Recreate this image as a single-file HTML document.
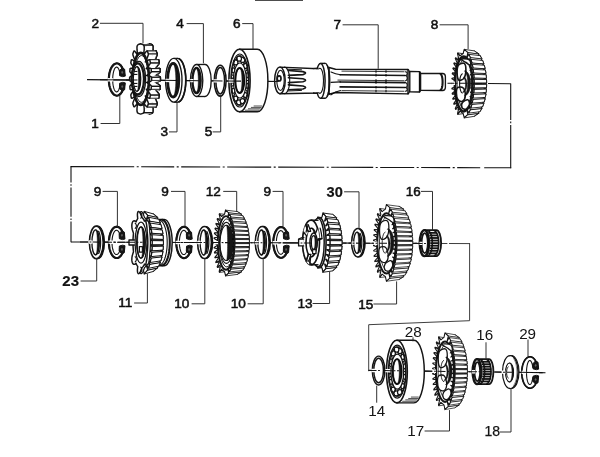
<!DOCTYPE html>
<html lang="en">
<head>
<meta charset="utf-8">
<title>Gearbox - exploded view</title>
<style>
html,body{margin:0;padding:0;background:#fff;}
body{width:600px;height:457px;overflow:hidden;font-family:"Liberation Sans",sans-serif;}
svg text{font-family:"Liberation Sans",sans-serif;}
</style>
</head>
<body>
<svg width="600" height="457" viewBox="0 0 600 457" font-family="'Liberation Sans', sans-serif" style="display:block;filter:url(#soft)">
<defs><filter id="soft" x="0" y="0" width="100%" height="100%"><feGaussianBlur stdDeviation="0.4"/></filter></defs>
<rect width="600" height="457" fill="#fff"/>
<line x1="255" y1="0.2" x2="303" y2="0.2" stroke="#121212" stroke-width="1.34" stroke-linecap="butt"/>
<line x1="87" y1="79.6" x2="280" y2="81.51" stroke="#121212" stroke-width="1.22" stroke-linecap="butt"/>
<line x1="488" y1="83.57" x2="510.7" y2="83.79" stroke="#121212" stroke-width="1.1" stroke-linecap="butt"/>
<line x1="510.7" y1="83.39" x2="510.7" y2="120" stroke="#121212" stroke-width="1.1" stroke-linecap="butt"/>
<line x1="510.7" y1="121.6" x2="510.7" y2="123.2" stroke="#121212" stroke-width="1.1" stroke-linecap="butt"/>
<line x1="510.7" y1="125" x2="510.7" y2="168.2" stroke="#121212" stroke-width="1.1" stroke-linecap="butt"/>
<line x1="511.2" y1="167.8" x2="70.5" y2="166.6" stroke="#121212" stroke-width="1.1" stroke-linecap="butt" stroke-dasharray="27 4 23 2.5 2 2.5 29 2.5 2 2.5 34 2.5 2 2.5 42 2.5 2 2.5 46 2.5 2 2.5 44 2.5 2 2.5 39 2.5 2 2.5 33 2.5 2 2.5 70"/>
<line x1="71" y1="166.4" x2="71" y2="242.2" stroke="#121212" stroke-width="1.1" stroke-linecap="butt" stroke-dasharray="16.2 1.6 1.6 1.6 29.4 1.6 1.6 1.6 40"/>
<line x1="71" y1="242" x2="441" y2="243.48" stroke="#121212" stroke-width="1.1" stroke-linecap="butt" stroke-dasharray="17 2 2.5 2"/>
<line x1="441" y1="243.48" x2="447.4" y2="243.51" stroke="#3a3a3a" stroke-width="0.98" stroke-linecap="butt"/>
<line x1="449" y1="243.51" x2="470" y2="243.6" stroke="#3a3a3a" stroke-width="0.98" stroke-linecap="butt"/>
<path d="M469.6 243.59 L469.6 320.7 L368.7 324.7 L368.7 370.8" fill="none" stroke="#3a3a3a" stroke-width="0.98" stroke-linejoin="miter" stroke-linecap="round"/>
<line x1="368.7" y1="370.4" x2="544" y2="372.68" stroke="#121212" stroke-width="1.1" stroke-linecap="butt" stroke-dasharray="12 2 2 2"/>
<path d="M124.83 75.38 L124.6 73.87 L124.29 72.42 L123.91 71.03 L123.46 69.72 L122.96 68.5 L122.39 67.38 L121.78 66.37 L121.12 65.49 L120.42 64.73 L119.68 64.12 L118.92 63.64 L118.14 63.31 L117.34 63.13 L116.55 63.1 L115.75 63.23 L114.96 63.5 L114.19 63.93 L113.45 64.49 L112.73 65.2 L112.06 66.04 L111.42 67 L110.84 68.08 L110.31 69.26 L109.85 70.54 L109.44 71.9 L109.11 73.34 L108.84 74.83 L108.65 76.36 L108.54 77.92 L108.5 79.5 L108.54 81.07 L108.65 82.63 L108.84 84.17 L109.11 85.66 L109.44 87.09 L109.85 88.45 L110.31 89.73 L110.84 90.91 L111.42 91.99 L112.06 92.96 L112.73 93.79 L113.45 94.5 L114.19 95.07 L114.96 95.49 L115.75 95.77 L116.55 95.89 L117.34 95.86 L118.14 95.68 L118.92 95.35 L119.68 94.88 L120.42 94.26 L121.12 93.5 L121.78 92.62 L122.39 91.61 L122.96 90.5 L123.46 89.28 L123.91 87.96 L124.29 86.58 L124.6 85.12 L124.83 83.61 L120.15 84.65 L119.99 85.64 L119.8 86.59 L119.58 87.48 L119.34 88.31 L119.08 89.06 L118.8 89.73 L118.5 90.32 L118.19 90.82 L117.86 91.23 L117.52 91.55 L117.17 91.76 L116.82 91.88 L116.47 91.89 L116.12 91.8 L115.77 91.61 L115.43 91.33 L115.1 90.94 L114.78 90.46 L114.48 89.9 L114.19 89.24 L113.92 88.51 L113.68 87.71 L113.46 86.83 L113.26 85.9 L113.09 84.92 L112.95 83.89 L112.84 82.82 L112.76 81.73 L112.72 80.62 L112.7 79.5 L112.72 78.38 L112.76 77.27 L112.84 76.17 L112.95 75.11 L113.09 74.08 L113.26 73.09 L113.46 72.16 L113.68 71.29 L113.92 70.48 L114.19 69.75 L114.48 69.1 L114.78 68.53 L115.1 68.05 L115.43 67.67 L115.77 67.38 L116.12 67.19 L116.47 67.1 L116.82 67.12 L117.17 67.23 L117.52 67.45 L117.86 67.76 L118.19 68.17 L118.5 68.67 L118.8 69.26 L119.08 69.94 L119.34 70.69 L119.58 71.51 L119.8 72.4 L119.99 73.35 L120.15 74.35 Z" fill="#fff" stroke="#121212" stroke-width="1.1" stroke-linejoin="round" stroke-linecap="round"/>
<path d="M123.31 70.29 L122.68 68.71 L121.96 67.29 L121.16 66.07 L120.29 65.07 L119.36 64.3 L118.38 63.77 L117.39 63.49 L116.38 63.47 L115.39 63.7 L114.41 64.19 L113.47 64.92 L112.59 65.89 L111.77 67.07 L111.03 68.45 L110.39 70.01 L109.85 71.72 L109.42 73.55 L109.1 75.48 L108.91 77.47 L108.85 79.5 L108.91 81.52 L109.1 83.52 L109.42 85.44 L109.85 87.28 L110.39 88.99 L111.03 90.55 L111.77 91.93 L112.59 93.11 L113.47 94.07 L114.41 94.8 L115.39 95.29 L116.38 95.53 L117.39 95.5 L118.38 95.22 L119.36 94.7 L120.29 93.92 L121.16 92.92 L121.96 91.7 L122.68 90.29 L123.31 88.7" fill="none" stroke="#121212" stroke-width="2.2" stroke-linejoin="round" stroke-linecap="round"/>
<path d="M125.23 75.78 L124.63 69.18 L122.03 67.98 L119.43 70.78 L119.63 75.78 L122.43 76.58 Z" fill="#121212" stroke="#121212" stroke-width="0.98" stroke-linejoin="round" stroke-linecap="round"/>
<ellipse cx="122.23" cy="72.38" rx="0.8" ry="1.1" fill="#666" stroke="#666" stroke-width="0.37"/>
<path d="M125.23 83.21 L124.63 89.81 L122.03 91.01 L119.43 88.21 L119.63 83.21 L122.43 82.41 Z" fill="#121212" stroke="#121212" stroke-width="0.98" stroke-linejoin="round" stroke-linecap="round"/>
<ellipse cx="122.23" cy="86.61" rx="0.8" ry="1.1" fill="#666" stroke="#666" stroke-width="0.37"/>
<line x1="107.6" y1="79.8" x2="113.4" y2="79.86" stroke="#fff" stroke-width="3.42" stroke-linecap="butt"/>
<line x1="100" y1="79.73" x2="134" y2="80.07" stroke="#121212" stroke-width="1.04" stroke-linecap="butt"/>
<path d="M149.4 114.13 L151.63 113.4 L152.54 112.67 L153.03 111.09 L152.99 108.23 L152.61 105 L152.32 102.73 L153.15 103.79 L154.37 105.57 L155.49 106.81 L156.12 106.8 L156.41 106.07 L156.68 105.33 L156.93 104.6 L157.16 103.87 L156.98 102.52 L156.1 100.24 L154.91 97.72 L154.11 95.93 L155.15 96.51 L156.7 97.58 L158.04 98.23 L158.65 98 L158.79 97.27 L158.93 96.53 L159.05 95.8 L159.18 95.07 L158.79 93.94 L157.57 92.25 L156.02 90.45 L155 89.13 L156.15 89.24 L157.88 89.59 L159.32 89.65 L159.92 89.2 L159.99 88.47 L160.05 87.73 L160.11 87 L160.16 86.27 L159.66 85.37 L158.26 84.26 L156.54 83.18 L155.39 82.33 L156.57 81.97 L158.36 81.6 L159.82 81.08 L160.39 80.4 L160.4 79.67 L160.4 78.93 L160.4 78.2 L160.39 77.47 L159.82 76.79 L158.36 76.27 L156.57 75.9 L155.39 75.53 L156.54 74.69 L158.26 73.61 L159.66 72.5 L160.16 71.6 L160.11 70.87 L160.05 70.13 L159.99 69.4 L159.92 68.67 L159.32 68.21 L157.88 68.28 L156.15 68.63 L155 68.73 L156.02 67.42 L157.57 65.62 L158.79 63.93 L159.18 62.8 L159.05 62.07 L158.93 61.33 L158.79 60.6 L158.65 59.87 L158.04 59.64 L156.7 60.29 L155.15 61.36 L154.11 61.93 L154.91 60.14 L156.1 57.63 L156.98 55.35 L157.16 54 L156.93 53.27 L156.68 52.53 L156.41 51.8 L156.12 51.07 L155.49 51.06 L154.37 52.3 L153.15 54.08 L152.32 55.13 L152.61 52.87 L152.99 49.64 L153.03 46.77 L152.54 45.2 L151.63 44.47 L149.4 43.73 L147.17 44.47 L146.26 45.2 L145.77 46.77 L145.81 49.64 L146.19 52.87 L146.48 55.13 L145.65 54.08 L144.43 52.3 L143.31 51.06 L142.68 51.07 L142.39 51.8 L142.12 52.53 L141.87 53.27 L141.64 54 L141.82 55.35 L142.7 57.63 L143.89 60.14 L144.69 61.93 L143.65 61.36 L142.1 60.29 L140.76 59.64 L140.15 59.87 L140.01 60.6 L139.87 61.33 L139.75 62.07 L139.62 62.8 L140.01 63.93 L141.23 65.62 L142.78 67.42 L143.8 68.73 L142.65 68.63 L140.92 68.28 L139.48 68.21 L138.88 68.67 L138.81 69.4 L138.75 70.13 L138.69 70.87 L138.64 71.6 L139.14 72.5 L140.54 73.61 L142.26 74.69 L143.41 75.53 L142.23 75.9 L140.44 76.27 L138.98 76.79 L138.41 77.47 L138.4 78.2 L138.4 78.93 L138.4 79.67 L138.41 80.4 L138.98 81.08 L140.44 81.6 L142.23 81.97 L143.41 82.33 L142.26 83.18 L140.54 84.26 L139.14 85.37 L138.64 86.27 L138.69 87 L138.75 87.73 L138.81 88.47 L138.88 89.2 L139.48 89.65 L140.92 89.59 L142.65 89.24 L143.8 89.13 L142.78 90.45 L141.23 92.25 L140.01 93.94 L139.62 95.07 L139.75 95.8 L139.87 96.53 L140.01 97.27 L140.15 98 L140.76 98.23 L142.1 97.58 L143.65 96.51 L144.69 95.93 L143.89 97.72 L142.7 100.24 L141.82 102.52 L141.64 103.87 L141.87 104.6 L142.12 105.33 L142.39 106.07 L142.68 106.8 L143.31 106.81 L144.43 105.57 L145.65 103.79 L146.48 102.73 L146.19 105 L145.81 108.23 L145.77 111.09 L146.26 112.67 L147.17 113.4 Z" fill="#fff" stroke="#121212" stroke-width="1.46" stroke-linejoin="round" stroke-linecap="round"/>
<path d="M130.68 89.65 L132.12 89.59 L140.92 89.59 L139.48 89.65 Z" fill="#fff" stroke="#fff" stroke-width="0.37" stroke-linejoin="round" stroke-linecap="round"/>
<path d="M139.48 89.65 L140.92 89.59" fill="none" stroke="#121212" stroke-width="1.46" stroke-linejoin="round" stroke-linecap="round"/>
<path d="M132.12 68.28 L130.68 68.21 L139.48 68.21 L140.92 68.28 Z" fill="#fff" stroke="#fff" stroke-width="0.37" stroke-linejoin="round" stroke-linecap="round"/>
<path d="M140.92 68.28 L139.48 68.21" fill="none" stroke="#121212" stroke-width="1.46" stroke-linejoin="round" stroke-linecap="round"/>
<path d="M132.12 89.59 L133.85 89.24 L142.65 89.24 L140.92 89.59 Z" fill="#fff" stroke="#fff" stroke-width="0.37" stroke-linejoin="round" stroke-linecap="round"/>
<path d="M140.92 89.59 L142.65 89.24" fill="none" stroke="#121212" stroke-width="1.46" stroke-linejoin="round" stroke-linecap="round"/>
<path d="M133.85 68.63 L132.12 68.28 L140.92 68.28 L142.65 68.63 Z" fill="#fff" stroke="#fff" stroke-width="0.37" stroke-linejoin="round" stroke-linecap="round"/>
<path d="M142.65 68.63 L140.92 68.28" fill="none" stroke="#121212" stroke-width="1.46" stroke-linejoin="round" stroke-linecap="round"/>
<path d="M131.96 98.23 L133.3 97.58 L142.1 97.58 L140.76 98.23 Z" fill="#fff" stroke="#fff" stroke-width="0.37" stroke-linejoin="round" stroke-linecap="round"/>
<path d="M140.76 98.23 L142.1 97.58" fill="none" stroke="#121212" stroke-width="1.46" stroke-linejoin="round" stroke-linecap="round"/>
<path d="M133.3 60.29 L131.96 59.64 L140.76 59.64 L142.1 60.29 Z" fill="#fff" stroke="#fff" stroke-width="0.37" stroke-linejoin="round" stroke-linecap="round"/>
<path d="M142.1 60.29 L140.76 59.64" fill="none" stroke="#121212" stroke-width="1.46" stroke-linejoin="round" stroke-linecap="round"/>
<path d="M133.85 89.24 L135 89.13 L143.8 89.13 L142.65 89.24 Z" fill="#fff" stroke="#fff" stroke-width="0.37" stroke-linejoin="round" stroke-linecap="round"/>
<path d="M142.65 89.24 L143.8 89.13" fill="none" stroke="#121212" stroke-width="1.46" stroke-linejoin="round" stroke-linecap="round"/>
<path d="M135 68.73 L133.85 68.63 L142.65 68.63 L143.8 68.73 Z" fill="#fff" stroke="#fff" stroke-width="0.37" stroke-linejoin="round" stroke-linecap="round"/>
<path d="M143.8 68.73 L142.65 68.63" fill="none" stroke="#121212" stroke-width="1.46" stroke-linejoin="round" stroke-linecap="round"/>
<path d="M133.3 97.58 L134.85 96.51 L143.65 96.51 L142.1 97.58 Z" fill="#fff" stroke="#fff" stroke-width="0.37" stroke-linejoin="round" stroke-linecap="round"/>
<path d="M142.1 97.58 L143.65 96.51" fill="none" stroke="#121212" stroke-width="1.46" stroke-linejoin="round" stroke-linecap="round"/>
<path d="M134.85 61.36 L133.3 60.29 L142.1 60.29 L143.65 61.36 Z" fill="#fff" stroke="#fff" stroke-width="0.37" stroke-linejoin="round" stroke-linecap="round"/>
<path d="M143.65 61.36 L142.1 60.29" fill="none" stroke="#121212" stroke-width="1.46" stroke-linejoin="round" stroke-linecap="round"/>
<path d="M134.85 96.51 L135.89 95.93 L144.69 95.93 L143.65 96.51 Z" fill="#fff" stroke="#fff" stroke-width="0.37" stroke-linejoin="round" stroke-linecap="round"/>
<path d="M143.65 96.51 L144.69 95.93" fill="none" stroke="#121212" stroke-width="1.46" stroke-linejoin="round" stroke-linecap="round"/>
<path d="M135.89 61.93 L134.85 61.36 L143.65 61.36 L144.69 61.93 Z" fill="#fff" stroke="#fff" stroke-width="0.37" stroke-linejoin="round" stroke-linecap="round"/>
<path d="M144.69 61.93 L143.65 61.36" fill="none" stroke="#121212" stroke-width="1.46" stroke-linejoin="round" stroke-linecap="round"/>
<path d="M135.63 52.3 L134.51 51.06 L143.31 51.06 L144.43 52.3 Z" fill="#fff" stroke="#fff" stroke-width="0.37" stroke-linejoin="round" stroke-linecap="round"/>
<path d="M144.43 52.3 L143.31 51.06" fill="none" stroke="#121212" stroke-width="1.46" stroke-linejoin="round" stroke-linecap="round"/>
<path d="M134.51 106.81 L135.63 105.57 L144.43 105.57 L143.31 106.81 Z" fill="#fff" stroke="#fff" stroke-width="0.37" stroke-linejoin="round" stroke-linecap="round"/>
<path d="M143.31 106.81 L144.43 105.57" fill="none" stroke="#121212" stroke-width="1.46" stroke-linejoin="round" stroke-linecap="round"/>
<path d="M135.63 105.57 L136.85 103.79 L145.65 103.79 L144.43 105.57 Z" fill="#fff" stroke="#fff" stroke-width="0.37" stroke-linejoin="round" stroke-linecap="round"/>
<path d="M144.43 105.57 L145.65 103.79" fill="none" stroke="#121212" stroke-width="1.46" stroke-linejoin="round" stroke-linecap="round"/>
<path d="M136.85 54.08 L135.63 52.3 L144.43 52.3 L145.65 54.08 Z" fill="#fff" stroke="#fff" stroke-width="0.37" stroke-linejoin="round" stroke-linecap="round"/>
<path d="M145.65 54.08 L144.43 52.3" fill="none" stroke="#121212" stroke-width="1.46" stroke-linejoin="round" stroke-linecap="round"/>
<path d="M136.85 103.79 L137.68 102.73 L146.48 102.73 L145.65 103.79 Z" fill="#fff" stroke="#fff" stroke-width="0.37" stroke-linejoin="round" stroke-linecap="round"/>
<path d="M145.65 103.79 L146.48 102.73" fill="none" stroke="#121212" stroke-width="1.46" stroke-linejoin="round" stroke-linecap="round"/>
<path d="M137.68 55.13 L136.85 54.08 L145.65 54.08 L146.48 55.13 Z" fill="#fff" stroke="#fff" stroke-width="0.37" stroke-linejoin="round" stroke-linecap="round"/>
<path d="M146.48 55.13 L145.65 54.08" fill="none" stroke="#121212" stroke-width="1.46" stroke-linejoin="round" stroke-linecap="round"/>
<path d="M142.83 44.47 L140.6 43.73 L149.4 43.73 L151.63 44.47 Z" fill="#fff" stroke="#fff" stroke-width="0.37" stroke-linejoin="round" stroke-linecap="round"/>
<path d="M151.63 44.47 L149.4 43.73" fill="none" stroke="#121212" stroke-width="1.46" stroke-linejoin="round" stroke-linecap="round"/>
<path d="M140.6 114.13 L142.83 113.4 L151.63 113.4 L149.4 114.13 Z" fill="#fff" stroke="#fff" stroke-width="0.37" stroke-linejoin="round" stroke-linecap="round"/>
<path d="M149.4 114.13 L151.63 113.4" fill="none" stroke="#121212" stroke-width="1.46" stroke-linejoin="round" stroke-linecap="round"/>
<path d="M143.74 45.2 L142.83 44.47 L151.63 44.47 L152.54 45.2 Z" fill="#fff" stroke="#fff" stroke-width="0.37" stroke-linejoin="round" stroke-linecap="round"/>
<path d="M152.54 45.2 L151.63 44.47" fill="none" stroke="#121212" stroke-width="1.46" stroke-linejoin="round" stroke-linecap="round"/>
<path d="M143.74 45.2 L152.54 45.2" fill="none" stroke="#121212" stroke-width="1.22" stroke-linejoin="round" stroke-linecap="round"/>
<path d="M142.83 113.4 L143.74 112.67 L152.54 112.67 L151.63 113.4 Z" fill="#fff" stroke="#fff" stroke-width="0.37" stroke-linejoin="round" stroke-linecap="round"/>
<path d="M151.63 113.4 L152.54 112.67" fill="none" stroke="#121212" stroke-width="1.46" stroke-linejoin="round" stroke-linecap="round"/>
<path d="M143.74 112.67 L152.54 112.67" fill="none" stroke="#121212" stroke-width="1.22" stroke-linejoin="round" stroke-linecap="round"/>
<path d="M143.74 112.67 L144.23 111.09 L153.03 111.09 L152.54 112.67 Z" fill="#fff" stroke="#fff" stroke-width="0.37" stroke-linejoin="round" stroke-linecap="round"/>
<path d="M152.54 112.67 L153.03 111.09" fill="none" stroke="#121212" stroke-width="1.46" stroke-linejoin="round" stroke-linecap="round"/>
<path d="M143.74 112.67 L152.54 112.67" fill="none" stroke="#121212" stroke-width="1.22" stroke-linejoin="round" stroke-linecap="round"/>
<path d="M144.23 46.77 L143.74 45.2 L152.54 45.2 L153.03 46.77 Z" fill="#fff" stroke="#fff" stroke-width="0.37" stroke-linejoin="round" stroke-linecap="round"/>
<path d="M153.03 46.77 L152.54 45.2" fill="none" stroke="#121212" stroke-width="1.46" stroke-linejoin="round" stroke-linecap="round"/>
<path d="M143.74 45.2 L152.54 45.2" fill="none" stroke="#121212" stroke-width="1.22" stroke-linejoin="round" stroke-linecap="round"/>
<path d="M144.19 49.64 L144.23 46.77 L153.03 46.77 L152.99 49.64 Z" fill="#fff" stroke="#fff" stroke-width="0.37" stroke-linejoin="round" stroke-linecap="round"/>
<path d="M152.99 49.64 L153.03 46.77" fill="none" stroke="#121212" stroke-width="1.46" stroke-linejoin="round" stroke-linecap="round"/>
<path d="M144.23 111.09 L144.19 108.23 L152.99 108.23 L153.03 111.09 Z" fill="#fff" stroke="#fff" stroke-width="0.37" stroke-linejoin="round" stroke-linecap="round"/>
<path d="M153.03 111.09 L152.99 108.23" fill="none" stroke="#121212" stroke-width="1.46" stroke-linejoin="round" stroke-linecap="round"/>
<path d="M143.81 52.87 L144.19 49.64 L152.99 49.64 L152.61 52.87 Z" fill="#fff" stroke="#fff" stroke-width="0.37" stroke-linejoin="round" stroke-linecap="round"/>
<path d="M152.61 52.87 L152.99 49.64" fill="none" stroke="#121212" stroke-width="1.46" stroke-linejoin="round" stroke-linecap="round"/>
<path d="M144.19 108.23 L143.81 105 L152.61 105 L152.99 108.23 Z" fill="#fff" stroke="#fff" stroke-width="0.37" stroke-linejoin="round" stroke-linecap="round"/>
<path d="M152.99 108.23 L152.61 105" fill="none" stroke="#121212" stroke-width="1.46" stroke-linejoin="round" stroke-linecap="round"/>
<path d="M143.81 105 L143.52 102.73 L152.32 102.73 L152.61 105 Z" fill="#fff" stroke="#fff" stroke-width="0.37" stroke-linejoin="round" stroke-linecap="round"/>
<path d="M152.61 105 L152.32 102.73" fill="none" stroke="#121212" stroke-width="1.46" stroke-linejoin="round" stroke-linecap="round"/>
<path d="M143.52 55.13 L143.81 52.87 L152.61 52.87 L152.32 55.13 Z" fill="#fff" stroke="#fff" stroke-width="0.37" stroke-linejoin="round" stroke-linecap="round"/>
<path d="M152.32 55.13 L152.61 52.87" fill="none" stroke="#121212" stroke-width="1.46" stroke-linejoin="round" stroke-linecap="round"/>
<path d="M147.32 51.07 L146.69 51.06 L155.49 51.06 L156.12 51.07 Z" fill="#fff" stroke="#fff" stroke-width="0.37" stroke-linejoin="round" stroke-linecap="round"/>
<path d="M156.12 51.07 L155.49 51.06" fill="none" stroke="#121212" stroke-width="1.46" stroke-linejoin="round" stroke-linecap="round"/>
<path d="M147.32 51.07 L156.12 51.07" fill="none" stroke="#121212" stroke-width="1.22" stroke-linejoin="round" stroke-linecap="round"/>
<path d="M146.69 106.81 L147.32 106.8 L156.12 106.8 L155.49 106.81 Z" fill="#fff" stroke="#fff" stroke-width="0.37" stroke-linejoin="round" stroke-linecap="round"/>
<path d="M155.49 106.81 L156.12 106.8" fill="none" stroke="#121212" stroke-width="1.46" stroke-linejoin="round" stroke-linecap="round"/>
<path d="M147.32 106.8 L156.12 106.8" fill="none" stroke="#121212" stroke-width="1.22" stroke-linejoin="round" stroke-linecap="round"/>
<path d="M146.11 97.72 L145.31 95.93 L154.11 95.93 L154.91 97.72 Z" fill="#fff" stroke="#fff" stroke-width="0.37" stroke-linejoin="round" stroke-linecap="round"/>
<path d="M154.91 97.72 L154.11 95.93" fill="none" stroke="#121212" stroke-width="1.46" stroke-linejoin="round" stroke-linecap="round"/>
<path d="M145.31 61.93 L146.11 60.14 L154.91 60.14 L154.11 61.93 Z" fill="#fff" stroke="#fff" stroke-width="0.37" stroke-linejoin="round" stroke-linecap="round"/>
<path d="M154.11 61.93 L154.91 60.14" fill="none" stroke="#121212" stroke-width="1.46" stroke-linejoin="round" stroke-linecap="round"/>
<path d="M147.32 106.8 L147.61 106.07 L156.41 106.07 L156.12 106.8 Z" fill="#fff" stroke="#fff" stroke-width="0.37" stroke-linejoin="round" stroke-linecap="round"/>
<path d="M156.12 106.8 L156.41 106.07" fill="none" stroke="#121212" stroke-width="1.46" stroke-linejoin="round" stroke-linecap="round"/>
<path d="M147.32 106.8 L156.12 106.8" fill="none" stroke="#121212" stroke-width="1.22" stroke-linejoin="round" stroke-linecap="round"/>
<path d="M147.61 51.8 L147.32 51.07 L156.12 51.07 L156.41 51.8 Z" fill="#fff" stroke="#fff" stroke-width="0.37" stroke-linejoin="round" stroke-linecap="round"/>
<path d="M156.41 51.8 L156.12 51.07" fill="none" stroke="#121212" stroke-width="1.46" stroke-linejoin="round" stroke-linecap="round"/>
<path d="M147.32 51.07 L156.12 51.07" fill="none" stroke="#121212" stroke-width="1.22" stroke-linejoin="round" stroke-linecap="round"/>
<path d="M147.61 106.07 L147.88 105.33 L156.68 105.33 L156.41 106.07 Z" fill="#fff" stroke="#fff" stroke-width="0.37" stroke-linejoin="round" stroke-linecap="round"/>
<path d="M156.41 106.07 L156.68 105.33" fill="none" stroke="#121212" stroke-width="1.46" stroke-linejoin="round" stroke-linecap="round"/>
<path d="M147.88 52.53 L147.61 51.8 L156.41 51.8 L156.68 52.53 Z" fill="#fff" stroke="#fff" stroke-width="0.37" stroke-linejoin="round" stroke-linecap="round"/>
<path d="M156.68 52.53 L156.41 51.8" fill="none" stroke="#121212" stroke-width="1.46" stroke-linejoin="round" stroke-linecap="round"/>
<path d="M147.3 100.24 L146.11 97.72 L154.91 97.72 L156.1 100.24 Z" fill="#fff" stroke="#fff" stroke-width="0.37" stroke-linejoin="round" stroke-linecap="round"/>
<path d="M156.1 100.24 L154.91 97.72" fill="none" stroke="#121212" stroke-width="1.46" stroke-linejoin="round" stroke-linecap="round"/>
<path d="M146.11 60.14 L147.3 57.63 L156.1 57.63 L154.91 60.14 Z" fill="#fff" stroke="#fff" stroke-width="0.37" stroke-linejoin="round" stroke-linecap="round"/>
<path d="M154.91 60.14 L156.1 57.63" fill="none" stroke="#121212" stroke-width="1.46" stroke-linejoin="round" stroke-linecap="round"/>
<path d="M147.88 105.33 L148.13 104.6 L156.93 104.6 L156.68 105.33 Z" fill="#fff" stroke="#fff" stroke-width="0.37" stroke-linejoin="round" stroke-linecap="round"/>
<path d="M156.68 105.33 L156.93 104.6" fill="none" stroke="#121212" stroke-width="1.46" stroke-linejoin="round" stroke-linecap="round"/>
<path d="M148.13 53.27 L147.88 52.53 L156.68 52.53 L156.93 53.27 Z" fill="#fff" stroke="#fff" stroke-width="0.37" stroke-linejoin="round" stroke-linecap="round"/>
<path d="M156.93 53.27 L156.68 52.53" fill="none" stroke="#121212" stroke-width="1.46" stroke-linejoin="round" stroke-linecap="round"/>
<path d="M148.18 102.52 L147.3 100.24 L156.1 100.24 L156.98 102.52 Z" fill="#fff" stroke="#fff" stroke-width="0.37" stroke-linejoin="round" stroke-linecap="round"/>
<path d="M156.98 102.52 L156.1 100.24" fill="none" stroke="#121212" stroke-width="1.46" stroke-linejoin="round" stroke-linecap="round"/>
<path d="M147.3 57.63 L148.18 55.35 L156.98 55.35 L156.1 57.63 Z" fill="#fff" stroke="#fff" stroke-width="0.37" stroke-linejoin="round" stroke-linecap="round"/>
<path d="M156.1 57.63 L156.98 55.35" fill="none" stroke="#121212" stroke-width="1.46" stroke-linejoin="round" stroke-linecap="round"/>
<path d="M148.13 104.6 L148.36 103.87 L157.16 103.87 L156.93 104.6 Z" fill="#fff" stroke="#fff" stroke-width="0.37" stroke-linejoin="round" stroke-linecap="round"/>
<path d="M156.93 104.6 L157.16 103.87" fill="none" stroke="#121212" stroke-width="1.46" stroke-linejoin="round" stroke-linecap="round"/>
<path d="M148.36 103.87 L157.16 103.87" fill="none" stroke="#121212" stroke-width="1.22" stroke-linejoin="round" stroke-linecap="round"/>
<path d="M148.36 54 L148.13 53.27 L156.93 53.27 L157.16 54 Z" fill="#fff" stroke="#fff" stroke-width="0.37" stroke-linejoin="round" stroke-linecap="round"/>
<path d="M157.16 54 L156.93 53.27" fill="none" stroke="#121212" stroke-width="1.46" stroke-linejoin="round" stroke-linecap="round"/>
<path d="M148.36 54 L157.16 54" fill="none" stroke="#121212" stroke-width="1.22" stroke-linejoin="round" stroke-linecap="round"/>
<path d="M148.36 103.87 L148.18 102.52 L156.98 102.52 L157.16 103.87 Z" fill="#fff" stroke="#fff" stroke-width="0.37" stroke-linejoin="round" stroke-linecap="round"/>
<path d="M157.16 103.87 L156.98 102.52" fill="none" stroke="#121212" stroke-width="1.46" stroke-linejoin="round" stroke-linecap="round"/>
<path d="M148.36 103.87 L157.16 103.87" fill="none" stroke="#121212" stroke-width="1.22" stroke-linejoin="round" stroke-linecap="round"/>
<path d="M148.18 55.35 L148.36 54 L157.16 54 L156.98 55.35 Z" fill="#fff" stroke="#fff" stroke-width="0.37" stroke-linejoin="round" stroke-linecap="round"/>
<path d="M156.98 55.35 L157.16 54" fill="none" stroke="#121212" stroke-width="1.46" stroke-linejoin="round" stroke-linecap="round"/>
<path d="M148.36 54 L157.16 54" fill="none" stroke="#121212" stroke-width="1.22" stroke-linejoin="round" stroke-linecap="round"/>
<path d="M147.22 90.45 L146.2 89.13 L155 89.13 L156.02 90.45 Z" fill="#fff" stroke="#fff" stroke-width="0.37" stroke-linejoin="round" stroke-linecap="round"/>
<path d="M156.02 90.45 L155 89.13" fill="none" stroke="#121212" stroke-width="1.46" stroke-linejoin="round" stroke-linecap="round"/>
<path d="M146.2 68.73 L147.22 67.42 L156.02 67.42 L155 68.73 Z" fill="#fff" stroke="#fff" stroke-width="0.37" stroke-linejoin="round" stroke-linecap="round"/>
<path d="M155 68.73 L156.02 67.42" fill="none" stroke="#121212" stroke-width="1.46" stroke-linejoin="round" stroke-linecap="round"/>
<path d="M148.77 92.25 L147.22 90.45 L156.02 90.45 L157.57 92.25 Z" fill="#fff" stroke="#fff" stroke-width="0.37" stroke-linejoin="round" stroke-linecap="round"/>
<path d="M157.57 92.25 L156.02 90.45" fill="none" stroke="#121212" stroke-width="1.46" stroke-linejoin="round" stroke-linecap="round"/>
<path d="M147.22 67.42 L148.77 65.62 L157.57 65.62 L156.02 67.42 Z" fill="#fff" stroke="#fff" stroke-width="0.37" stroke-linejoin="round" stroke-linecap="round"/>
<path d="M156.02 67.42 L157.57 65.62" fill="none" stroke="#121212" stroke-width="1.46" stroke-linejoin="round" stroke-linecap="round"/>
<path d="M147.74 83.18 L146.59 82.33 L155.39 82.33 L156.54 83.18 Z" fill="#fff" stroke="#fff" stroke-width="0.37" stroke-linejoin="round" stroke-linecap="round"/>
<path d="M156.54 83.18 L155.39 82.33" fill="none" stroke="#121212" stroke-width="1.46" stroke-linejoin="round" stroke-linecap="round"/>
<path d="M146.59 75.53 L147.74 74.69 L156.54 74.69 L155.39 75.53 Z" fill="#fff" stroke="#fff" stroke-width="0.37" stroke-linejoin="round" stroke-linecap="round"/>
<path d="M155.39 75.53 L156.54 74.69" fill="none" stroke="#121212" stroke-width="1.46" stroke-linejoin="round" stroke-linecap="round"/>
<path d="M146.59 82.33 L147.77 81.97 L156.57 81.97 L155.39 82.33 Z" fill="#fff" stroke="#fff" stroke-width="0.37" stroke-linejoin="round" stroke-linecap="round"/>
<path d="M155.39 82.33 L156.57 81.97" fill="none" stroke="#121212" stroke-width="1.46" stroke-linejoin="round" stroke-linecap="round"/>
<path d="M147.77 75.9 L146.59 75.53 L155.39 75.53 L156.57 75.9 Z" fill="#fff" stroke="#fff" stroke-width="0.37" stroke-linejoin="round" stroke-linecap="round"/>
<path d="M156.57 75.9 L155.39 75.53" fill="none" stroke="#121212" stroke-width="1.46" stroke-linejoin="round" stroke-linecap="round"/>
<path d="M149.24 98.23 L149.85 98 L158.65 98 L158.04 98.23 Z" fill="#fff" stroke="#fff" stroke-width="0.37" stroke-linejoin="round" stroke-linecap="round"/>
<path d="M158.04 98.23 L158.65 98" fill="none" stroke="#121212" stroke-width="1.46" stroke-linejoin="round" stroke-linecap="round"/>
<path d="M149.85 98 L158.65 98" fill="none" stroke="#121212" stroke-width="1.22" stroke-linejoin="round" stroke-linecap="round"/>
<path d="M149.85 59.87 L149.24 59.64 L158.04 59.64 L158.65 59.87 Z" fill="#fff" stroke="#fff" stroke-width="0.37" stroke-linejoin="round" stroke-linecap="round"/>
<path d="M158.65 59.87 L158.04 59.64" fill="none" stroke="#121212" stroke-width="1.46" stroke-linejoin="round" stroke-linecap="round"/>
<path d="M149.85 59.87 L158.65 59.87" fill="none" stroke="#121212" stroke-width="1.22" stroke-linejoin="round" stroke-linecap="round"/>
<path d="M149.85 98 L149.99 97.27 L158.79 97.27 L158.65 98 Z" fill="#fff" stroke="#fff" stroke-width="0.37" stroke-linejoin="round" stroke-linecap="round"/>
<path d="M158.65 98 L158.79 97.27" fill="none" stroke="#121212" stroke-width="1.46" stroke-linejoin="round" stroke-linecap="round"/>
<path d="M149.85 98 L158.65 98" fill="none" stroke="#121212" stroke-width="1.22" stroke-linejoin="round" stroke-linecap="round"/>
<path d="M149.99 60.6 L149.85 59.87 L158.65 59.87 L158.79 60.6 Z" fill="#fff" stroke="#fff" stroke-width="0.37" stroke-linejoin="round" stroke-linecap="round"/>
<path d="M158.79 60.6 L158.65 59.87" fill="none" stroke="#121212" stroke-width="1.46" stroke-linejoin="round" stroke-linecap="round"/>
<path d="M149.85 59.87 L158.65 59.87" fill="none" stroke="#121212" stroke-width="1.22" stroke-linejoin="round" stroke-linecap="round"/>
<path d="M149.99 93.94 L148.77 92.25 L157.57 92.25 L158.79 93.94 Z" fill="#fff" stroke="#fff" stroke-width="0.37" stroke-linejoin="round" stroke-linecap="round"/>
<path d="M158.79 93.94 L157.57 92.25" fill="none" stroke="#121212" stroke-width="1.46" stroke-linejoin="round" stroke-linecap="round"/>
<path d="M148.77 65.62 L149.99 63.93 L158.79 63.93 L157.57 65.62 Z" fill="#fff" stroke="#fff" stroke-width="0.37" stroke-linejoin="round" stroke-linecap="round"/>
<path d="M157.57 65.62 L158.79 63.93" fill="none" stroke="#121212" stroke-width="1.46" stroke-linejoin="round" stroke-linecap="round"/>
<path d="M149.46 84.26 L147.74 83.18 L156.54 83.18 L158.26 84.26 Z" fill="#fff" stroke="#fff" stroke-width="0.37" stroke-linejoin="round" stroke-linecap="round"/>
<path d="M158.26 84.26 L156.54 83.18" fill="none" stroke="#121212" stroke-width="1.46" stroke-linejoin="round" stroke-linecap="round"/>
<path d="M147.74 74.69 L149.46 73.61 L158.26 73.61 L156.54 74.69 Z" fill="#fff" stroke="#fff" stroke-width="0.37" stroke-linejoin="round" stroke-linecap="round"/>
<path d="M156.54 74.69 L158.26 73.61" fill="none" stroke="#121212" stroke-width="1.46" stroke-linejoin="round" stroke-linecap="round"/>
<path d="M149.99 97.27 L150.13 96.53 L158.93 96.53 L158.79 97.27 Z" fill="#fff" stroke="#fff" stroke-width="0.37" stroke-linejoin="round" stroke-linecap="round"/>
<path d="M158.79 97.27 L158.93 96.53" fill="none" stroke="#121212" stroke-width="1.46" stroke-linejoin="round" stroke-linecap="round"/>
<path d="M150.13 61.33 L149.99 60.6 L158.79 60.6 L158.93 61.33 Z" fill="#fff" stroke="#fff" stroke-width="0.37" stroke-linejoin="round" stroke-linecap="round"/>
<path d="M158.93 61.33 L158.79 60.6" fill="none" stroke="#121212" stroke-width="1.46" stroke-linejoin="round" stroke-linecap="round"/>
<path d="M147.77 81.97 L149.56 81.6 L158.36 81.6 L156.57 81.97 Z" fill="#fff" stroke="#fff" stroke-width="0.37" stroke-linejoin="round" stroke-linecap="round"/>
<path d="M156.57 81.97 L158.36 81.6" fill="none" stroke="#121212" stroke-width="1.46" stroke-linejoin="round" stroke-linecap="round"/>
<path d="M149.56 76.27 L147.77 75.9 L156.57 75.9 L158.36 76.27 Z" fill="#fff" stroke="#fff" stroke-width="0.37" stroke-linejoin="round" stroke-linecap="round"/>
<path d="M158.36 76.27 L156.57 75.9" fill="none" stroke="#121212" stroke-width="1.46" stroke-linejoin="round" stroke-linecap="round"/>
<path d="M150.25 62.07 L150.13 61.33 L158.93 61.33 L159.05 62.07 Z" fill="#fff" stroke="#fff" stroke-width="0.37" stroke-linejoin="round" stroke-linecap="round"/>
<path d="M159.05 62.07 L158.93 61.33" fill="none" stroke="#121212" stroke-width="1.46" stroke-linejoin="round" stroke-linecap="round"/>
<path d="M150.13 96.53 L150.25 95.8 L159.05 95.8 L158.93 96.53 Z" fill="#fff" stroke="#fff" stroke-width="0.37" stroke-linejoin="round" stroke-linecap="round"/>
<path d="M158.93 96.53 L159.05 95.8" fill="none" stroke="#121212" stroke-width="1.46" stroke-linejoin="round" stroke-linecap="round"/>
<path d="M150.38 95.07 L149.99 93.94 L158.79 93.94 L159.18 95.07 Z" fill="#fff" stroke="#fff" stroke-width="0.37" stroke-linejoin="round" stroke-linecap="round"/>
<path d="M159.18 95.07 L158.79 93.94" fill="none" stroke="#121212" stroke-width="1.46" stroke-linejoin="round" stroke-linecap="round"/>
<path d="M150.38 95.07 L159.18 95.07" fill="none" stroke="#121212" stroke-width="1.22" stroke-linejoin="round" stroke-linecap="round"/>
<path d="M149.99 63.93 L150.38 62.8 L159.18 62.8 L158.79 63.93 Z" fill="#fff" stroke="#fff" stroke-width="0.37" stroke-linejoin="round" stroke-linecap="round"/>
<path d="M158.79 63.93 L159.18 62.8" fill="none" stroke="#121212" stroke-width="1.46" stroke-linejoin="round" stroke-linecap="round"/>
<path d="M150.38 62.8 L159.18 62.8" fill="none" stroke="#121212" stroke-width="1.22" stroke-linejoin="round" stroke-linecap="round"/>
<path d="M150.38 62.8 L150.25 62.07 L159.05 62.07 L159.18 62.8 Z" fill="#fff" stroke="#fff" stroke-width="0.37" stroke-linejoin="round" stroke-linecap="round"/>
<path d="M159.18 62.8 L159.05 62.07" fill="none" stroke="#121212" stroke-width="1.46" stroke-linejoin="round" stroke-linecap="round"/>
<path d="M150.38 62.8 L159.18 62.8" fill="none" stroke="#121212" stroke-width="1.22" stroke-linejoin="round" stroke-linecap="round"/>
<path d="M150.25 95.8 L150.38 95.07 L159.18 95.07 L159.05 95.8 Z" fill="#fff" stroke="#fff" stroke-width="0.37" stroke-linejoin="round" stroke-linecap="round"/>
<path d="M159.05 95.8 L159.18 95.07" fill="none" stroke="#121212" stroke-width="1.46" stroke-linejoin="round" stroke-linecap="round"/>
<path d="M150.38 95.07 L159.18 95.07" fill="none" stroke="#121212" stroke-width="1.22" stroke-linejoin="round" stroke-linecap="round"/>
<path d="M150.86 85.37 L149.46 84.26 L158.26 84.26 L159.66 85.37 Z" fill="#fff" stroke="#fff" stroke-width="0.37" stroke-linejoin="round" stroke-linecap="round"/>
<path d="M159.66 85.37 L158.26 84.26" fill="none" stroke="#121212" stroke-width="1.46" stroke-linejoin="round" stroke-linecap="round"/>
<path d="M149.46 73.61 L150.86 72.5 L159.66 72.5 L158.26 73.61 Z" fill="#fff" stroke="#fff" stroke-width="0.37" stroke-linejoin="round" stroke-linecap="round"/>
<path d="M158.26 73.61 L159.66 72.5" fill="none" stroke="#121212" stroke-width="1.46" stroke-linejoin="round" stroke-linecap="round"/>
<path d="M149.56 81.6 L151.02 81.08 L159.82 81.08 L158.36 81.6 Z" fill="#fff" stroke="#fff" stroke-width="0.37" stroke-linejoin="round" stroke-linecap="round"/>
<path d="M158.36 81.6 L159.82 81.08" fill="none" stroke="#121212" stroke-width="1.46" stroke-linejoin="round" stroke-linecap="round"/>
<path d="M151.02 76.79 L149.56 76.27 L158.36 76.27 L159.82 76.79 Z" fill="#fff" stroke="#fff" stroke-width="0.37" stroke-linejoin="round" stroke-linecap="round"/>
<path d="M159.82 76.79 L158.36 76.27" fill="none" stroke="#121212" stroke-width="1.46" stroke-linejoin="round" stroke-linecap="round"/>
<path d="M150.52 89.65 L151.12 89.2 L159.92 89.2 L159.32 89.65 Z" fill="#fff" stroke="#fff" stroke-width="0.37" stroke-linejoin="round" stroke-linecap="round"/>
<path d="M159.32 89.65 L159.92 89.2" fill="none" stroke="#121212" stroke-width="1.46" stroke-linejoin="round" stroke-linecap="round"/>
<path d="M151.12 89.2 L159.92 89.2" fill="none" stroke="#121212" stroke-width="1.22" stroke-linejoin="round" stroke-linecap="round"/>
<path d="M151.12 68.67 L150.52 68.21 L159.32 68.21 L159.92 68.67 Z" fill="#fff" stroke="#fff" stroke-width="0.37" stroke-linejoin="round" stroke-linecap="round"/>
<path d="M159.92 68.67 L159.32 68.21" fill="none" stroke="#121212" stroke-width="1.46" stroke-linejoin="round" stroke-linecap="round"/>
<path d="M151.12 68.67 L159.92 68.67" fill="none" stroke="#121212" stroke-width="1.22" stroke-linejoin="round" stroke-linecap="round"/>
<path d="M151.12 89.2 L151.19 88.47 L159.99 88.47 L159.92 89.2 Z" fill="#fff" stroke="#fff" stroke-width="0.37" stroke-linejoin="round" stroke-linecap="round"/>
<path d="M159.92 89.2 L159.99 88.47" fill="none" stroke="#121212" stroke-width="1.46" stroke-linejoin="round" stroke-linecap="round"/>
<path d="M151.12 89.2 L159.92 89.2" fill="none" stroke="#121212" stroke-width="1.22" stroke-linejoin="round" stroke-linecap="round"/>
<path d="M151.19 69.4 L151.12 68.67 L159.92 68.67 L159.99 69.4 Z" fill="#fff" stroke="#fff" stroke-width="0.37" stroke-linejoin="round" stroke-linecap="round"/>
<path d="M159.99 69.4 L159.92 68.67" fill="none" stroke="#121212" stroke-width="1.46" stroke-linejoin="round" stroke-linecap="round"/>
<path d="M151.12 68.67 L159.92 68.67" fill="none" stroke="#121212" stroke-width="1.22" stroke-linejoin="round" stroke-linecap="round"/>
<path d="M151.19 88.47 L151.25 87.73 L160.05 87.73 L159.99 88.47 Z" fill="#fff" stroke="#fff" stroke-width="0.37" stroke-linejoin="round" stroke-linecap="round"/>
<path d="M159.99 88.47 L160.05 87.73" fill="none" stroke="#121212" stroke-width="1.46" stroke-linejoin="round" stroke-linecap="round"/>
<path d="M151.25 70.13 L151.19 69.4 L159.99 69.4 L160.05 70.13 Z" fill="#fff" stroke="#fff" stroke-width="0.37" stroke-linejoin="round" stroke-linecap="round"/>
<path d="M160.05 70.13 L159.99 69.4" fill="none" stroke="#121212" stroke-width="1.46" stroke-linejoin="round" stroke-linecap="round"/>
<path d="M151.36 86.27 L150.86 85.37 L159.66 85.37 L160.16 86.27 Z" fill="#fff" stroke="#fff" stroke-width="0.37" stroke-linejoin="round" stroke-linecap="round"/>
<path d="M160.16 86.27 L159.66 85.37" fill="none" stroke="#121212" stroke-width="1.46" stroke-linejoin="round" stroke-linecap="round"/>
<path d="M151.36 86.27 L160.16 86.27" fill="none" stroke="#121212" stroke-width="1.22" stroke-linejoin="round" stroke-linecap="round"/>
<path d="M150.86 72.5 L151.36 71.6 L160.16 71.6 L159.66 72.5 Z" fill="#fff" stroke="#fff" stroke-width="0.37" stroke-linejoin="round" stroke-linecap="round"/>
<path d="M159.66 72.5 L160.16 71.6" fill="none" stroke="#121212" stroke-width="1.46" stroke-linejoin="round" stroke-linecap="round"/>
<path d="M151.36 71.6 L160.16 71.6" fill="none" stroke="#121212" stroke-width="1.22" stroke-linejoin="round" stroke-linecap="round"/>
<path d="M151.25 87.73 L151.31 87 L160.11 87 L160.05 87.73 Z" fill="#fff" stroke="#fff" stroke-width="0.37" stroke-linejoin="round" stroke-linecap="round"/>
<path d="M160.05 87.73 L160.11 87" fill="none" stroke="#121212" stroke-width="1.46" stroke-linejoin="round" stroke-linecap="round"/>
<path d="M151.31 70.87 L151.25 70.13 L160.05 70.13 L160.11 70.87 Z" fill="#fff" stroke="#fff" stroke-width="0.37" stroke-linejoin="round" stroke-linecap="round"/>
<path d="M160.11 70.87 L160.05 70.13" fill="none" stroke="#121212" stroke-width="1.46" stroke-linejoin="round" stroke-linecap="round"/>
<path d="M151.31 87 L151.36 86.27 L160.16 86.27 L160.11 87 Z" fill="#fff" stroke="#fff" stroke-width="0.37" stroke-linejoin="round" stroke-linecap="round"/>
<path d="M160.11 87 L160.16 86.27" fill="none" stroke="#121212" stroke-width="1.46" stroke-linejoin="round" stroke-linecap="round"/>
<path d="M151.36 86.27 L160.16 86.27" fill="none" stroke="#121212" stroke-width="1.22" stroke-linejoin="round" stroke-linecap="round"/>
<path d="M151.36 71.6 L151.31 70.87 L160.11 70.87 L160.16 71.6 Z" fill="#fff" stroke="#fff" stroke-width="0.37" stroke-linejoin="round" stroke-linecap="round"/>
<path d="M160.16 71.6 L160.11 70.87" fill="none" stroke="#121212" stroke-width="1.46" stroke-linejoin="round" stroke-linecap="round"/>
<path d="M151.36 71.6 L160.16 71.6" fill="none" stroke="#121212" stroke-width="1.22" stroke-linejoin="round" stroke-linecap="round"/>
<path d="M151.02 81.08 L151.59 80.4 L160.39 80.4 L159.82 81.08 Z" fill="#fff" stroke="#fff" stroke-width="0.37" stroke-linejoin="round" stroke-linecap="round"/>
<path d="M159.82 81.08 L160.39 80.4" fill="none" stroke="#121212" stroke-width="1.46" stroke-linejoin="round" stroke-linecap="round"/>
<path d="M151.59 80.4 L160.39 80.4" fill="none" stroke="#121212" stroke-width="1.22" stroke-linejoin="round" stroke-linecap="round"/>
<path d="M151.59 77.47 L151.02 76.79 L159.82 76.79 L160.39 77.47 Z" fill="#fff" stroke="#fff" stroke-width="0.37" stroke-linejoin="round" stroke-linecap="round"/>
<path d="M160.39 77.47 L159.82 76.79" fill="none" stroke="#121212" stroke-width="1.46" stroke-linejoin="round" stroke-linecap="round"/>
<path d="M151.59 77.47 L160.39 77.47" fill="none" stroke="#121212" stroke-width="1.22" stroke-linejoin="round" stroke-linecap="round"/>
<path d="M151.59 80.4 L151.6 79.67 L160.4 79.67 L160.39 80.4 Z" fill="#fff" stroke="#fff" stroke-width="0.37" stroke-linejoin="round" stroke-linecap="round"/>
<path d="M160.39 80.4 L160.4 79.67" fill="none" stroke="#121212" stroke-width="1.46" stroke-linejoin="round" stroke-linecap="round"/>
<path d="M151.59 80.4 L160.39 80.4" fill="none" stroke="#121212" stroke-width="1.22" stroke-linejoin="round" stroke-linecap="round"/>
<path d="M151.6 78.2 L151.59 77.47 L160.39 77.47 L160.4 78.2 Z" fill="#fff" stroke="#fff" stroke-width="0.37" stroke-linejoin="round" stroke-linecap="round"/>
<path d="M160.4 78.2 L160.39 77.47" fill="none" stroke="#121212" stroke-width="1.46" stroke-linejoin="round" stroke-linecap="round"/>
<path d="M151.59 77.47 L160.39 77.47" fill="none" stroke="#121212" stroke-width="1.22" stroke-linejoin="round" stroke-linecap="round"/>
<path d="M151.6 79.67 L151.6 78.93 L160.4 78.93 L160.4 79.67 Z" fill="#fff" stroke="#fff" stroke-width="0.37" stroke-linejoin="round" stroke-linecap="round"/>
<path d="M160.4 79.67 L160.4 78.93" fill="none" stroke="#121212" stroke-width="1.46" stroke-linejoin="round" stroke-linecap="round"/>
<path d="M151.6 78.93 L151.6 78.2 L160.4 78.2 L160.4 78.93 Z" fill="#fff" stroke="#fff" stroke-width="0.37" stroke-linejoin="round" stroke-linecap="round"/>
<path d="M160.4 78.93 L160.4 78.2" fill="none" stroke="#121212" stroke-width="1.46" stroke-linejoin="round" stroke-linecap="round"/>
<path d="M140.6 114.13 L142.83 113.4 L143.74 112.67 L144.23 111.09 L144.19 108.23 L143.81 105 L143.52 102.73 L144.35 103.79 L145.57 105.57 L146.69 106.81 L147.32 106.8 L147.61 106.07 L147.88 105.33 L148.13 104.6 L148.36 103.87 L148.18 102.52 L147.3 100.24 L146.11 97.72 L145.31 95.93 L146.35 96.51 L147.9 97.58 L149.24 98.23 L149.85 98 L149.99 97.27 L150.13 96.53 L150.25 95.8 L150.38 95.07 L149.99 93.94 L148.77 92.25 L147.22 90.45 L146.2 89.13 L147.35 89.24 L149.08 89.59 L150.52 89.65 L151.12 89.2 L151.19 88.47 L151.25 87.73 L151.31 87 L151.36 86.27 L150.86 85.37 L149.46 84.26 L147.74 83.18 L146.59 82.33 L147.77 81.97 L149.56 81.6 L151.02 81.08 L151.59 80.4 L151.6 79.67 L151.6 78.93 L151.6 78.2 L151.59 77.47 L151.02 76.79 L149.56 76.27 L147.77 75.9 L146.59 75.53 L147.74 74.69 L149.46 73.61 L150.86 72.5 L151.36 71.6 L151.31 70.87 L151.25 70.13 L151.19 69.4 L151.12 68.67 L150.52 68.21 L149.08 68.28 L147.35 68.63 L146.2 68.73 L147.22 67.42 L148.77 65.62 L149.99 63.93 L150.38 62.8 L150.25 62.07 L150.13 61.33 L149.99 60.6 L149.85 59.87 L149.24 59.64 L147.9 60.29 L146.35 61.36 L145.31 61.93 L146.11 60.14 L147.3 57.63 L148.18 55.35 L148.36 54 L148.13 53.27 L147.88 52.53 L147.61 51.8 L147.32 51.07 L146.69 51.06 L145.57 52.3 L144.35 54.08 L143.52 55.13 L143.81 52.87 L144.19 49.64 L144.23 46.77 L143.74 45.2 L142.83 44.47 L140.6 43.73 L138.37 44.47 L137.46 45.2 L136.97 46.77 L137.01 49.64 L137.39 52.87 L137.68 55.13 L136.85 54.08 L135.63 52.3 L134.51 51.06 L133.88 51.07 L133.59 51.8 L133.32 52.53 L133.07 53.27 L132.84 54 L133.02 55.35 L133.9 57.63 L135.09 60.14 L135.89 61.93 L134.85 61.36 L133.3 60.29 L131.96 59.64 L131.35 59.87 L131.21 60.6 L131.07 61.33 L130.95 62.07 L130.82 62.8 L131.21 63.93 L132.43 65.62 L133.98 67.42 L135 68.73 L133.85 68.63 L132.12 68.28 L130.68 68.21 L130.08 68.67 L130.01 69.4 L129.95 70.13 L129.89 70.87 L129.84 71.6 L130.34 72.5 L131.74 73.61 L133.46 74.69 L134.61 75.53 L133.43 75.9 L131.64 76.27 L130.18 76.79 L129.61 77.47 L129.6 78.2 L129.6 78.93 L129.6 79.67 L129.61 80.4 L130.18 81.08 L131.64 81.6 L133.43 81.97 L134.61 82.33 L133.46 83.18 L131.74 84.26 L130.34 85.37 L129.84 86.27 L129.89 87 L129.95 87.73 L130.01 88.47 L130.08 89.2 L130.68 89.65 L132.12 89.59 L133.85 89.24 L135 89.13 L133.98 90.45 L132.43 92.25 L131.21 93.94 L130.82 95.07 L130.95 95.8 L131.07 96.53 L131.21 97.27 L131.35 98 L131.96 98.23 L133.3 97.58 L134.85 96.51 L135.89 95.93 L135.09 97.72 L133.9 100.24 L133.02 102.52 L132.84 103.87 L133.07 104.6 L133.32 105.33 L133.59 106.07 L133.88 106.8 L134.51 106.81 L135.63 105.57 L136.85 103.79 L137.68 102.73 L137.39 105 L137.01 108.23 L136.97 111.09 L137.46 112.67 L138.37 113.4 Z" fill="#fff" stroke="#121212" stroke-width="1.46" stroke-linejoin="round" stroke-linecap="round"/>
<ellipse cx="140.8" cy="78.93" rx="8.12" ry="26" fill="none" stroke="#121212" stroke-width="2.68"/>
<ellipse cx="141.5" cy="78.93" rx="7.31" ry="23.4" fill="none" stroke="#121212" stroke-width="0.98"/>
<ellipse cx="139" cy="78.93" rx="6.6" ry="17.6" fill="#fff" stroke="#121212" stroke-width="1.34"/>
<ellipse cx="137.8" cy="78.93" rx="6.2" ry="15.6" fill="#fff" stroke="#121212" stroke-width="2.32"/>
<ellipse cx="137" cy="78.93" rx="3.7" ry="12.4" fill="#fff" stroke="#121212" stroke-width="1.22"/>
<path d="M137 91.33 L137.39 91.27 L137.77 91.06 L138.14 90.73 L138.5 90.26 L138.85 89.67 L139.17 88.97 L139.48 88.15 L139.75 87.23 L139.99 86.22 L140.2 85.13 L140.38 83.98 L140.52 82.77 L140.62 81.51 L140.68 80.23 L140.7 78.93 L140.68 77.64 L140.62 76.36 L140.52 75.1 L140.38 73.89 L140.2 72.73 L139.99 71.65 L139.75 70.64 L139.48 69.72 L139.17 68.9 L138.85 68.2 L138.5 67.61 L138.14 67.14 L137.77 66.81 L137.39 66.6 L137 66.53 L137 66.53 L137.16 66.6 L137.31 66.81 L137.46 67.14 L137.61 67.61 L137.75 68.2 L137.88 68.9 L138 69.72 L138.11 70.64 L138.21 71.65 L138.3 72.73 L138.37 73.89 L138.43 75.1 L138.47 76.36 L138.49 77.64 L138.5 78.93 L138.49 80.23 L138.47 81.51 L138.43 82.77 L138.37 83.98 L138.3 85.13 L138.21 86.22 L138.11 87.23 L138 88.15 L137.88 88.97 L137.75 89.67 L137.61 90.26 L137.46 90.73 L137.31 91.06 L137.16 91.27 L137 91.33 Z" fill="#121212" stroke="#121212" stroke-width="0.49" stroke-linejoin="round" stroke-linecap="round"/>
<line x1="133.6" y1="71.43" x2="137.4" y2="71.43" stroke="#121212" stroke-width="1.1" stroke-linecap="butt"/>
<line x1="133.6" y1="74.43" x2="137.4" y2="74.43" stroke="#121212" stroke-width="1.1" stroke-linecap="butt"/>
<line x1="133.6" y1="83.43" x2="137.4" y2="83.43" stroke="#121212" stroke-width="1.1" stroke-linecap="butt"/>
<line x1="133.6" y1="86.43" x2="137.4" y2="86.43" stroke="#121212" stroke-width="1.1" stroke-linecap="butt"/>
<line x1="126" y1="79.99" x2="137.5" y2="80.1" stroke="#121212" stroke-width="1.04" stroke-linecap="butt"/>
<ellipse cx="177.6" cy="80.26" rx="8.2" ry="21.9" fill="#fff" stroke="#121212" stroke-width="1.34"/>
<rect x="173.8" y="58.86" width="3.8" height="42.8" fill="#fff"/>
<line x1="173.8" y1="58.36" x2="177.6" y2="58.36" stroke="#121212" stroke-width="1.22" stroke-linecap="butt"/>
<line x1="173.8" y1="102.16" x2="177.6" y2="102.16" stroke="#121212" stroke-width="1.22" stroke-linecap="butt"/>
<ellipse cx="173.8" cy="80.26" rx="8.2" ry="21.9" fill="#fff" stroke="#121212" stroke-width="1.34"/>
<ellipse cx="173.2" cy="80.26" rx="5.6" ry="16.8" fill="#fff" stroke="#121212" stroke-width="2.81"/>
<path d="M173.2 96.06 L173.68 95.97 L174.16 95.72 L174.62 95.29 L175.07 94.7 L175.5 93.94 L175.9 93.04 L176.28 92 L176.62 90.83 L176.92 89.55 L177.18 88.16 L177.4 86.69 L177.57 85.14 L177.7 83.55 L177.77 81.91 L177.8 80.26 L177.77 78.61 L177.7 76.98 L177.57 75.38 L177.4 73.83 L177.18 72.36 L176.92 70.97 L176.62 69.69 L176.28 68.52 L175.9 67.48 L175.5 66.58 L175.07 65.83 L174.62 65.23 L174.16 64.81 L173.68 64.55 L173.2 64.46 L173.2 64.46 L173.47 64.55 L173.74 64.81 L174 65.23 L174.26 65.83 L174.5 66.58 L174.73 67.48 L174.94 68.52 L175.13 69.69 L175.3 70.97 L175.45 72.36 L175.58 73.83 L175.67 75.38 L175.74 76.98 L175.79 78.61 L175.8 80.26 L175.79 81.91 L175.74 83.55 L175.67 85.14 L175.58 86.69 L175.45 88.16 L175.3 89.55 L175.13 90.83 L174.94 92 L174.73 93.04 L174.5 93.94 L174.26 94.7 L174 95.29 L173.74 95.72 L173.47 95.97 L173.2 96.06 Z" fill="#121212" stroke="#121212" stroke-width="0.49" stroke-linejoin="round" stroke-linecap="round"/>
<path d="M179.02 101.83 L179.77 101.38 L180.49 100.75 L181.19 99.94 L181.86 98.97 L182.5 97.83 L183.09 96.54 L183.63 95.1 L184.12 93.54 L184.55 91.87 L184.93 90.09 L185.24 88.23 L185.48 86.3 L185.66 84.31 L185.76 82.3 L185.8 80.26 L185.76 78.23 L185.66 76.21 L185.48 74.22 L185.24 72.29 L184.93 70.43 L184.55 68.66 L184.12 66.98 L183.63 65.42 L183.09 63.99 L182.5 62.69 L181.86 61.56 L181.19 60.58 L180.49 59.77 L179.77 59.14 L179.02 58.69" fill="none" stroke="#121212" stroke-width="1.71" stroke-linejoin="round" stroke-linecap="round"/>
<line x1="165.4" y1="80.38" x2="169.4" y2="80.42" stroke="#fff" stroke-width="3.42" stroke-linecap="butt"/>
<line x1="160.5" y1="80.33" x2="177.5" y2="80.5" stroke="#121212" stroke-width="1.04" stroke-linecap="butt"/>
<ellipse cx="205" cy="80.49" rx="6.2" ry="16" fill="#fff" stroke="#121212" stroke-width="1.34"/>
<rect x="196.6" y="64.49" width="8.4" height="32" fill="#fff"/>
<line x1="196.6" y1="64.49" x2="205" y2="64.49" stroke="#121212" stroke-width="1.34" stroke-linecap="butt"/>
<line x1="196.6" y1="96.49" x2="205" y2="96.49" stroke="#121212" stroke-width="1.34" stroke-linecap="butt"/>
<ellipse cx="196.6" cy="80.49" rx="6.2" ry="16" fill="#fff" stroke="#121212" stroke-width="1.34"/>
<ellipse cx="196.5" cy="80.49" rx="4.1" ry="12.6" fill="#fff" stroke="#121212" stroke-width="2.44"/>
<path d="M196.5 92.29 L196.86 92.22 L197.21 92.03 L197.55 91.71 L197.88 91.26 L198.2 90.7 L198.5 90.03 L198.78 89.25 L199.03 88.38 L199.25 87.42 L199.44 86.39 L199.61 85.28 L199.73 84.13 L199.83 82.94 L199.88 81.72 L199.9 80.49 L199.88 79.25 L199.83 78.03 L199.73 76.84 L199.61 75.69 L199.44 74.59 L199.25 73.55 L199.03 72.59 L198.78 71.72 L198.5 70.94 L198.2 70.27 L197.88 69.71 L197.55 69.26 L197.21 68.94 L196.86 68.75 L196.5 68.69 L196.5 68.69 L196.69 68.75 L196.87 68.94 L197.06 69.26 L197.23 69.71 L197.4 70.27 L197.56 70.94 L197.7 71.72 L197.84 72.59 L197.96 73.55 L198.06 74.59 L198.14 75.69 L198.21 76.84 L198.26 78.03 L198.29 79.25 L198.3 80.49 L198.29 81.72 L198.26 82.94 L198.21 84.13 L198.14 85.28 L198.06 86.39 L197.96 87.42 L197.84 88.38 L197.7 89.25 L197.56 90.03 L197.4 90.7 L197.23 91.26 L197.06 91.71 L196.87 92.03 L196.69 92.22 L196.5 92.29 Z" fill="#121212" stroke="#121212" stroke-width="0.49" stroke-linejoin="round" stroke-linecap="round"/>
<line x1="190.2" y1="80.62" x2="193.4" y2="80.65" stroke="#fff" stroke-width="3.42" stroke-linecap="butt"/>
<line x1="186" y1="80.58" x2="199.5" y2="80.71" stroke="#121212" stroke-width="1.04" stroke-linecap="butt"/>
<ellipse cx="220.2" cy="80.72" rx="5.9" ry="15.4" fill="#fff" stroke="#121212" stroke-width="1.52"/>
<ellipse cx="220.2" cy="80.72" rx="4.36" ry="13.2" fill="#fff" stroke="#121212" stroke-width="1.52"/>
<line x1="213.4" y1="80.85" x2="217.2" y2="80.89" stroke="#fff" stroke-width="3.42" stroke-linecap="butt"/>
<line x1="211" y1="80.83" x2="222.5" y2="80.94" stroke="#121212" stroke-width="1.04" stroke-linecap="butt"/>
<path d="M239.5 49.21 L257.3 49.21 A10.6 31.3 0 0 1 257.3 111.81 L239.5 111.81 Z" fill="#fff" stroke="#121212" stroke-width="1.46" stroke-linejoin="round" stroke-linecap="round"/>
<ellipse cx="239.5" cy="80.51" rx="10.6" ry="31.3" fill="#fff" stroke="#121212" stroke-width="1.59"/>
<ellipse cx="239.8" cy="80.51" rx="8.97" ry="26.5" fill="none" stroke="#121212" stroke-width="1.22"/>
<ellipse cx="247.13" cy="75.25" rx="1.26" ry="2.5" fill="#fff" stroke="#121212" stroke-width="1.22"/>
<path d="M245.72 71.5 L247.28 69.08" fill="none" stroke="#121212" stroke-width="1.1" stroke-linejoin="round" stroke-linecap="round"/>
<ellipse cx="245.48" cy="65.93" rx="1.95" ry="2.5" fill="#fff" stroke="#121212" stroke-width="1.22"/>
<path d="M243.63 64.55 L244.63 60.27" fill="none" stroke="#121212" stroke-width="1.1" stroke-linejoin="round" stroke-linecap="round"/>
<ellipse cx="242.54" cy="59.94" rx="2.39" ry="2.5" fill="#fff" stroke="#121212" stroke-width="1.22"/>
<path d="M240.69 61.26 L240.9 56.09" fill="none" stroke="#121212" stroke-width="1.1" stroke-linejoin="round" stroke-linecap="round"/>
<ellipse cx="239" cy="58.68" rx="2.49" ry="2.5" fill="#fff" stroke="#121212" stroke-width="1.22"/>
<path d="M237.57 62.38 L236.95 57.51" fill="none" stroke="#121212" stroke-width="1.1" stroke-linejoin="round" stroke-linecap="round"/>
<ellipse cx="235.67" cy="62.41" rx="2.21" ry="2.5" fill="#fff" stroke="#121212" stroke-width="1.22"/>
<path d="M234.98 67.65 L233.66 64.2" fill="none" stroke="#121212" stroke-width="1.1" stroke-linejoin="round" stroke-linecap="round"/>
<ellipse cx="233.3" cy="70.29" rx="1.63" ry="2.5" fill="#fff" stroke="#121212" stroke-width="1.22"/>
<path d="M233.52 75.87 L231.81 74.63" fill="none" stroke="#121212" stroke-width="1.1" stroke-linejoin="round" stroke-linecap="round"/>
<ellipse cx="232.45" cy="80.51" rx="0.9" ry="2.5" fill="#fff" stroke="#121212" stroke-width="1.22"/>
<path d="M233.52 85.16 L231.81 86.4" fill="none" stroke="#121212" stroke-width="1.1" stroke-linejoin="round" stroke-linecap="round"/>
<ellipse cx="233.3" cy="90.74" rx="1.63" ry="2.5" fill="#fff" stroke="#121212" stroke-width="1.22"/>
<path d="M234.98 93.38 L233.66 96.83" fill="none" stroke="#121212" stroke-width="1.1" stroke-linejoin="round" stroke-linecap="round"/>
<ellipse cx="235.67" cy="98.62" rx="2.21" ry="2.5" fill="#fff" stroke="#121212" stroke-width="1.22"/>
<path d="M237.57 98.65 L236.95 103.52" fill="none" stroke="#121212" stroke-width="1.1" stroke-linejoin="round" stroke-linecap="round"/>
<ellipse cx="239" cy="102.35" rx="2.49" ry="2.5" fill="#fff" stroke="#121212" stroke-width="1.22"/>
<path d="M240.69 99.77 L240.9 104.94" fill="none" stroke="#121212" stroke-width="1.1" stroke-linejoin="round" stroke-linecap="round"/>
<ellipse cx="242.54" cy="101.09" rx="2.39" ry="2.5" fill="#fff" stroke="#121212" stroke-width="1.22"/>
<path d="M243.63 96.48 L244.63 100.76" fill="none" stroke="#121212" stroke-width="1.1" stroke-linejoin="round" stroke-linecap="round"/>
<ellipse cx="245.48" cy="95.1" rx="1.95" ry="2.5" fill="#fff" stroke="#121212" stroke-width="1.22"/>
<path d="M245.72 89.53 L247.28 91.95" fill="none" stroke="#121212" stroke-width="1.1" stroke-linejoin="round" stroke-linecap="round"/>
<ellipse cx="247.13" cy="85.78" rx="1.26" ry="2.5" fill="#fff" stroke="#121212" stroke-width="1.22"/>
<path d="M246.47 80.51 L248.23 80.51" fill="none" stroke="#121212" stroke-width="1.1" stroke-linejoin="round" stroke-linecap="round"/>
<ellipse cx="239.9" cy="80.51" rx="8.43" ry="24.9" fill="none" stroke="#121212" stroke-width="0.98"/>
<ellipse cx="239.9" cy="80.51" rx="6.53" ry="17.5" fill="#fff" stroke="#121212" stroke-width="1.22"/>
<ellipse cx="239.7" cy="80.51" rx="4.63" ry="12.5" fill="#fff" stroke="#121212" stroke-width="1.83"/>
<path d="M239.7 93.01 L240.18 92.95 L240.66 92.74 L241.13 92.4 L241.58 91.93 L242.02 91.34 L242.42 90.63 L242.8 89.8 L243.14 88.88 L243.45 87.86 L243.71 86.76 L243.93 85.6 L244.11 84.38 L244.23 83.11 L244.31 81.82 L244.33 80.51 L244.31 79.21 L244.23 77.92 L244.11 76.65 L243.93 75.43 L243.71 74.26 L243.45 73.17 L243.14 72.15 L242.8 71.23 L242.42 70.4 L242.02 69.69 L241.58 69.1 L241.13 68.63 L240.66 68.29 L240.18 68.08 L239.7 68.01 L239.7 68.01 L239.93 68.08 L240.16 68.29 L240.39 68.63 L240.61 69.1 L240.82 69.69 L241.01 70.4 L241.19 71.23 L241.36 72.15 L241.51 73.17 L241.63 74.26 L241.74 75.43 L241.82 76.65 L241.88 77.92 L241.92 79.21 L241.93 80.51 L241.92 81.82 L241.88 83.11 L241.82 84.38 L241.74 85.6 L241.63 86.76 L241.51 87.86 L241.36 88.88 L241.19 89.8 L241.01 90.63 L240.82 91.34 L240.61 91.93 L240.39 92.4 L240.16 92.74 L239.93 92.95 L239.7 93.01 Z" fill="#121212" stroke="#121212" stroke-width="0.49" stroke-linejoin="round" stroke-linecap="round"/>
<path d="M239.7 68.01 L239.22 68.08 L238.74 68.29 L238.27 68.63 L237.82 69.1 L237.38 69.69 L236.98 70.4 L236.6 71.23 L236.26 72.15 L235.95 73.17 L235.69 74.26 L235.47 75.43 L235.29 76.65 L235.17 77.92 L235.09 79.21 L235.07 80.51 L235.09 81.82 L235.17 83.11 L235.29 84.38 L235.47 85.6 L235.69 86.76 L235.95 87.86 L236.26 88.88 L236.6 89.8 L236.98 90.63 L237.38 91.34 L237.82 91.93 L238.27 92.4 L238.74 92.74 L239.22 92.95 L239.7 93.01 L239.7 93.01 L239.32 92.95 L238.94 92.74 L238.58 92.4 L238.22 91.93 L237.88 91.34 L237.56 90.63 L237.27 89.8 L237 88.88 L236.76 87.86 L236.55 86.76 L236.38 85.6 L236.24 84.38 L236.15 83.11 L236.09 81.82 L236.07 80.51 L236.09 79.21 L236.15 77.92 L236.24 76.65 L236.38 75.43 L236.55 74.26 L236.76 73.17 L237 72.15 L237.27 71.23 L237.56 70.4 L237.88 69.69 L238.22 69.1 L238.58 68.63 L238.94 68.29 L239.32 68.08 L239.7 68.01 Z" fill="#121212" stroke="#121212" stroke-width="0.49" stroke-linejoin="round" stroke-linecap="round"/>
<line x1="244.85" y1="110.21" x2="259.45" y2="110.21" stroke="#333" stroke-width="0.85" stroke-linecap="butt"/>
<line x1="248.03" y1="108.81" x2="260.63" y2="108.81" stroke="#333" stroke-width="0.85" stroke-linecap="butt"/>
<line x1="250.92" y1="107.41" x2="261.52" y2="107.41" stroke="#333" stroke-width="0.85" stroke-linecap="butt"/>
<line x1="253.65" y1="106.01" x2="262.25" y2="106.01" stroke="#333" stroke-width="0.85" stroke-linecap="butt"/>
<line x1="228.5" y1="81" x2="233.5" y2="81.05" stroke="#fff" stroke-width="3.42" stroke-linecap="butt"/>
<line x1="226.5" y1="80.98" x2="241" y2="81.12" stroke="#121212" stroke-width="1.04" stroke-linecap="butt"/>
<path d="M279.9 67.11 L318 68.69 L318 93.09 L279.9 93.71 Z" fill="#fff" stroke="#121212" stroke-width="1.46" stroke-linejoin="round" stroke-linecap="round"/>
<ellipse cx="279.9" cy="80.41" rx="5.3" ry="13.3" fill="#fff" stroke="#121212" stroke-width="1.46"/>
<ellipse cx="280.5" cy="80.41" rx="3.7" ry="10.1" fill="none" stroke="#121212" stroke-width="1.1"/>
<ellipse cx="279.1" cy="78.41" rx="1.9" ry="2.6" fill="#fff" stroke="#121212" stroke-width="1.71"/>
<path d="M284.4 93.71 L285.09 93.6 L285.77 93.26 L286.43 92.7 L287.05 91.93 L287.63 90.96 L288.15 89.81 L288.6 88.51 L288.99 87.06 L289.3 85.5 L289.52 83.85 L289.65 82.15 L289.7 80.41 L289.65 78.67 L289.52 76.97 L289.3 75.32 L288.99 73.76 L288.6 72.31 L288.15 71.01 L287.63 69.86 L287.05 68.89 L286.43 68.12 L285.77 67.56 L285.09 67.22 L284.4 67.11" fill="none" stroke="#121212" stroke-width="1.1" stroke-linejoin="round" stroke-linecap="round"/>
<path d="M288.4 70.51 L302.9 71.61 Q308.4 73.11 302.9 74.61 L288.4 75.41" fill="none" stroke="#121212" stroke-width="1.59" stroke-linejoin="round" stroke-linecap="round"/>
<path d="M288.4 77.71 L302.9 78.81 Q308.4 80.31 302.9 81.81 L288.4 82.61" fill="none" stroke="#121212" stroke-width="1.59" stroke-linejoin="round" stroke-linecap="round"/>
<path d="M288.4 84.91 L302.9 86.01 Q308.4 87.51 302.9 89.01 L288.4 89.81" fill="none" stroke="#121212" stroke-width="1.59" stroke-linejoin="round" stroke-linecap="round"/>
<line x1="286.9" y1="69.21" x2="301.9" y2="69.81" stroke="#121212" stroke-width="0.98" stroke-linecap="butt"/>
<line x1="286.9" y1="91.01" x2="301.9" y2="90.41" stroke="#121212" stroke-width="0.98" stroke-linecap="butt"/>
<ellipse cx="325.1" cy="80.81" rx="4.6" ry="17.4" fill="#fff" stroke="#121212" stroke-width="1.34"/>
<rect x="320.5" y="63.41" width="4.6" height="34.8" fill="#fff"/>
<line x1="320.5" y1="63.41" x2="325.1" y2="63.41" stroke="#121212" stroke-width="1.46" stroke-linecap="butt"/>
<line x1="320.5" y1="98.21" x2="325.1" y2="98.21" stroke="#121212" stroke-width="1.46" stroke-linecap="butt"/>
<ellipse cx="320.5" cy="80.81" rx="4.6" ry="17.4" fill="#fff" stroke="#121212" stroke-width="1.46"/>
<ellipse cx="319.9" cy="80.81" rx="3.6" ry="12.6" fill="#fff" stroke="#121212" stroke-width="1.1"/>
<rect x="313.5" y="69.41" width="6" height="22.8" fill="#fff"/>
<line x1="313" y1="68.61" x2="318.3" y2="68.21" stroke="#121212" stroke-width="1.34" stroke-linecap="butt"/>
<line x1="313" y1="93.01" x2="318.3" y2="93.41" stroke="#121212" stroke-width="1.34" stroke-linecap="butt"/>
<path d="M329 67.48 L335.5 69.28 L408 69.48 L408 93.88 L335.5 92.48 L329 94.28 Z" fill="#fff" stroke="#121212" stroke-width="1.46" stroke-linejoin="round" stroke-linecap="round"/>
<path d="M327.26 96.17 L327.62 95.38 L327.95 94.46 L328.27 93.43 L328.55 92.3 L328.81 91.08 L329.04 89.77 L329.24 88.39 L329.4 86.95 L329.53 85.46 L329.63 83.93 L329.68 82.38 L329.7 80.81 L329.68 79.24 L329.63 77.69 L329.53 76.16 L329.4 74.67 L329.24 73.23 L329.04 71.85 L328.81 70.54 L328.55 69.32 L328.27 68.19 L327.95 67.16 L327.62 66.25 L327.26 65.45" fill="none" stroke="#121212" stroke-width="1.46" stroke-linejoin="round" stroke-linecap="round"/>
<line x1="339.5" y1="74.8" x2="405.4" y2="75.45" stroke="#121212" stroke-width="1.59" stroke-linecap="butt"/>
<line x1="339.5" y1="82" x2="405.4" y2="82.65" stroke="#121212" stroke-width="1.59" stroke-linecap="butt"/>
<line x1="339.5" y1="86.9" x2="405.4" y2="87.55" stroke="#121212" stroke-width="1.59" stroke-linecap="butt"/>
<line x1="341.5" y1="71.12" x2="404.4" y2="71.75" stroke="#121212" stroke-width="0.85" stroke-linecap="butt"/>
<line x1="337.5" y1="80.08" x2="404.4" y2="80.75" stroke="#121212" stroke-width="0.85" stroke-linecap="butt"/>
<line x1="341.5" y1="90.62" x2="404.4" y2="91.25" stroke="#121212" stroke-width="0.85" stroke-linecap="butt"/>
<path d="M405.4 75.45 L406.09 75.31 L406.67 74.91 L407.06 74.31 L407.2 73.6 L407.06 72.89 L406.67 72.29 L406.09 71.89 L405.4 71.75" fill="none" stroke="#121212" stroke-width="1.1" stroke-linejoin="round" stroke-linecap="round"/>
<path d="M405.4 80.75 L406.09 80.55 L406.67 79.98 L407.06 79.12 L407.2 78.1 L407.06 77.09 L406.67 76.23 L406.09 75.65 L405.4 75.45" fill="none" stroke="#121212" stroke-width="1.1" stroke-linejoin="round" stroke-linecap="round"/>
<path d="M405.4 87.55 L406.09 87.37 L406.67 86.83 L407.06 86.04 L407.2 85.1 L407.06 84.16 L406.67 83.37 L406.09 82.84 L405.4 82.65" fill="none" stroke="#121212" stroke-width="1.1" stroke-linejoin="round" stroke-linecap="round"/>
<path d="M405.4 91.25 L406.09 91.11 L406.67 90.71 L407.06 90.11 L407.2 89.4 L407.06 88.69 L406.67 88.09 L406.09 87.69 L405.4 87.55" fill="none" stroke="#121212" stroke-width="1.1" stroke-linejoin="round" stroke-linecap="round"/>
<path d="M331 71.89 Q335.5 74.06 340.5 74.68" fill="none" stroke="#121212" stroke-width="1.1" stroke-linejoin="round" stroke-linecap="round"/>
<path d="M331 82.33 Q335.5 81.98 340.5 81.88" fill="none" stroke="#121212" stroke-width="1.1" stroke-linejoin="round" stroke-linecap="round"/>
<path d="M331 94.8 Q335.5 91.44 340.5 90.48" fill="none" stroke="#121212" stroke-width="1.1" stroke-linejoin="round" stroke-linecap="round"/>
<line x1="376" y1="70.16" x2="376" y2="72.76" stroke="#121212" stroke-width="1.1" stroke-linecap="butt"/>
<line x1="376" y1="73.86" x2="376" y2="76.46" stroke="#121212" stroke-width="1.1" stroke-linecap="butt"/>
<line x1="376" y1="79.16" x2="376" y2="81.76" stroke="#121212" stroke-width="1.1" stroke-linecap="butt"/>
<line x1="376" y1="81.06" x2="376" y2="83.66" stroke="#121212" stroke-width="1.1" stroke-linecap="butt"/>
<line x1="376" y1="85.96" x2="376" y2="88.56" stroke="#121212" stroke-width="1.1" stroke-linecap="butt"/>
<line x1="376" y1="89.66" x2="376" y2="92.26" stroke="#121212" stroke-width="1.1" stroke-linecap="butt"/>
<line x1="386" y1="70.26" x2="386" y2="72.86" stroke="#121212" stroke-width="1.1" stroke-linecap="butt"/>
<line x1="386" y1="73.96" x2="386" y2="76.56" stroke="#121212" stroke-width="1.1" stroke-linecap="butt"/>
<line x1="386" y1="79.26" x2="386" y2="81.86" stroke="#121212" stroke-width="1.1" stroke-linecap="butt"/>
<line x1="386" y1="81.16" x2="386" y2="83.76" stroke="#121212" stroke-width="1.1" stroke-linecap="butt"/>
<line x1="386" y1="86.06" x2="386" y2="88.66" stroke="#121212" stroke-width="1.1" stroke-linecap="butt"/>
<line x1="386" y1="89.76" x2="386" y2="92.36" stroke="#121212" stroke-width="1.1" stroke-linecap="butt"/>
<path d="M408 93.88 L408.53 93.57 L409.04 92.67 L409.5 91.22 L409.88 89.28 L410.16 86.97 L410.34 84.39 L410.4 81.68 L410.34 78.96 L410.16 76.38 L409.88 74.07 L409.5 72.14 L409.04 70.69 L408.53 69.78 L408 69.48" fill="none" stroke="#121212" stroke-width="1.22" stroke-linejoin="round" stroke-linecap="round"/>
<path d="M409.8 71.48 L419.5 71.59 L419.5 91.99 L409.8 91.88 Z" fill="#fff" stroke="#121212" stroke-width="1.34" stroke-linejoin="round" stroke-linecap="round"/>
<path d="M419.5 91.99 L419.99 91.74 L420.45 90.98 L420.87 89.77 L421.22 88.15 L421.48 86.22 L421.64 84.06 L421.7 81.79 L421.64 79.52 L421.48 77.37 L421.22 75.43 L420.87 73.82 L420.45 72.6 L419.99 71.85 L419.5 71.59" fill="none" stroke="#121212" stroke-width="1.1" stroke-linejoin="round" stroke-linecap="round"/>
<path d="M420.6 73.3 L442.6 73.52 Q445.2 73.52 445.4 76.52 L445.4 87.52 Q445.2 90.52 442.6 90.52 L420.6 90.3 Z" fill="#fff" stroke="#121212" stroke-width="1.34" stroke-linejoin="round" stroke-linecap="round"/>
<path d="M440.71 89.84 L441.14 89.46 L441.55 88.76 L441.9 87.78 L442.2 86.57 L442.42 85.16 L442.55 83.62 L442.6 82.02 L442.55 80.42 L442.42 78.88 L442.2 77.47 L441.9 76.26 L441.55 75.28 L441.14 74.58 L440.71 74.2" fill="none" stroke="#121212" stroke-width="2.07" stroke-linejoin="round" stroke-linecap="round"/>
<line x1="268.5" y1="81.4" x2="278.5" y2="81.5" stroke="#121212" stroke-width="1.04" stroke-linecap="butt"/>
<path d="M472.88 112.17 L474.17 116.18 L478.79 113.03 L477.59 108.6 L477.7 108.44 L480.04 111.4 L481.84 108.25 L479.62 104.45 L479.69 104.28 L482.58 106.62 L483.74 103.47 L480.93 100.29 L480.97 100.11 L484.23 101.84 L485.03 98.68 L481.81 96.12 L481.84 95.94 L485.36 97.05 L485.89 93.9 L482.4 91.95 L482.42 91.78 L486.1 92.27 L486.4 89.12 L482.74 87.78 L482.75 87.61 L486.5 87.49 L486.6 84.34 L482.85 83.61 L482.85 83.44 L486.6 82.71 L486.5 79.56 L482.75 79.44 L482.74 79.27 L486.4 77.92 L486.1 74.77 L482.42 75.27 L482.4 75.1 L485.89 73.14 L485.36 69.99 L481.84 71.1 L481.81 70.93 L485.03 68.36 L484.23 65.21 L480.97 66.93 L480.93 66.76 L483.74 63.58 L482.58 60.43 L479.69 62.77 L479.62 62.59 L481.84 58.8 L480.04 55.64 L477.7 58.61 L477.59 58.44 L478.79 54.01 L474.17 50.86 L472.88 54.88 L469.62 57.16 L467.55 54.31 L467.18 54.89 L468.36 59.64 L467.76 61.26 L465.15 59.17 L464.94 59.74 L466.99 63.9 L466.63 65.39 L463.67 63.99 L463.53 64.56 L466.09 68.15 L465.86 69.54 L462.66 68.8 L462.56 69.38 L465.49 72.37 L465.34 73.71 L461.99 73.62 L461.93 74.19 L465.1 76.58 L465.02 77.88 L461.61 78.43 L461.58 79 L464.91 80.79 L464.88 82.07 L461.47 83.24 L461.47 83.81 L464.88 84.98 L464.91 86.26 L461.58 88.05 L461.61 88.62 L465.02 89.16 L465.1 90.46 L461.93 92.86 L461.99 93.43 L465.34 93.34 L465.49 94.67 L462.56 97.67 L462.66 98.24 L465.86 97.5 L466.09 98.9 L463.53 102.48 L463.67 103.05 L466.63 101.66 L466.99 103.14 L464.94 107.3 L465.15 107.88 L467.76 105.79 L468.36 107.41 L467.18 112.16 L467.55 112.73 L469.62 109.88 Z" fill="#fff" stroke="#121212" stroke-width="1.1" stroke-linejoin="round" stroke-linecap="round"/>
<path d="M455.67 73.24 L452.32 73.15 L461.99 73.62 L465.34 73.71 Z" fill="#fff" stroke="#121212" stroke-width="0.85" stroke-linejoin="round" stroke-linecap="round"/>
<path d="M452.32 93.9 L455.67 93.8 L465.34 93.34 L461.99 93.43 Z" fill="#fff" stroke="#121212" stroke-width="0.85" stroke-linejoin="round" stroke-linecap="round"/>
<path d="M452.99 98.93 L456.19 98.16 L465.86 97.5 L462.66 98.24 Z" fill="#fff" stroke="#121212" stroke-width="0.85" stroke-linejoin="round" stroke-linecap="round"/>
<path d="M456.19 68.88 L452.99 68.11 L462.66 68.8 L465.86 69.54 Z" fill="#fff" stroke="#121212" stroke-width="0.85" stroke-linejoin="round" stroke-linecap="round"/>
<path d="M456.96 64.53 L453.99 63.07 L463.67 63.99 L466.63 65.39 Z" fill="#fff" stroke="#121212" stroke-width="0.85" stroke-linejoin="round" stroke-linecap="round"/>
<path d="M453.99 103.97 L456.96 102.51 L466.63 101.66 L463.67 103.05 Z" fill="#fff" stroke="#121212" stroke-width="0.85" stroke-linejoin="round" stroke-linecap="round"/>
<path d="M458.09 60.21 L455.48 58.02 L465.15 59.17 L467.76 61.26 Z" fill="#fff" stroke="#121212" stroke-width="0.85" stroke-linejoin="round" stroke-linecap="round"/>
<path d="M455.48 109.02 L458.09 106.84 L467.76 105.79 L465.15 107.88 Z" fill="#fff" stroke="#121212" stroke-width="0.85" stroke-linejoin="round" stroke-linecap="round"/>
<path d="M457.87 114.11 L459.94 111.12 L469.62 109.88 L467.55 112.73 Z" fill="#fff" stroke="#121212" stroke-width="0.85" stroke-linejoin="round" stroke-linecap="round"/>
<path d="M459.94 55.92 L457.87 52.94 L467.55 54.31 L469.62 57.16 Z" fill="#fff" stroke="#121212" stroke-width="0.85" stroke-linejoin="round" stroke-linecap="round"/>
<path d="M464.21 117.72 L467.92 114.42 L478.79 113.03 L474.17 116.18 Z" fill="#fff" stroke="#121212" stroke-width="0.85" stroke-linejoin="round" stroke-linecap="round"/>
<path d="M467.92 52.62 L464.21 49.32 L474.17 50.86 L478.79 54.01 Z" fill="#fff" stroke="#121212" stroke-width="0.85" stroke-linejoin="round" stroke-linecap="round"/>
<path d="M466.85 57.43 L466.77 57.26 L477.59 58.44 L477.7 58.61 Z" fill="#fff" stroke="#121212" stroke-width="0.85" stroke-linejoin="round" stroke-linecap="round"/>
<path d="M466.77 109.78 L466.85 109.61 L477.7 108.44 L477.59 108.6 Z" fill="#fff" stroke="#121212" stroke-width="0.85" stroke-linejoin="round" stroke-linecap="round"/>
<path d="M467.92 114.42 L466.77 109.78 L477.59 108.6 L478.79 113.03 Z" fill="#fff" stroke="#121212" stroke-width="0.85" stroke-linejoin="round" stroke-linecap="round"/>
<path d="M466.77 57.26 L467.92 52.62 L478.79 54.01 L477.59 58.44 Z" fill="#fff" stroke="#121212" stroke-width="0.85" stroke-linejoin="round" stroke-linecap="round"/>
<path d="M470.37 57.63 L468.92 54.33 L480.04 55.64 L481.84 58.8 Z" fill="#fff" stroke="#121212" stroke-width="0.85" stroke-linejoin="round" stroke-linecap="round"/>
<path d="M468.92 112.71 L470.37 109.41 L481.84 108.25 L480.04 111.4 Z" fill="#fff" stroke="#121212" stroke-width="0.85" stroke-linejoin="round" stroke-linecap="round"/>
<path d="M468.38 61.79 L468.33 61.61 L479.62 62.59 L479.69 62.77 Z" fill="#fff" stroke="#121212" stroke-width="0.85" stroke-linejoin="round" stroke-linecap="round"/>
<path d="M468.33 105.44 L468.38 105.26 L479.69 104.28 L479.62 104.45 Z" fill="#fff" stroke="#121212" stroke-width="0.85" stroke-linejoin="round" stroke-linecap="round"/>
<path d="M468.33 61.61 L470.37 57.63 L481.84 58.8 L479.62 62.59 Z" fill="#fff" stroke="#121212" stroke-width="0.85" stroke-linejoin="round" stroke-linecap="round"/>
<path d="M470.37 109.41 L468.33 105.44 L479.62 104.45 L481.84 108.25 Z" fill="#fff" stroke="#121212" stroke-width="0.85" stroke-linejoin="round" stroke-linecap="round"/>
<path d="M469.33 101.07 L469.36 100.89 L480.97 100.11 L480.93 100.29 Z" fill="#fff" stroke="#121212" stroke-width="0.85" stroke-linejoin="round" stroke-linecap="round"/>
<path d="M469.36 66.15 L469.33 65.97 L480.93 66.76 L480.97 66.93 Z" fill="#fff" stroke="#121212" stroke-width="0.85" stroke-linejoin="round" stroke-linecap="round"/>
<path d="M469.33 65.97 L471.9 62.64 L483.74 63.58 L480.93 66.76 Z" fill="#fff" stroke="#121212" stroke-width="0.85" stroke-linejoin="round" stroke-linecap="round"/>
<path d="M471.9 104.41 L469.33 101.07 L480.93 100.29 L483.74 103.47 Z" fill="#fff" stroke="#121212" stroke-width="0.85" stroke-linejoin="round" stroke-linecap="round"/>
<path d="M471.9 62.64 L470.96 59.34 L482.58 60.43 L483.74 63.58 Z" fill="#fff" stroke="#121212" stroke-width="0.85" stroke-linejoin="round" stroke-linecap="round"/>
<path d="M470.96 107.71 L471.9 104.41 L483.74 103.47 L482.58 106.62 Z" fill="#fff" stroke="#121212" stroke-width="0.85" stroke-linejoin="round" stroke-linecap="round"/>
<path d="M470.01 96.71 L470.03 96.53 L481.84 95.94 L481.81 96.12 Z" fill="#fff" stroke="#121212" stroke-width="0.85" stroke-linejoin="round" stroke-linecap="round"/>
<path d="M470.03 70.52 L470.01 70.33 L481.81 70.93 L481.84 71.1 Z" fill="#fff" stroke="#121212" stroke-width="0.85" stroke-linejoin="round" stroke-linecap="round"/>
<path d="M470.47 74.88 L470.46 74.7 L482.4 75.1 L482.42 75.27 Z" fill="#fff" stroke="#121212" stroke-width="0.85" stroke-linejoin="round" stroke-linecap="round"/>
<path d="M470.46 92.34 L470.47 92.16 L482.42 91.78 L482.4 91.95 Z" fill="#fff" stroke="#121212" stroke-width="0.85" stroke-linejoin="round" stroke-linecap="round"/>
<path d="M472.94 99.4 L470.01 96.71 L481.81 96.12 L485.03 98.68 Z" fill="#fff" stroke="#121212" stroke-width="0.85" stroke-linejoin="round" stroke-linecap="round"/>
<path d="M470.01 70.33 L472.94 67.65 L485.03 68.36 L481.81 70.93 Z" fill="#fff" stroke="#121212" stroke-width="0.85" stroke-linejoin="round" stroke-linecap="round"/>
<path d="M472.94 67.65 L472.3 64.35 L484.23 65.21 L485.03 68.36 Z" fill="#fff" stroke="#121212" stroke-width="0.85" stroke-linejoin="round" stroke-linecap="round"/>
<path d="M472.3 102.7 L472.94 99.4 L485.03 98.68 L484.23 101.84 Z" fill="#fff" stroke="#121212" stroke-width="0.85" stroke-linejoin="round" stroke-linecap="round"/>
<path d="M470.71 87.98 L470.72 87.8 L482.75 87.61 L482.74 87.78 Z" fill="#fff" stroke="#121212" stroke-width="0.85" stroke-linejoin="round" stroke-linecap="round"/>
<path d="M470.72 79.25 L470.71 79.07 L482.74 79.27 L482.75 79.44 Z" fill="#fff" stroke="#121212" stroke-width="0.85" stroke-linejoin="round" stroke-linecap="round"/>
<path d="M470.8 83.61 L470.8 83.43 L482.85 83.44 L482.85 83.61 Z" fill="#fff" stroke="#121212" stroke-width="0.85" stroke-linejoin="round" stroke-linecap="round"/>
<path d="M473.63 94.39 L470.46 92.34 L482.4 91.95 L485.89 93.9 Z" fill="#fff" stroke="#121212" stroke-width="0.85" stroke-linejoin="round" stroke-linecap="round"/>
<path d="M470.46 74.7 L473.63 72.65 L485.89 73.14 L482.4 75.1 Z" fill="#fff" stroke="#121212" stroke-width="0.85" stroke-linejoin="round" stroke-linecap="round"/>
<path d="M474.04 89.38 L470.71 87.98 L482.74 87.78 L486.4 89.12 Z" fill="#fff" stroke="#121212" stroke-width="0.85" stroke-linejoin="round" stroke-linecap="round"/>
<path d="M470.71 79.07 L474.04 77.66 L486.4 77.92 L482.74 79.27 Z" fill="#fff" stroke="#121212" stroke-width="0.85" stroke-linejoin="round" stroke-linecap="round"/>
<path d="M474.12 79.37 L470.72 79.25 L482.75 79.44 L486.5 79.56 Z" fill="#fff" stroke="#121212" stroke-width="0.85" stroke-linejoin="round" stroke-linecap="round"/>
<path d="M470.72 87.8 L474.12 87.68 L486.5 87.49 L482.75 87.61 Z" fill="#fff" stroke="#121212" stroke-width="0.85" stroke-linejoin="round" stroke-linecap="round"/>
<path d="M473.21 97.69 L473.63 94.39 L485.89 93.9 L485.36 97.05 Z" fill="#fff" stroke="#121212" stroke-width="0.85" stroke-linejoin="round" stroke-linecap="round"/>
<path d="M473.63 72.65 L473.21 69.35 L485.36 69.99 L485.89 73.14 Z" fill="#fff" stroke="#121212" stroke-width="0.85" stroke-linejoin="round" stroke-linecap="round"/>
<path d="M474.2 84.38 L470.8 83.61 L482.85 83.61 L486.6 84.34 Z" fill="#fff" stroke="#121212" stroke-width="0.85" stroke-linejoin="round" stroke-linecap="round"/>
<path d="M470.8 83.43 L474.2 82.67 L486.6 82.71 L482.85 83.44 Z" fill="#fff" stroke="#121212" stroke-width="0.85" stroke-linejoin="round" stroke-linecap="round"/>
<path d="M473.8 92.68 L474.04 89.38 L486.4 89.12 L486.1 92.27 Z" fill="#fff" stroke="#121212" stroke-width="0.85" stroke-linejoin="round" stroke-linecap="round"/>
<path d="M474.04 77.66 L473.8 74.36 L486.1 74.77 L486.4 77.92 Z" fill="#fff" stroke="#121212" stroke-width="0.85" stroke-linejoin="round" stroke-linecap="round"/>
<path d="M474.12 87.68 L474.2 84.38 L486.6 84.34 L486.5 87.49 Z" fill="#fff" stroke="#121212" stroke-width="0.85" stroke-linejoin="round" stroke-linecap="round"/>
<path d="M474.2 82.67 L474.12 79.37 L486.5 79.56 L486.6 82.71 Z" fill="#fff" stroke="#121212" stroke-width="0.85" stroke-linejoin="round" stroke-linecap="round"/>
<path d="M463.16 113.52 L464.21 117.72 L467.92 114.42 L466.77 109.78 L466.85 109.61 L468.92 112.71 L470.37 109.41 L468.33 105.44 L468.38 105.26 L470.96 107.71 L471.9 104.41 L469.33 101.07 L469.36 100.89 L472.3 102.7 L472.94 99.4 L470.01 96.71 L470.03 96.53 L473.21 97.69 L473.63 94.39 L470.46 92.34 L470.47 92.16 L473.8 92.68 L474.04 89.38 L470.71 87.98 L470.72 87.8 L474.12 87.68 L474.2 84.38 L470.8 83.61 L470.8 83.43 L474.2 82.67 L474.12 79.37 L470.72 79.25 L470.71 79.07 L474.04 77.66 L473.8 74.36 L470.47 74.88 L470.46 74.7 L473.63 72.65 L473.21 69.35 L470.03 70.52 L470.01 70.33 L472.94 67.65 L472.3 64.35 L469.36 66.15 L469.33 65.97 L471.9 62.64 L470.96 59.34 L468.38 61.79 L468.33 61.61 L470.37 57.63 L468.92 54.33 L466.85 57.43 L466.77 57.26 L467.92 52.62 L464.21 49.32 L463.16 53.53 L459.94 55.92 L457.87 52.94 L457.51 53.54 L458.69 58.51 L458.09 60.21 L455.48 58.02 L455.27 58.62 L457.32 62.98 L456.96 64.53 L453.99 63.07 L453.85 63.67 L456.42 67.42 L456.19 68.88 L452.99 68.11 L452.89 68.71 L455.82 71.84 L455.67 73.24 L452.32 73.15 L452.26 73.75 L455.43 76.26 L455.35 77.61 L451.94 78.19 L451.91 78.79 L455.24 80.66 L455.21 82 L451.8 83.22 L451.8 83.82 L455.21 85.05 L455.24 86.39 L451.91 88.26 L451.94 88.86 L455.35 89.43 L455.43 90.79 L452.26 93.3 L452.32 93.9 L455.67 93.8 L455.82 95.2 L452.89 98.33 L452.99 98.93 L456.19 98.16 L456.42 99.62 L453.85 103.37 L453.99 103.97 L456.96 102.51 L457.32 104.06 L455.27 108.42 L455.48 109.02 L458.09 106.84 L458.69 108.53 L457.51 113.51 L457.87 114.11 L459.94 111.12 Z" fill="#fff" stroke="#121212" stroke-width="1.1" stroke-linejoin="round" stroke-linecap="round"/>
<ellipse cx="463.7" cy="84.02" rx="8.8" ry="27.4" fill="none" stroke="#121212" stroke-width="2.56"/>
<ellipse cx="464.6" cy="84.02" rx="7.6" ry="24.6" fill="none" stroke="#121212" stroke-width="0.98"/>
<path d="M458.6 65.12 C459.78 63.61 462.98 62.66 464.2 63.42 C465.42 64.19 465.93 67.27 465.9 69.72 C465.87 72.17 465.18 76.41 464 78.12 C462.82 79.84 459.95 80.96 458.8 80.02 C457.65 79.09 457.13 75.01 457.1 72.52 C457.07 70.04 457.42 66.64 458.6 65.12 Z" fill="#fff" stroke="#121212" stroke-width="1.59" stroke-linejoin="round" stroke-linecap="round"/>
<path d="M457.7 87.62 C458.83 86.79 461.93 86.66 463.2 88.02 C464.47 89.39 465.42 93.61 465.3 95.82 C465.18 98.04 463.73 100.71 462.5 101.32 C461.27 101.94 458.92 100.91 457.9 99.52 C456.88 98.14 456.43 95.01 456.4 93.02 C456.37 91.04 456.57 88.46 457.7 87.62 Z" fill="#fff" stroke="#121212" stroke-width="1.59" stroke-linejoin="round" stroke-linecap="round"/>
<path d="M462.3 102.82 C463.23 101.47 466.5 99.51 467.7 99.72 C468.9 99.94 469.78 102.56 469.5 104.12 C469.22 105.69 467.23 108.51 466 109.12 C464.77 109.74 462.72 108.87 462.1 107.82 C461.48 106.77 461.37 104.17 462.3 102.82 Z" fill="#fff" stroke="#121212" stroke-width="1.59" stroke-linejoin="round" stroke-linecap="round"/>
<path d="M460.6 59.02 C461.15 58.56 467.65 58.67 469.3 59.72 C470.95 60.77 471.05 64.86 470.5 65.32 C469.95 65.79 467.65 63.57 466 62.52 C464.35 61.47 460.05 59.49 460.6 59.02 Z" fill="#fff" stroke="#121212" stroke-width="1.59" stroke-linejoin="round" stroke-linecap="round"/>
<path d="M465.06 95.94 L465.82 95.55 L466.56 95 L467.26 94.31 L467.91 93.47 L468.51 92.49 L469.04 91.4 L469.5 90.21 L469.89 88.92 L470.2 87.56 L470.42 86.15 L470.56 84.69 L470.6 83.22 L470.56 81.75 L470.42 80.3 L470.2 78.88 L469.89 77.52 L469.5 76.24 L469.04 75.04 L468.51 73.95 L467.91 72.98 L467.26 72.14 L466.56 71.44 L465.82 70.89 L465.06 70.51 L464.47 71.09 L464.93 71.46 L465.37 71.98 L465.79 72.65 L466.19 73.45 L466.54 74.38 L466.86 75.42 L467.14 76.56 L467.37 77.79 L467.56 79.08 L467.69 80.43 L467.77 81.82 L467.8 83.22 L467.77 84.63 L467.69 86.01 L467.56 87.36 L467.37 88.66 L467.14 89.88 L466.86 91.03 L466.54 92.07 L466.19 92.99 L465.79 93.8 L465.37 94.46 L464.93 94.98 L464.47 95.35 Z" fill="#121212" stroke="#121212" stroke-width="0.61" stroke-linejoin="round" stroke-linecap="round"/>
<path d="M463.45 92.3 L464.15 91.81 L464.79 91.16 L465.38 90.37 L465.88 89.46 L466.31 88.44 L466.63 87.34 L466.86 86.18 L466.98 84.97 L466.99 83.75 L466.9 82.54 L466.69 81.37 L466.39 80.25 L465.99 79.21 L465.5 78.28 L464.93 77.46 L464.3 76.77 L463.6 77.29 L464.07 77.93 L464.49 78.69 L464.85 79.56 L465.15 80.53 L465.37 81.57 L465.52 82.66 L465.59 83.79 L465.58 84.92 L465.5 86.04 L465.33 87.12 L465.09 88.15 L464.77 89.09 L464.4 89.94 L463.97 90.67 L463.49 91.28 L462.97 91.74 Z" fill="#121212" stroke="#121212" stroke-width="0.61" stroke-linejoin="round" stroke-linecap="round"/>
<path d="M462.34 73.86 L461.72 74.25 L461.13 75.05 L460.61 76.22 L460.19 77.72 L459.87 79.47 L459.67 81.4 L459.6 83.42 L459.67 85.44 L459.87 87.37 L460.19 89.12 L460.61 90.62 L461.13 91.8 L461.72 92.6 L462.34 92.99" fill="none" stroke="#121212" stroke-width="1.1" stroke-linejoin="round" stroke-linecap="round"/>
<line x1="451.4" y1="83.21" x2="455" y2="83.24" stroke="#fff" stroke-width="3.42" stroke-linecap="butt"/>
<line x1="447.5" y1="83.17" x2="468" y2="83.37" stroke="#121212" stroke-width="1.04" stroke-linecap="butt" stroke-dasharray="7 1.5 1.5 1.5"/>
<ellipse cx="97.6" cy="242.4" rx="6.9" ry="16.3" fill="#121212" stroke="#121212" stroke-width="1.22"/>
<ellipse cx="96.3" cy="242.4" rx="6.9" ry="16.3" fill="#fff" stroke="#121212" stroke-width="1.59"/>
<ellipse cx="95.6" cy="242.4" rx="3.7" ry="12.5" fill="#fff" stroke="#121212" stroke-width="1.34"/>
<path d="M95.6 254.9 L95.99 254.83 L96.37 254.63 L96.74 254.29 L97.1 253.82 L97.45 253.23 L97.77 252.51 L98.08 251.69 L98.35 250.76 L98.59 249.75 L98.8 248.65 L98.98 247.48 L99.12 246.26 L99.22 245 L99.28 243.71 L99.3 242.4 L99.28 241.09 L99.22 239.8 L99.12 238.54 L98.98 237.32 L98.8 236.15 L98.59 235.05 L98.35 234.04 L98.08 233.11 L97.77 232.29 L97.45 231.57 L97.1 230.98 L96.74 230.51 L96.37 230.17 L95.99 229.97 L95.6 229.9 L95.6 229.9 L95.78 229.97 L95.95 230.17 L96.13 230.51 L96.29 230.98 L96.45 231.57 L96.6 232.29 L96.74 233.11 L96.86 234.04 L96.98 235.05 L97.07 236.15 L97.15 237.32 L97.22 238.54 L97.26 239.8 L97.29 241.09 L97.3 242.4 L97.29 243.71 L97.26 245 L97.22 246.26 L97.15 247.48 L97.07 248.65 L96.98 249.75 L96.86 250.76 L96.74 251.69 L96.6 252.51 L96.45 253.23 L96.29 253.82 L96.13 254.29 L95.95 254.63 L95.78 254.83 L95.6 254.9 Z" fill="#121212" stroke="#121212" stroke-width="0.49" stroke-linejoin="round" stroke-linecap="round"/>
<path d="M98.64 253.44 L98.98 252.74 L99.3 251.92 L99.59 250.99 L99.85 249.96 L100.07 248.84 L100.26 247.64 L100.41 246.39 L100.51 245.08 L100.58 243.75 L100.6 242.4 L100.58 241.05 L100.51 239.72 L100.41 238.41 L100.26 237.16 L100.07 235.96 L99.85 234.84 L99.59 233.81 L99.3 232.88 L98.98 232.06 L98.64 231.36" fill="none" stroke="#121212" stroke-width="1.22" stroke-linejoin="round" stroke-linecap="round"/>
<line x1="88.8" y1="242.07" x2="92.6" y2="242.09" stroke="#fff" stroke-width="3.42" stroke-linecap="butt"/>
<line x1="80" y1="242.04" x2="99.5" y2="242.11" stroke="#121212" stroke-width="1.04" stroke-linecap="butt" stroke-dasharray="8 1.6 1.8 1.6"/>
<path d="M124.53 238.29 L124.3 236.83 L123.99 235.42 L123.62 234.07 L123.18 232.79 L122.69 231.61 L122.14 230.52 L121.53 229.55 L120.89 228.69 L120.2 227.96 L119.49 227.36 L118.74 226.9 L117.98 226.59 L117.21 226.42 L116.43 226.39 L115.66 226.52 L114.89 226.79 L114.14 227.2 L113.42 227.76 L112.72 228.45 L112.06 229.27 L111.45 230.21 L110.88 231.26 L110.36 232.41 L109.91 233.66 L109.52 234.99 L109.19 236.38 L108.93 237.83 L108.75 239.33 L108.64 240.85 L108.6 242.38 L108.64 243.92 L108.75 245.44 L108.93 246.93 L109.19 248.38 L109.52 249.78 L109.91 251.11 L110.36 252.35 L110.88 253.51 L111.45 254.56 L112.06 255.5 L112.72 256.32 L113.42 257.01 L114.14 257.56 L114.89 257.98 L115.66 258.25 L116.43 258.38 L117.21 258.35 L117.98 258.18 L118.74 257.87 L119.49 257.41 L120.2 256.81 L120.89 256.08 L121.53 255.22 L122.14 254.25 L122.69 253.16 L123.18 251.98 L123.62 250.7 L123.99 249.35 L124.3 247.94 L124.53 246.47 L120.6 247.46 L120.41 248.43 L120.19 249.35 L119.94 250.21 L119.66 251.01 L119.36 251.74 L119.03 252.4 L118.69 252.97 L118.32 253.45 L117.94 253.85 L117.55 254.15 L117.15 254.36 L116.75 254.47 L116.34 254.48 L115.93 254.39 L115.53 254.2 L115.14 253.92 L114.76 253.54 L114.39 253.08 L114.04 252.52 L113.71 251.88 L113.4 251.17 L113.11 250.38 L112.86 249.53 L112.63 248.62 L112.44 247.66 L112.28 246.66 L112.15 245.62 L112.06 244.56 L112.01 243.47 L111.99 242.38 L112.01 241.29 L112.06 240.21 L112.15 239.15 L112.28 238.11 L112.44 237.11 L112.63 236.15 L112.86 235.24 L113.11 234.38 L113.4 233.6 L113.71 232.88 L114.04 232.25 L114.39 231.69 L114.76 231.23 L115.14 230.85 L115.53 230.57 L115.93 230.38 L116.34 230.29 L116.75 230.3 L117.15 230.41 L117.55 230.62 L117.94 230.92 L118.32 231.31 L118.69 231.8 L119.03 232.37 L119.36 233.02 L119.66 233.75 L119.94 234.55 L120.19 235.42 L120.41 236.34 L120.6 237.31 Z" fill="#fff" stroke="#121212" stroke-width="1.1" stroke-linejoin="round" stroke-linecap="round"/>
<path d="M123.05 233.41 L122.44 231.86 L121.73 230.48 L120.95 229.3 L120.1 228.32 L119.19 227.56 L118.25 227.05 L117.27 226.78 L116.29 226.76 L115.32 226.98 L114.37 227.46 L113.46 228.17 L112.59 229.11 L111.8 230.26 L111.08 231.61 L110.45 233.13 L109.92 234.8 L109.5 236.58 L109.2 238.47 L109.01 240.41 L108.95 242.38 L109.01 244.36 L109.2 246.3 L109.5 248.18 L109.92 249.97 L110.45 251.64 L111.08 253.16 L111.8 254.5 L112.59 255.66 L113.46 256.6 L114.37 257.31 L115.32 257.78 L116.29 258.01 L117.27 257.99 L118.25 257.72 L119.19 257.2 L120.1 256.45 L120.95 255.47 L121.73 254.28 L122.44 252.91 L123.05 251.36" fill="none" stroke="#121212" stroke-width="2.2" stroke-linejoin="round" stroke-linecap="round"/>
<path d="M124.93 238.69 L124.33 232.09 L121.73 230.89 L119.13 233.69 L119.33 238.69 L122.13 239.49 Z" fill="#121212" stroke="#121212" stroke-width="0.98" stroke-linejoin="round" stroke-linecap="round"/>
<ellipse cx="121.93" cy="235.29" rx="0.8" ry="1.1" fill="#666" stroke="#666" stroke-width="0.37"/>
<path d="M124.93 246.07 L124.33 252.67 L121.73 253.87 L119.13 251.07 L119.33 246.07 L122.13 245.27 Z" fill="#121212" stroke="#121212" stroke-width="0.98" stroke-linejoin="round" stroke-linecap="round"/>
<ellipse cx="121.93" cy="249.47" rx="0.8" ry="1.1" fill="#666" stroke="#666" stroke-width="0.37"/>
<line x1="108.4" y1="242.15" x2="113" y2="242.17" stroke="#fff" stroke-width="3.42" stroke-linecap="butt"/>
<line x1="104" y1="242.13" x2="127" y2="242.22" stroke="#121212" stroke-width="1.04" stroke-linecap="butt" stroke-dasharray="8 1.6 1.8 1.6"/>
<path d="M155.2 219.38 L164.2 219.38 A8 23.2 0 0 1 164.2 265.78 L155.2 265.78 Z" fill="#fff" stroke="#121212" stroke-width="1.46" stroke-linejoin="round" stroke-linecap="round"/>
<path d="M162.08 265.37 L162.89 265.17 L163.7 264.73 L164.48 264.06 L165.24 263.17 L165.96 262.06 L166.64 260.74 L167.26 259.24 L167.83 257.56 L168.34 255.73 L168.77 253.75 L169.14 251.66 L169.43 249.48 L169.63 247.22 L169.76 244.91 L169.8 242.58 L169.76 240.25 L169.63 237.95 L169.43 235.69 L169.14 233.5 L168.77 231.41 L168.34 229.44 L167.83 227.61 L167.26 225.93 L166.64 224.42 L165.96 223.11 L165.24 222 L164.48 221.11 L163.7 220.44 L162.89 220 L162.08 219.8" fill="none" stroke="#121212" stroke-width="2.07" stroke-linejoin="round" stroke-linecap="round"/>
<path d="M159.48 264.97 L160.29 264.77 L161.1 264.34 L161.88 263.69 L162.64 262.81 L163.36 261.72 L164.04 260.43 L164.66 258.95 L165.23 257.3 L165.74 255.5 L166.17 253.56 L166.54 251.5 L166.83 249.36 L167.03 247.14 L167.16 244.87 L167.2 242.58 L167.16 240.29 L167.03 238.03 L166.83 235.81 L166.54 233.66 L166.17 231.61 L165.74 229.67 L165.23 227.87 L164.66 226.22 L164.04 224.74 L163.36 223.45 L162.64 222.36 L161.88 221.48 L161.1 220.82 L160.29 220.39 L159.48 220.2" fill="none" stroke="#121212" stroke-width="1.1" stroke-linejoin="round" stroke-linecap="round"/>
<path d="M152.08 267.79 L153.23 271.29 L157.64 267.64 L156.32 263.83 L156.47 263.53 L158.7 265.91 L160.33 262.27 L158.08 259.15 L158.16 258.84 L160.92 260.54 L161.9 256.89 L159.12 254.46 L159.18 254.15 L162.26 255.16 L162.84 251.52 L159.75 249.77 L159.78 249.47 L163.04 249.78 L163.31 246.14 L160.05 245.08 L160.06 244.78 L163.38 244.41 L163.38 240.76 L160.06 240.39 L160.05 240.08 L163.31 239.03 L163.04 235.39 L159.78 235.7 L159.75 235.39 L162.84 233.65 L162.26 230.01 L159.18 231.01 L159.12 230.71 L161.9 228.28 L160.92 224.63 L158.16 226.32 L158.08 226.02 L160.33 222.9 L158.7 219.26 L156.47 221.64 L156.32 221.34 L157.64 217.52 L153.23 213.88 L152.08 217.38 L149.27 220 L147.27 217.87 L146.95 218.54 L148.21 222.84 L147.73 224.61 L145.23 223.33 L145.05 223.99 L147.11 227.63 L146.84 229.26 L144.04 228.74 L143.93 229.4 L146.45 232.38 L146.3 233.94 L143.33 234.15 L143.27 234.81 L146.08 237.11 L146.01 238.63 L142.99 239.55 L142.97 240.21 L145.94 241.83 L145.94 243.33 L142.97 244.95 L142.99 245.62 L146.01 246.54 L146.08 248.05 L143.27 250.36 L143.33 251.02 L146.3 251.23 L146.45 252.79 L143.93 255.76 L144.04 256.43 L146.84 255.91 L147.11 257.54 L145.05 261.18 L145.23 261.84 L147.73 260.56 L148.21 262.33 L146.95 266.63 L147.27 267.3 L149.27 265.16 Z" fill="#fff" stroke="#121212" stroke-width="1.22" stroke-linejoin="round" stroke-linecap="round"/>
<path d="M138.11 228.1 L135.3 227.54 L144.04 228.74 L146.84 229.26 Z" fill="#fff" stroke="#121212" stroke-width="0.98" stroke-linejoin="round" stroke-linecap="round"/>
<path d="M135.3 257.63 L138.11 257.06 L146.84 255.91 L144.04 256.43 Z" fill="#fff" stroke="#121212" stroke-width="0.98" stroke-linejoin="round" stroke-linecap="round"/>
<path d="M136.49 263.52 L138.99 262.12 L147.73 260.56 L145.23 261.84 Z" fill="#fff" stroke="#121212" stroke-width="0.98" stroke-linejoin="round" stroke-linecap="round"/>
<path d="M138.99 223.05 L136.49 221.65 L145.23 223.33 L147.73 224.61 Z" fill="#fff" stroke="#121212" stroke-width="0.98" stroke-linejoin="round" stroke-linecap="round"/>
<path d="M140.53 218.04 L138.54 215.72 L147.27 217.87 L149.27 220 Z" fill="#fff" stroke="#121212" stroke-width="0.98" stroke-linejoin="round" stroke-linecap="round"/>
<path d="M138.54 269.44 L140.53 267.13 L149.27 265.16 L147.27 267.3 Z" fill="#fff" stroke="#121212" stroke-width="0.98" stroke-linejoin="round" stroke-linecap="round"/>
<path d="M144.21 273.78 L147.68 269.82 L157.64 267.64 L153.23 271.29 Z" fill="#fff" stroke="#121212" stroke-width="0.98" stroke-linejoin="round" stroke-linecap="round"/>
<path d="M147.68 215.34 L144.21 211.38 L153.23 213.88 L157.64 217.52 Z" fill="#fff" stroke="#121212" stroke-width="0.98" stroke-linejoin="round" stroke-linecap="round"/>
<path d="M146.43 265.67 L146.54 265.35 L156.47 263.53 L156.32 263.83 Z" fill="#fff" stroke="#121212" stroke-width="0.98" stroke-linejoin="round" stroke-linecap="round"/>
<path d="M146.54 219.82 L146.43 219.5 L156.32 221.34 L156.47 221.64 Z" fill="#fff" stroke="#121212" stroke-width="0.98" stroke-linejoin="round" stroke-linecap="round"/>
<path d="M147.68 269.82 L146.43 265.67 L156.32 263.83 L157.64 267.64 Z" fill="#fff" stroke="#121212" stroke-width="0.98" stroke-linejoin="round" stroke-linecap="round"/>
<path d="M146.43 219.5 L147.68 215.34 L157.64 217.52 L156.32 221.34 Z" fill="#fff" stroke="#121212" stroke-width="0.98" stroke-linejoin="round" stroke-linecap="round"/>
<path d="M148.51 267.94 L149.79 263.98 L160.33 262.27 L158.7 265.91 Z" fill="#fff" stroke="#121212" stroke-width="0.98" stroke-linejoin="round" stroke-linecap="round"/>
<path d="M149.79 221.19 L148.51 217.23 L158.7 219.26 L160.33 222.9 Z" fill="#fff" stroke="#121212" stroke-width="0.98" stroke-linejoin="round" stroke-linecap="round"/>
<path d="M147.72 260.59 L147.79 260.26 L158.16 258.84 L158.08 259.15 Z" fill="#fff" stroke="#121212" stroke-width="0.98" stroke-linejoin="round" stroke-linecap="round"/>
<path d="M147.79 224.91 L147.72 224.58 L158.08 226.02 L158.16 226.32 Z" fill="#fff" stroke="#121212" stroke-width="0.98" stroke-linejoin="round" stroke-linecap="round"/>
<path d="M149.79 263.98 L147.72 260.59 L158.08 259.15 L160.33 262.27 Z" fill="#fff" stroke="#121212" stroke-width="0.98" stroke-linejoin="round" stroke-linecap="round"/>
<path d="M147.72 224.58 L149.79 221.19 L160.33 222.9 L158.08 226.02 Z" fill="#fff" stroke="#121212" stroke-width="0.98" stroke-linejoin="round" stroke-linecap="round"/>
<path d="M148.49 255.5 L148.53 255.16 L159.18 254.15 L159.12 254.46 Z" fill="#fff" stroke="#121212" stroke-width="0.98" stroke-linejoin="round" stroke-linecap="round"/>
<path d="M148.53 230.01 L148.49 229.67 L159.12 230.71 L159.18 231.01 Z" fill="#fff" stroke="#121212" stroke-width="0.98" stroke-linejoin="round" stroke-linecap="round"/>
<path d="M151.02 258.14 L148.49 255.5 L159.12 254.46 L161.9 256.89 Z" fill="#fff" stroke="#121212" stroke-width="0.98" stroke-linejoin="round" stroke-linecap="round"/>
<path d="M148.49 229.67 L151.02 227.03 L161.9 228.28 L159.12 230.71 Z" fill="#fff" stroke="#121212" stroke-width="0.98" stroke-linejoin="round" stroke-linecap="round"/>
<path d="M150.25 262.1 L151.02 258.14 L161.9 256.89 L160.92 260.54 Z" fill="#fff" stroke="#121212" stroke-width="0.98" stroke-linejoin="round" stroke-linecap="round"/>
<path d="M151.02 227.03 L150.25 223.07 L160.92 224.63 L161.9 228.28 Z" fill="#fff" stroke="#121212" stroke-width="0.98" stroke-linejoin="round" stroke-linecap="round"/>
<path d="M148.95 250.4 L148.97 250.06 L159.78 249.47 L159.75 249.77 Z" fill="#fff" stroke="#121212" stroke-width="0.98" stroke-linejoin="round" stroke-linecap="round"/>
<path d="M148.97 235.1 L148.95 234.77 L159.75 235.39 L159.78 235.7 Z" fill="#fff" stroke="#121212" stroke-width="0.98" stroke-linejoin="round" stroke-linecap="round"/>
<path d="M149.17 245.3 L149.18 244.97 L160.06 244.78 L160.05 245.08 Z" fill="#fff" stroke="#121212" stroke-width="0.98" stroke-linejoin="round" stroke-linecap="round"/>
<path d="M149.18 240.2 L149.17 239.87 L160.05 240.08 L160.06 240.39 Z" fill="#fff" stroke="#121212" stroke-width="0.98" stroke-linejoin="round" stroke-linecap="round"/>
<path d="M151.76 252.29 L148.95 250.4 L159.75 249.77 L162.84 251.52 Z" fill="#fff" stroke="#121212" stroke-width="0.98" stroke-linejoin="round" stroke-linecap="round"/>
<path d="M148.95 234.77 L151.76 232.88 L162.84 233.65 L159.75 235.39 Z" fill="#fff" stroke="#121212" stroke-width="0.98" stroke-linejoin="round" stroke-linecap="round"/>
<path d="M151.3 256.25 L151.76 252.29 L162.84 251.52 L162.26 255.16 Z" fill="#fff" stroke="#121212" stroke-width="0.98" stroke-linejoin="round" stroke-linecap="round"/>
<path d="M151.76 232.88 L151.3 228.92 L162.26 230.01 L162.84 233.65 Z" fill="#fff" stroke="#121212" stroke-width="0.98" stroke-linejoin="round" stroke-linecap="round"/>
<path d="M152.13 246.45 L149.17 245.3 L160.05 245.08 L163.31 246.14 Z" fill="#fff" stroke="#121212" stroke-width="0.98" stroke-linejoin="round" stroke-linecap="round"/>
<path d="M149.17 239.87 L152.13 238.72 L163.31 239.03 L160.05 240.08 Z" fill="#fff" stroke="#121212" stroke-width="0.98" stroke-linejoin="round" stroke-linecap="round"/>
<path d="M149.18 244.97 L152.18 244.56 L163.38 244.41 L160.06 244.78 Z" fill="#fff" stroke="#121212" stroke-width="0.98" stroke-linejoin="round" stroke-linecap="round"/>
<path d="M152.18 240.6 L149.18 240.2 L160.06 240.39 L163.38 240.76 Z" fill="#fff" stroke="#121212" stroke-width="0.98" stroke-linejoin="round" stroke-linecap="round"/>
<path d="M151.92 250.41 L152.13 246.45 L163.31 246.14 L163.04 249.78 Z" fill="#fff" stroke="#121212" stroke-width="0.98" stroke-linejoin="round" stroke-linecap="round"/>
<path d="M152.13 238.72 L151.92 234.76 L163.04 235.39 L163.31 239.03 Z" fill="#fff" stroke="#121212" stroke-width="0.98" stroke-linejoin="round" stroke-linecap="round"/>
<path d="M152.18 244.56 L152.18 240.6 L163.38 240.76 L163.38 244.41 Z" fill="#fff" stroke="#121212" stroke-width="0.98" stroke-linejoin="round" stroke-linecap="round"/>
<path d="M143.3 269.98 L144.21 273.78 L147.68 269.82 L146.43 265.67 L146.54 265.35 L148.51 267.94 L149.79 263.98 L147.72 260.59 L147.79 260.26 L150.25 262.1 L151.02 258.14 L148.49 255.5 L148.53 255.16 L151.3 256.25 L151.76 252.29 L148.95 250.4 L148.97 250.06 L151.92 250.41 L152.13 246.45 L149.17 245.3 L149.18 244.97 L152.18 244.56 L152.18 240.6 L149.18 240.2 L149.17 239.87 L152.13 238.72 L151.92 234.76 L148.97 235.1 L148.95 234.77 L151.76 232.88 L151.3 228.92 L148.53 230.01 L148.49 229.67 L151.02 227.03 L150.25 223.07 L147.79 224.91 L147.72 224.58 L149.79 221.19 L148.51 217.23 L146.54 219.82 L146.43 219.5 L147.68 215.34 L144.21 211.38 L143.3 215.19 L140.53 218.04 L138.54 215.72 L138.21 216.45 L139.47 221.12 L138.99 223.05 L136.49 221.65 L136.31 222.37 L138.37 226.32 L138.11 228.1 L135.3 227.54 L135.19 228.26 L137.71 231.49 L137.56 233.19 L134.59 233.41 L134.53 234.13 L137.34 236.64 L137.27 238.28 L134.25 239.29 L134.23 240.01 L137.2 241.77 L137.2 243.4 L134.23 245.16 L134.25 245.88 L137.27 246.88 L137.34 248.53 L134.53 251.03 L134.59 251.75 L137.56 251.98 L137.71 253.68 L135.19 256.91 L135.3 257.63 L138.11 257.06 L138.37 258.84 L136.31 262.8 L136.49 263.52 L138.99 262.12 L139.47 264.04 L138.21 268.72 L138.54 269.44 L140.53 267.13 Z" fill="#fff" stroke="#121212" stroke-width="1.22" stroke-linejoin="round" stroke-linecap="round"/>
<path d="M150.42 242.58 L150.41 241.24 L150.37 239.91 L150.32 238.58 L150.25 237.26 L150.16 235.96 L150.05 234.67 L149.92 233.41 L149.77 232.17 L149.7 229.97 L149.56 227.94 L149.35 226.09 L149.11 224.42 L148.82 222.96 L148.52 221.76 L148.19 220.85 L147.87 220.29 L147.56 220.15 L147.29 220.7 L147.04 221.11 L146.71 220.41 L146.37 219.77 L146.02 219.2 L145.66 218.68 L145.29 218.24 L144.92 217.86 L144.54 217.54 L143.92 215.87 L143.17 213.88 L142.51 212.62 L141.9 211.85 L141.34 211.5 L140.86 211.57 L140.46 212.06 L140.17 212.96 L140.01 214.29 L140.05 216.16 L140.34 218.68 L139.98 219.2 L139.63 219.77 L139.29 220.41 L138.96 221.11 L138.64 221.87 L137.47 220.99 L136.53 220.81 L135.79 221.17 L135.21 221.91 L134.78 222.96 L134.52 224.29 L134.43 225.84 L134.53 227.58 L134.85 229.48 L135.53 231.58 L136.08 233.41 L135.95 234.67 L135.84 235.96 L135.75 237.26 L135.68 238.58 L135.63 239.91 L135.59 241.24 L135.58 242.58 L135.59 243.92 L135.63 245.26 L135.68 246.59 L135.75 247.91 L135.84 249.21 L135.95 250.49 L136.08 251.76 L135.53 253.58 L134.85 255.69 L134.53 257.58 L134.43 259.32 L134.52 260.88 L134.78 262.21 L135.21 263.26 L135.79 264 L136.53 264.35 L137.47 264.17 L138.64 263.29 L138.96 264.05 L139.29 264.75 L139.63 265.39 L139.98 265.97 L140.34 266.48 L140.05 269.01 L140.01 270.88 L140.17 272.21 L140.46 273.11 L140.86 273.59 L141.34 273.67 L141.9 273.32 L142.51 272.54 L143.17 271.29 L143.92 269.3 L144.54 267.62 L144.92 267.31 L145.29 266.93 L145.66 266.48 L146.02 265.97 L146.37 265.39 L146.71 264.75 L147.04 264.05 L147.29 264.46 L147.56 265.02 L147.87 264.88 L148.19 264.32 L148.52 263.41 L148.82 262.21 L149.11 260.75 L149.35 259.08 L149.56 257.23 L149.7 255.2 L149.77 253 L149.92 251.76 L150.05 250.49 L150.16 249.21 L150.25 247.91 L150.32 246.59 L150.37 245.26 L150.41 243.92 Z" fill="#fff" stroke="#121212" stroke-width="1.22" stroke-linejoin="round" stroke-linecap="round"/>
<path d="M147.82 242.58 L147.81 241.24 L147.77 239.91 L147.72 238.58 L147.65 237.26 L147.56 235.96 L147.45 234.67 L147.32 233.41 L147.17 232.17 L147.1 229.97 L146.96 227.94 L146.75 226.09 L146.51 224.42 L146.22 222.96 L145.92 221.76 L145.59 220.85 L145.27 220.29 L144.96 220.15 L144.69 220.7 L144.44 221.11 L144.11 220.41 L143.77 219.77 L143.42 219.2 L143.06 218.68 L142.69 218.24 L142.32 217.86 L141.94 217.54 L141.32 215.87 L140.57 213.88 L139.91 212.62 L139.3 211.85 L138.74 211.5 L138.26 211.57 L137.86 212.06 L137.57 212.96 L137.41 214.29 L137.45 216.16 L137.74 218.68 L137.38 219.2 L137.03 219.77 L136.69 220.41 L136.36 221.11 L136.04 221.87 L134.87 220.99 L133.93 220.81 L133.19 221.17 L132.61 221.91 L132.18 222.96 L131.92 224.29 L131.83 225.84 L131.93 227.58 L132.25 229.48 L132.93 231.58 L133.48 233.41 L133.35 234.67 L133.24 235.96 L133.15 237.26 L133.08 238.58 L133.03 239.91 L132.99 241.24 L132.98 242.58 L132.99 243.92 L133.03 245.26 L133.08 246.59 L133.15 247.91 L133.24 249.21 L133.35 250.49 L133.48 251.76 L132.93 253.58 L132.25 255.69 L131.93 257.58 L131.83 259.32 L131.92 260.88 L132.18 262.21 L132.61 263.26 L133.19 264 L133.93 264.35 L134.87 264.17 L136.04 263.29 L136.36 264.05 L136.69 264.75 L137.03 265.39 L137.38 265.97 L137.74 266.48 L137.45 269.01 L137.41 270.88 L137.57 272.21 L137.86 273.11 L138.26 273.59 L138.74 273.67 L139.3 273.32 L139.91 272.54 L140.57 271.29 L141.32 269.3 L141.94 267.62 L142.32 267.31 L142.69 266.93 L143.06 266.48 L143.42 265.97 L143.77 265.39 L144.11 264.75 L144.44 264.05 L144.69 264.46 L144.96 265.02 L145.27 264.88 L145.59 264.32 L145.92 263.41 L146.22 262.21 L146.51 260.75 L146.75 259.08 L146.96 257.23 L147.1 255.2 L147.17 253 L147.32 251.76 L147.45 250.49 L147.56 249.21 L147.65 247.91 L147.72 246.59 L147.77 245.26 L147.81 243.92 Z" fill="#fff" stroke="#121212" stroke-width="1.46" stroke-linejoin="round" stroke-linecap="round"/>
<path d="M140.71 218.09 L141.21 217.61 L141.59 216.99 L141.83 216.26 L141.91 215.49 L141.83 214.71 L141.59 213.99 L141.21 213.37 L140.71 212.89" fill="none" stroke="#121212" stroke-width="1.1" stroke-linejoin="round" stroke-linecap="round"/>
<path d="M135.19 228.44 L135.69 227.96 L136.07 227.34 L136.31 226.61 L136.39 225.84 L136.31 225.06 L136.07 224.34 L135.69 223.72 L135.19 223.24" fill="none" stroke="#121212" stroke-width="1.1" stroke-linejoin="round" stroke-linecap="round"/>
<path d="M135.19 261.93 L135.69 261.45 L136.07 260.83 L136.31 260.11 L136.39 259.33 L136.31 258.55 L136.07 257.83 L135.69 257.21 L135.19 256.73" fill="none" stroke="#121212" stroke-width="1.1" stroke-linejoin="round" stroke-linecap="round"/>
<path d="M140.71 272.28 L141.21 271.8 L141.59 271.18 L141.83 270.46 L141.91 269.68 L141.83 268.9 L141.59 268.18 L141.21 267.56 L140.71 267.08" fill="none" stroke="#121212" stroke-width="1.1" stroke-linejoin="round" stroke-linecap="round"/>
<ellipse cx="141" cy="242.58" rx="5.94" ry="20.5" fill="#fff" stroke="#121212" stroke-width="1.22"/>
<ellipse cx="141" cy="242.58" rx="4.3" ry="15.6" fill="#fff" stroke="#121212" stroke-width="1.34"/>
<path d="M141 258.18 L141.45 258.1 L141.89 257.84 L142.33 257.42 L142.75 256.84 L143.15 256.09 L143.53 255.2 L143.88 254.18 L144.2 253.02 L144.48 251.75 L144.72 250.38 L144.93 248.93 L145.09 247.4 L145.21 245.83 L145.28 244.21 L145.3 242.58 L145.28 240.95 L145.21 239.34 L145.09 237.76 L144.93 236.24 L144.72 234.78 L144.48 233.41 L144.2 232.15 L143.88 230.99 L143.53 229.96 L143.15 229.07 L142.75 228.33 L142.33 227.75 L141.89 227.32 L141.45 227.07 L141 226.98 L141 226.98 L141.2 227.07 L141.4 227.32 L141.59 227.75 L141.77 228.33 L141.95 229.07 L142.12 229.96 L142.27 230.99 L142.41 232.15 L142.54 233.41 L142.65 234.78 L142.74 236.24 L142.81 237.76 L142.86 239.34 L142.89 240.95 L142.9 242.58 L142.89 244.21 L142.86 245.83 L142.81 247.4 L142.74 248.93 L142.65 250.38 L142.54 251.75 L142.41 253.02 L142.27 254.18 L142.12 255.2 L141.95 256.09 L141.77 256.84 L141.59 257.42 L141.4 257.84 L141.2 258.1 L141 258.18 Z" fill="#121212" stroke="#121212" stroke-width="0.49" stroke-linejoin="round" stroke-linecap="round"/>
<path d="M141 226.98 L140.55 227.07 L140.11 227.32 L139.67 227.75 L139.25 228.33 L138.85 229.07 L138.47 229.96 L138.12 230.99 L137.8 232.15 L137.52 233.41 L137.28 234.78 L137.07 236.24 L136.91 237.76 L136.79 239.34 L136.72 240.95 L136.7 242.58 L136.72 244.21 L136.79 245.83 L136.91 247.4 L137.07 248.93 L137.28 250.38 L137.52 251.75 L137.8 253.02 L138.12 254.18 L138.47 255.2 L138.85 256.09 L139.25 256.84 L139.67 257.42 L140.11 257.84 L140.55 258.1 L141 258.18 L141 258.18 L140.64 258.1 L140.29 257.84 L139.95 257.42 L139.62 256.84 L139.3 256.09 L139 255.2 L138.72 254.18 L138.47 253.02 L138.25 251.75 L138.06 250.38 L137.89 248.93 L137.77 247.4 L137.67 245.83 L137.62 244.21 L137.6 242.58 L137.62 240.95 L137.67 239.34 L137.77 237.76 L137.89 236.24 L138.06 234.78 L138.25 233.41 L138.47 232.15 L138.72 230.99 L139 229.96 L139.3 229.07 L139.62 228.33 L139.95 227.75 L140.29 227.32 L140.64 227.07 L141 226.98 Z" fill="#121212" stroke="#121212" stroke-width="0.49" stroke-linejoin="round" stroke-linecap="round"/>
<path d="M134.4 239.98 L129 239.98 L129 244.98 L134.4 244.98" fill="#fff" stroke="#121212" stroke-width="1.34" stroke-linejoin="round" stroke-linecap="round"/>
<path d="M139.4 246.58 L142.4 246.58 L142.4 252.08 L139.4 252.08 Z" fill="#fff" stroke="#121212" stroke-width="1.22" stroke-linejoin="round" stroke-linecap="round"/>
<line x1="127" y1="242.22" x2="142.6" y2="242.29" stroke="#121212" stroke-width="1.04" stroke-linecap="butt" stroke-dasharray="8 1.6 1.8 1.6"/>
<path d="M191.73 238.36 L191.5 236.9 L191.2 235.48 L190.83 234.13 L190.4 232.86 L189.91 231.68 L189.37 230.59 L188.78 229.61 L188.14 228.76 L187.46 228.03 L186.75 227.43 L186.02 226.97 L185.27 226.65 L184.5 226.48 L183.74 226.46 L182.97 226.59 L182.21 226.86 L181.47 227.27 L180.76 227.83 L180.07 228.52 L179.42 229.34 L178.81 230.28 L178.25 231.33 L177.74 232.48 L177.29 233.73 L176.91 235.06 L176.58 236.45 L176.33 237.9 L176.15 239.4 L176.04 240.92 L176 242.45 L176.04 243.99 L176.15 245.51 L176.33 247 L176.58 248.45 L176.91 249.85 L177.29 251.18 L177.74 252.42 L178.25 253.58 L178.81 254.63 L179.42 255.57 L180.07 256.39 L180.76 257.08 L181.47 257.63 L182.21 258.05 L182.97 258.32 L183.74 258.44 L184.5 258.42 L185.27 258.25 L186.02 257.93 L186.75 257.47 L187.46 256.88 L188.14 256.15 L188.78 255.29 L189.37 254.31 L189.91 253.23 L190.4 252.04 L190.83 250.77 L191.2 249.42 L191.5 248.01 L191.73 246.54 L187.8 247.53 L187.62 248.5 L187.41 249.42 L187.16 250.28 L186.89 251.08 L186.6 251.81 L186.28 252.47 L185.94 253.04 L185.58 253.52 L185.21 253.92 L184.83 254.22 L184.44 254.43 L184.04 254.53 L183.64 254.54 L183.24 254.46 L182.85 254.27 L182.47 253.99 L182.09 253.61 L181.73 253.14 L181.39 252.59 L181.07 251.95 L180.77 251.24 L180.49 250.45 L180.24 249.6 L180.02 248.69 L179.83 247.73 L179.67 246.73 L179.55 245.69 L179.46 244.63 L179.41 243.54 L179.39 242.45 L179.41 241.36 L179.46 240.28 L179.55 239.21 L179.67 238.18 L179.83 237.17 L180.02 236.21 L180.24 235.3 L180.49 234.45 L180.77 233.67 L181.07 232.95 L181.39 232.32 L181.73 231.76 L182.09 231.29 L182.47 230.92 L182.85 230.63 L183.24 230.45 L183.64 230.36 L184.04 230.37 L184.44 230.48 L184.83 230.68 L185.21 230.99 L185.58 231.38 L185.94 231.87 L186.28 232.44 L186.6 233.09 L186.89 233.82 L187.16 234.62 L187.41 235.49 L187.62 236.41 L187.8 237.38 Z" fill="#fff" stroke="#121212" stroke-width="1.1" stroke-linejoin="round" stroke-linecap="round"/>
<path d="M190.27 233.48 L189.66 231.93 L188.97 230.55 L188.19 229.36 L187.35 228.39 L186.46 227.63 L185.53 227.12 L184.57 226.85 L183.6 226.82 L182.64 227.05 L181.7 227.53 L180.8 228.24 L179.95 229.18 L179.16 230.33 L178.45 231.68 L177.83 233.2 L177.31 234.86 L176.89 236.65 L176.59 238.53 L176.41 240.48 L176.35 242.45 L176.41 244.43 L176.59 246.37 L176.89 248.25 L177.31 250.04 L177.83 251.71 L178.45 253.22 L179.16 254.57 L179.95 255.72 L180.8 256.66 L181.7 257.38 L182.64 257.85 L183.6 258.08 L184.57 258.06 L185.53 257.79 L186.46 257.27 L187.35 256.52 L188.19 255.54 L188.97 254.35 L189.66 252.97 L190.27 251.43" fill="none" stroke="#121212" stroke-width="2.2" stroke-linejoin="round" stroke-linecap="round"/>
<path d="M192.13 238.76 L191.53 232.16 L188.93 230.96 L186.33 233.76 L186.53 238.76 L189.33 239.56 Z" fill="#121212" stroke="#121212" stroke-width="0.98" stroke-linejoin="round" stroke-linecap="round"/>
<ellipse cx="189.13" cy="235.36" rx="0.8" ry="1.1" fill="#666" stroke="#666" stroke-width="0.37"/>
<path d="M192.13 246.14 L191.53 252.74 L188.93 253.94 L186.33 251.14 L186.53 246.14 L189.33 245.34 Z" fill="#121212" stroke="#121212" stroke-width="0.98" stroke-linejoin="round" stroke-linecap="round"/>
<ellipse cx="189.13" cy="249.54" rx="0.8" ry="1.1" fill="#666" stroke="#666" stroke-width="0.37"/>
<line x1="175.6" y1="242.42" x2="180.4" y2="242.44" stroke="#fff" stroke-width="3.42" stroke-linecap="butt"/>
<line x1="172" y1="242.4" x2="194" y2="242.49" stroke="#121212" stroke-width="1.04" stroke-linecap="butt" stroke-dasharray="8 1.6 1.8 1.6"/>
<ellipse cx="205.8" cy="242.53" rx="6.9" ry="16" fill="#121212" stroke="#121212" stroke-width="1.22"/>
<ellipse cx="204.5" cy="242.53" rx="6.9" ry="16" fill="#fff" stroke="#121212" stroke-width="1.59"/>
<ellipse cx="203.8" cy="242.53" rx="3.7" ry="12.5" fill="#fff" stroke="#121212" stroke-width="1.34"/>
<path d="M203.8 255.03 L204.19 254.96 L204.57 254.76 L204.94 254.42 L205.3 253.95 L205.65 253.36 L205.97 252.64 L206.28 251.82 L206.55 250.9 L206.79 249.88 L207 248.78 L207.18 247.62 L207.32 246.39 L207.42 245.13 L207.48 243.84 L207.5 242.53 L207.48 241.23 L207.42 239.93 L207.32 238.67 L207.18 237.45 L207 236.28 L206.79 235.18 L206.55 234.17 L206.28 233.24 L205.97 232.42 L205.65 231.71 L205.3 231.11 L204.94 230.64 L204.57 230.31 L204.19 230.1 L203.8 230.03 L203.8 230.03 L203.98 230.1 L204.15 230.31 L204.33 230.64 L204.49 231.11 L204.65 231.71 L204.8 232.42 L204.94 233.24 L205.06 234.17 L205.18 235.18 L205.27 236.28 L205.35 237.45 L205.42 238.67 L205.46 239.93 L205.49 241.23 L205.5 242.53 L205.49 243.84 L205.46 245.13 L205.42 246.39 L205.35 247.62 L205.27 248.78 L205.18 249.88 L205.06 250.9 L204.94 251.82 L204.8 252.64 L204.65 253.36 L204.49 253.95 L204.33 254.42 L204.15 254.76 L203.98 254.96 L203.8 255.03 Z" fill="#121212" stroke="#121212" stroke-width="0.49" stroke-linejoin="round" stroke-linecap="round"/>
<path d="M206.84 253.57 L207.18 252.87 L207.5 252.05 L207.79 251.12 L208.05 250.09 L208.27 248.97 L208.46 247.78 L208.61 246.52 L208.71 245.22 L208.78 243.88 L208.8 242.53 L208.78 241.18 L208.71 239.85 L208.61 238.55 L208.46 237.29 L208.27 236.09 L208.05 234.97 L207.79 233.94 L207.5 233.01 L207.18 232.19 L206.84 231.5" fill="none" stroke="#121212" stroke-width="1.22" stroke-linejoin="round" stroke-linecap="round"/>
<line x1="197.2" y1="242.5" x2="200.6" y2="242.52" stroke="#fff" stroke-width="3.42" stroke-linecap="butt"/>
<line x1="194" y1="242.49" x2="207" y2="242.54" stroke="#121212" stroke-width="1.04" stroke-linecap="butt" stroke-dasharray="8 1.6 1.8 1.6"/>
<path d="M235.98 270.41 L237.28 274.24 L241.37 271.66 L240.39 267.33 L240.37 267.36 L242.57 270.24 L244.22 267.65 L242.27 263.86 L242.26 263.88 L244.95 266.23 L246.04 263.65 L243.52 260.38 L243.51 260.39 L246.55 262.23 L247.32 259.64 L244.41 256.88 L244.4 256.9 L247.69 258.22 L248.24 255.64 L245.04 253.39 L245.04 253.4 L248.49 254.22 L248.87 251.63 L245.46 249.9 L245.46 249.91 L249.03 250.21 L249.25 247.63 L245.71 246.4 L245.71 246.42 L249.33 246.21 L249.4 243.63 L245.79 242.91 L245.79 242.92 L249.4 242.21 L249.33 239.62 L245.71 239.42 L245.71 239.43 L249.25 238.2 L249.03 235.62 L245.46 235.92 L245.46 235.93 L248.87 234.2 L248.49 231.61 L245.04 232.43 L245.04 232.44 L248.24 230.19 L247.69 227.61 L244.4 228.94 L244.41 228.95 L247.32 226.19 L246.55 223.6 L243.51 225.44 L243.52 225.46 L246.04 222.18 L244.95 219.6 L242.26 221.95 L242.27 221.97 L244.22 218.18 L242.57 215.6 L240.37 218.47 L240.39 218.5 L241.37 214.18 L237.28 211.59 L235.98 215.42 L232.91 217.7 L230.93 215.05 L230.59 215.62 L231.73 220.19 L231.24 221.61 L228.76 219.68 L228.56 220.25 L230.5 224.26 L230.21 225.55 L227.4 224.27 L227.27 224.85 L229.69 228.31 L229.5 229.51 L226.48 228.87 L226.39 229.44 L229.14 232.34 L229.02 233.48 L225.87 233.45 L225.81 234.03 L228.8 236.36 L228.73 237.46 L225.51 238.04 L225.49 238.62 L228.62 240.37 L228.6 241.46 L225.39 242.63 L225.39 243.2 L228.6 244.37 L228.62 245.46 L225.49 247.22 L225.51 247.79 L228.73 248.37 L228.8 249.47 L225.81 251.8 L225.87 252.38 L229.02 252.35 L229.14 253.49 L226.39 256.39 L226.48 256.97 L229.5 256.32 L229.69 257.53 L227.27 260.98 L227.4 261.56 L230.21 260.29 L230.5 261.57 L228.56 265.58 L228.76 266.16 L231.24 264.23 L231.73 265.65 L230.59 270.21 L230.93 270.79 L232.91 268.13 Z" fill="#fff" stroke="#121212" stroke-width="1.1" stroke-linejoin="round" stroke-linecap="round"/>
<path d="M214.48 252.82 L217.64 252.8 L229.02 252.35 L225.87 252.38 Z" fill="#fff" stroke="#121212" stroke-width="0.79" stroke-linejoin="round" stroke-linecap="round"/>
<path d="M217.64 233.04 L214.48 233.01 L225.87 233.45 L229.02 233.48 Z" fill="#fff" stroke="#121212" stroke-width="0.79" stroke-linejoin="round" stroke-linecap="round"/>
<path d="M218.11 228.88 L215.09 228.2 L226.48 228.87 L229.5 229.51 Z" fill="#fff" stroke="#121212" stroke-width="0.79" stroke-linejoin="round" stroke-linecap="round"/>
<path d="M215.09 257.63 L218.11 256.96 L229.5 256.32 L226.48 256.97 Z" fill="#fff" stroke="#121212" stroke-width="0.79" stroke-linejoin="round" stroke-linecap="round"/>
<path d="M216.01 262.44 L218.82 261.1 L230.21 260.29 L227.4 261.56 Z" fill="#fff" stroke="#121212" stroke-width="0.79" stroke-linejoin="round" stroke-linecap="round"/>
<path d="M218.82 224.73 L216.01 223.4 L227.4 224.27 L230.21 225.55 Z" fill="#fff" stroke="#121212" stroke-width="0.79" stroke-linejoin="round" stroke-linecap="round"/>
<path d="M217.38 267.25 L219.85 265.23 L231.24 264.23 L228.76 266.16 Z" fill="#fff" stroke="#121212" stroke-width="0.79" stroke-linejoin="round" stroke-linecap="round"/>
<path d="M219.85 220.6 L217.38 218.58 L228.76 219.68 L231.24 221.61 Z" fill="#fff" stroke="#121212" stroke-width="0.79" stroke-linejoin="round" stroke-linecap="round"/>
<path d="M219.55 272.1 L221.52 269.32 L232.91 268.13 L230.93 270.79 Z" fill="#fff" stroke="#121212" stroke-width="0.79" stroke-linejoin="round" stroke-linecap="round"/>
<path d="M221.52 216.51 L219.55 213.73 L230.93 215.05 L232.91 217.7 Z" fill="#fff" stroke="#121212" stroke-width="0.79" stroke-linejoin="round" stroke-linecap="round"/>
<path d="M225.54 275.72 L228.67 273.01 L241.37 271.66 L237.28 274.24 Z" fill="#fff" stroke="#121212" stroke-width="0.79" stroke-linejoin="round" stroke-linecap="round"/>
<path d="M228.67 212.82 L225.54 210.12 L237.28 211.59 L241.37 214.18 Z" fill="#fff" stroke="#121212" stroke-width="0.79" stroke-linejoin="round" stroke-linecap="round"/>
<path d="M228.67 273.01 L227.71 268.49 L240.39 267.33 L241.37 271.66 Z" fill="#fff" stroke="#121212" stroke-width="0.79" stroke-linejoin="round" stroke-linecap="round"/>
<path d="M227.71 217.35 L228.67 212.82 L241.37 214.18 L240.39 218.5 Z" fill="#fff" stroke="#121212" stroke-width="0.79" stroke-linejoin="round" stroke-linecap="round"/>
<path d="M229.58 271.52 L230.84 268.82 L244.22 267.65 L242.57 270.24 Z" fill="#fff" stroke="#121212" stroke-width="0.79" stroke-linejoin="round" stroke-linecap="round"/>
<path d="M230.84 217.01 L229.58 214.31 L242.57 215.6 L244.22 218.18 Z" fill="#fff" stroke="#121212" stroke-width="0.79" stroke-linejoin="round" stroke-linecap="round"/>
<path d="M229.07 220.98 L230.84 217.01 L244.22 218.18 L242.27 221.97 Z" fill="#fff" stroke="#121212" stroke-width="0.79" stroke-linejoin="round" stroke-linecap="round"/>
<path d="M230.84 268.82 L229.07 264.85 L242.27 263.86 L244.22 267.65 Z" fill="#fff" stroke="#121212" stroke-width="0.79" stroke-linejoin="round" stroke-linecap="round"/>
<path d="M232.23 221.21 L231.4 218.5 L244.95 219.6 L246.04 222.18 Z" fill="#fff" stroke="#121212" stroke-width="0.79" stroke-linejoin="round" stroke-linecap="round"/>
<path d="M231.4 267.33 L232.23 264.62 L246.04 263.65 L244.95 266.23 Z" fill="#fff" stroke="#121212" stroke-width="0.79" stroke-linejoin="round" stroke-linecap="round"/>
<path d="M229.96 224.63 L232.23 221.21 L246.04 222.18 L243.52 225.46 Z" fill="#fff" stroke="#121212" stroke-width="0.79" stroke-linejoin="round" stroke-linecap="round"/>
<path d="M232.23 264.62 L229.96 261.2 L243.52 260.38 L246.04 263.65 Z" fill="#fff" stroke="#121212" stroke-width="0.79" stroke-linejoin="round" stroke-linecap="round"/>
<path d="M233.21 260.43 L230.6 257.54 L244.41 256.88 L247.32 259.64 Z" fill="#fff" stroke="#121212" stroke-width="0.79" stroke-linejoin="round" stroke-linecap="round"/>
<path d="M230.6 228.29 L233.21 225.4 L247.32 226.19 L244.41 228.95 Z" fill="#fff" stroke="#121212" stroke-width="0.79" stroke-linejoin="round" stroke-linecap="round"/>
<path d="M233.21 225.4 L232.62 222.69 L246.55 223.6 L247.32 226.19 Z" fill="#fff" stroke="#121212" stroke-width="0.79" stroke-linejoin="round" stroke-linecap="round"/>
<path d="M232.62 263.14 L233.21 260.43 L247.32 259.64 L246.55 262.23 Z" fill="#fff" stroke="#121212" stroke-width="0.79" stroke-linejoin="round" stroke-linecap="round"/>
<path d="M233.91 256.24 L231.06 253.88 L245.04 253.39 L248.24 255.64 Z" fill="#fff" stroke="#121212" stroke-width="0.79" stroke-linejoin="round" stroke-linecap="round"/>
<path d="M231.06 231.95 L233.91 229.59 L248.24 230.19 L245.04 232.44 Z" fill="#fff" stroke="#121212" stroke-width="0.79" stroke-linejoin="round" stroke-linecap="round"/>
<path d="M233.49 258.94 L233.91 256.24 L248.24 255.64 L247.69 258.22 Z" fill="#fff" stroke="#121212" stroke-width="0.79" stroke-linejoin="round" stroke-linecap="round"/>
<path d="M233.91 229.59 L233.49 226.89 L247.69 227.61 L248.24 230.19 Z" fill="#fff" stroke="#121212" stroke-width="0.79" stroke-linejoin="round" stroke-linecap="round"/>
<path d="M234.39 252.05 L231.36 250.23 L245.46 249.9 L248.87 251.63 Z" fill="#fff" stroke="#121212" stroke-width="0.79" stroke-linejoin="round" stroke-linecap="round"/>
<path d="M231.36 235.61 L234.39 233.79 L248.87 234.2 L245.46 235.93 Z" fill="#fff" stroke="#121212" stroke-width="0.79" stroke-linejoin="round" stroke-linecap="round"/>
<path d="M234.68 247.85 L231.54 246.57 L245.71 246.4 L249.25 247.63 Z" fill="#fff" stroke="#121212" stroke-width="0.79" stroke-linejoin="round" stroke-linecap="round"/>
<path d="M231.54 239.26 L234.68 237.98 L249.25 238.2 L245.71 239.43 Z" fill="#fff" stroke="#121212" stroke-width="0.79" stroke-linejoin="round" stroke-linecap="round"/>
<path d="M231.54 246.58 L234.74 246.37 L249.33 246.21 L245.71 246.42 Z" fill="#fff" stroke="#121212" stroke-width="0.79" stroke-linejoin="round" stroke-linecap="round"/>
<path d="M234.74 239.47 L231.54 239.25 L245.71 239.42 L249.33 239.62 Z" fill="#fff" stroke="#121212" stroke-width="0.79" stroke-linejoin="round" stroke-linecap="round"/>
<path d="M234.8 243.66 L231.6 242.91 L245.79 242.91 L249.4 243.63 Z" fill="#fff" stroke="#121212" stroke-width="0.79" stroke-linejoin="round" stroke-linecap="round"/>
<path d="M231.6 242.92 L234.8 242.17 L249.4 242.21 L245.79 242.92 Z" fill="#fff" stroke="#121212" stroke-width="0.79" stroke-linejoin="round" stroke-linecap="round"/>
<path d="M234.11 254.75 L234.39 252.05 L248.87 251.63 L248.49 254.22 Z" fill="#fff" stroke="#121212" stroke-width="0.79" stroke-linejoin="round" stroke-linecap="round"/>
<path d="M234.39 233.79 L234.11 231.08 L248.49 231.61 L248.87 234.2 Z" fill="#fff" stroke="#121212" stroke-width="0.79" stroke-linejoin="round" stroke-linecap="round"/>
<path d="M234.52 250.56 L234.68 247.85 L249.25 247.63 L249.03 250.21 Z" fill="#fff" stroke="#121212" stroke-width="0.79" stroke-linejoin="round" stroke-linecap="round"/>
<path d="M234.68 237.98 L234.52 235.27 L249.03 235.62 L249.25 238.2 Z" fill="#fff" stroke="#121212" stroke-width="0.79" stroke-linejoin="round" stroke-linecap="round"/>
<path d="M234.74 246.37 L234.8 243.66 L249.4 243.63 L249.33 246.21 Z" fill="#fff" stroke="#121212" stroke-width="0.79" stroke-linejoin="round" stroke-linecap="round"/>
<path d="M234.8 242.17 L234.74 239.47 L249.33 239.62 L249.4 242.21 Z" fill="#fff" stroke="#121212" stroke-width="0.79" stroke-linejoin="round" stroke-linecap="round"/>
<path d="M224.54 271.71 L225.54 275.72 L228.67 273.01 L227.71 268.49 L227.7 268.51 L229.58 271.52 L230.84 268.82 L229.07 264.85 L229.06 264.87 L231.4 267.33 L232.23 264.62 L229.96 261.2 L229.96 261.21 L232.62 263.14 L233.21 260.43 L230.6 257.54 L230.6 257.55 L233.49 258.94 L233.91 256.24 L231.06 253.88 L231.06 253.9 L234.11 254.75 L234.39 252.05 L231.36 250.23 L231.36 250.24 L234.52 250.56 L234.68 247.85 L231.54 246.57 L231.54 246.58 L234.74 246.37 L234.8 243.66 L231.6 242.91 L231.6 242.92 L234.8 242.17 L234.74 239.47 L231.54 239.25 L231.54 239.26 L234.68 237.98 L234.52 235.27 L231.36 235.59 L231.36 235.61 L234.39 233.79 L234.11 231.08 L231.06 231.94 L231.06 231.95 L233.91 229.59 L233.49 226.89 L230.6 228.28 L230.6 228.29 L233.21 225.4 L232.62 222.69 L229.96 224.62 L229.96 224.63 L232.23 221.21 L231.4 218.5 L229.06 220.97 L229.07 220.98 L230.84 217.01 L229.58 214.31 L227.7 217.32 L227.71 217.35 L228.67 212.82 L225.54 210.12 L224.54 214.12 L221.52 216.51 L219.55 213.73 L219.2 214.33 L220.35 219.12 L219.85 220.6 L217.38 218.58 L217.17 219.18 L219.11 223.38 L218.82 224.73 L216.01 223.4 L215.88 224 L218.3 227.62 L218.11 228.88 L215.09 228.2 L215 228.8 L217.75 231.84 L217.64 233.04 L214.48 233.01 L214.42 233.61 L217.41 236.05 L217.34 237.21 L214.13 237.81 L214.1 238.41 L217.23 240.25 L217.21 241.39 L214 242.62 L214 243.22 L217.21 244.44 L217.23 245.58 L214.1 247.42 L214.13 248.02 L217.34 248.62 L217.41 249.78 L214.42 252.22 L214.48 252.82 L217.64 252.8 L217.75 253.99 L215 257.03 L215.09 257.63 L218.11 256.96 L218.3 258.21 L215.88 261.84 L216.01 262.44 L218.82 261.1 L219.11 262.45 L217.17 266.65 L217.38 267.25 L219.85 265.23 L220.35 266.72 L219.2 271.5 L219.55 272.1 L221.52 269.32 Z" fill="#fff" stroke="#121212" stroke-width="1.1" stroke-linejoin="round" stroke-linecap="round"/>
<ellipse cx="226" cy="242.92" rx="8.2" ry="26.8" fill="none" stroke="#121212" stroke-width="1.95"/>
<ellipse cx="226.8" cy="242.92" rx="7.4" ry="24" fill="none" stroke="#121212" stroke-width="0.98"/>
<ellipse cx="226.4" cy="242.92" rx="6.6" ry="20.5" fill="none" stroke="#121212" stroke-width="1.1"/>
<ellipse cx="226.4" cy="242.92" rx="6.4" ry="17.6" fill="#fff" stroke="#121212" stroke-width="1.1"/>
<path d="M226.4 260.52 L227.07 260.42 L227.73 260.13 L228.38 259.65 L229 258.99 L229.6 258.16 L230.16 257.15 L230.68 256 L231.16 254.69 L231.58 253.26 L231.94 251.72 L232.25 250.07 L232.49 248.35 L232.66 246.58 L232.76 244.76 L232.8 242.92 L232.76 241.08 L232.66 239.26 L232.49 237.48 L232.25 235.76 L231.94 234.12 L231.58 232.57 L231.16 231.14 L230.68 229.84 L230.16 228.68 L229.6 227.67 L229 226.84 L228.38 226.18 L227.73 225.7 L227.07 225.41 L226.4 225.32 L226.4 225.32 L226.53 225.41 L226.65 225.7 L226.77 226.18 L226.89 226.84 L227 227.67 L227.11 228.68 L227.2 229.84 L227.29 231.14 L227.37 232.57 L227.44 234.12 L227.5 235.76 L227.54 237.48 L227.57 239.26 L227.59 241.08 L227.6 242.92 L227.59 244.76 L227.57 246.58 L227.54 248.35 L227.5 250.07 L227.44 251.72 L227.37 253.26 L227.29 254.69 L227.2 256 L227.11 257.15 L227 258.16 L226.89 258.99 L226.77 259.65 L226.65 260.13 L226.53 260.42 L226.4 260.52 Z" fill="#121212" stroke="#121212" stroke-width="0.49" stroke-linejoin="round" stroke-linecap="round"/>
<line x1="214" y1="242.57" x2="218" y2="242.59" stroke="#fff" stroke-width="3.42" stroke-linecap="butt"/>
<line x1="212" y1="242.56" x2="229.4" y2="242.63" stroke="#121212" stroke-width="1.04" stroke-linecap="butt" stroke-dasharray="8 1.6 1.8 1.6"/>
<ellipse cx="263.5" cy="242.46" rx="6.9" ry="16" fill="#121212" stroke="#121212" stroke-width="1.22"/>
<ellipse cx="262.2" cy="242.46" rx="6.9" ry="16" fill="#fff" stroke="#121212" stroke-width="1.59"/>
<ellipse cx="261.5" cy="242.46" rx="3.7" ry="12.5" fill="#fff" stroke="#121212" stroke-width="1.34"/>
<path d="M261.5 254.96 L261.89 254.9 L262.27 254.69 L262.64 254.35 L263 253.88 L263.35 253.29 L263.67 252.58 L263.98 251.75 L264.25 250.83 L264.49 249.81 L264.7 248.71 L264.88 247.55 L265.02 246.33 L265.12 245.06 L265.18 243.77 L265.2 242.46 L265.18 241.16 L265.12 239.87 L265.02 238.6 L264.88 237.38 L264.7 236.21 L264.49 235.12 L264.25 234.1 L263.98 233.17 L263.67 232.35 L263.35 231.64 L263 231.04 L262.64 230.58 L262.27 230.24 L261.89 230.03 L261.5 229.96 L261.5 229.96 L261.68 230.03 L261.85 230.24 L262.03 230.58 L262.19 231.04 L262.35 231.64 L262.5 232.35 L262.64 233.17 L262.76 234.1 L262.88 235.12 L262.97 236.21 L263.05 237.38 L263.12 238.6 L263.16 239.87 L263.19 241.16 L263.2 242.46 L263.19 243.77 L263.16 245.06 L263.12 246.33 L263.05 247.55 L262.97 248.71 L262.88 249.81 L262.76 250.83 L262.64 251.75 L262.5 252.58 L262.35 253.29 L262.19 253.88 L262.03 254.35 L261.85 254.69 L261.68 254.9 L261.5 254.96 Z" fill="#121212" stroke="#121212" stroke-width="0.49" stroke-linejoin="round" stroke-linecap="round"/>
<path d="M264.54 253.5 L264.88 252.8 L265.2 251.98 L265.49 251.05 L265.75 250.02 L265.97 248.9 L266.16 247.71 L266.31 246.45 L266.41 245.15 L266.48 243.81 L266.5 242.46 L266.48 241.11 L266.41 239.78 L266.31 238.48 L266.16 237.22 L265.97 236.03 L265.75 234.91 L265.49 233.88 L265.2 232.94 L264.88 232.13 L264.54 231.43" fill="none" stroke="#121212" stroke-width="1.22" stroke-linejoin="round" stroke-linecap="round"/>
<line x1="255" y1="242.74" x2="258.6" y2="242.75" stroke="#fff" stroke-width="3.42" stroke-linecap="butt"/>
<line x1="251" y1="242.72" x2="265" y2="242.78" stroke="#121212" stroke-width="1.04" stroke-linecap="butt" stroke-dasharray="8 1.6 1.8 1.6"/>
<path d="M288.73 238.37 L288.49 236.94 L288.19 235.55 L287.82 234.23 L287.39 232.99 L286.9 231.83 L286.35 230.77 L285.76 229.82 L285.12 228.98 L284.44 228.27 L283.73 227.69 L283 227.24 L282.25 226.93 L281.49 226.77 L280.72 226.75 L279.95 226.87 L279.2 227.14 L278.46 227.55 L277.75 228.1 L277.06 228.78 L276.41 229.58 L275.8 230.5 L275.24 231.53 L274.74 232.67 L274.29 233.89 L273.9 235.19 L273.58 236.56 L273.33 237.98 L273.15 239.44 L273.04 240.94 L273 242.44 L273.04 243.94 L273.15 245.44 L273.33 246.9 L273.58 248.32 L273.9 249.69 L274.29 250.99 L274.74 252.21 L275.24 253.35 L275.8 254.38 L276.41 255.3 L277.06 256.1 L277.75 256.78 L278.46 257.33 L279.2 257.74 L279.95 258.01 L280.72 258.13 L281.49 258.11 L282.25 257.95 L283 257.64 L283.73 257.19 L284.44 256.61 L285.12 255.9 L285.76 255.06 L286.35 254.11 L286.9 253.05 L287.39 251.89 L287.82 250.65 L288.19 249.33 L288.49 247.94 L288.73 246.51 L284.8 247.43 L284.61 248.37 L284.4 249.27 L284.15 250.11 L283.88 250.88 L283.59 251.59 L283.27 252.22 L282.93 252.78 L282.57 253.25 L282.2 253.63 L281.82 253.92 L281.43 254.12 L281.03 254.22 L280.63 254.23 L280.24 254.14 L279.84 253.96 L279.46 253.68 L279.09 253.31 L278.73 252.86 L278.39 252.32 L278.06 251.7 L277.76 251 L277.49 250.23 L277.24 249.4 L277.02 248.52 L276.83 247.58 L276.67 246.6 L276.55 245.59 L276.46 244.56 L276.41 243.5 L276.39 242.44 L276.41 241.38 L276.46 240.32 L276.55 239.29 L276.67 238.28 L276.83 237.3 L277.02 236.36 L277.24 235.48 L277.49 234.65 L277.76 233.88 L278.06 233.18 L278.39 232.56 L278.73 232.02 L279.09 231.57 L279.46 231.2 L279.84 230.92 L280.24 230.74 L280.63 230.65 L281.03 230.66 L281.43 230.76 L281.82 230.96 L282.2 231.25 L282.57 231.63 L282.93 232.1 L283.27 232.66 L283.59 233.29 L283.88 234 L284.15 234.77 L284.4 235.61 L284.61 236.51 L284.8 237.45 Z" fill="#fff" stroke="#121212" stroke-width="1.1" stroke-linejoin="round" stroke-linecap="round"/>
<path d="M287.27 233.64 L286.66 232.12 L285.97 230.77 L285.19 229.6 L284.35 228.64 L283.46 227.9 L282.53 227.4 L281.57 227.13 L280.6 227.11 L279.64 227.33 L278.7 227.8 L277.8 228.5 L276.95 229.42 L276.16 230.55 L275.45 231.87 L274.83 233.36 L274.31 235 L273.89 236.75 L273.59 238.6 L273.41 240.5 L273.35 242.44 L273.41 244.38 L273.59 246.28 L273.89 248.13 L274.31 249.88 L274.83 251.52 L275.45 253.01 L276.16 254.33 L276.95 255.46 L277.8 256.38 L278.7 257.08 L279.64 257.55 L280.6 257.77 L281.57 257.75 L282.53 257.48 L283.46 256.98 L284.35 256.24 L285.19 255.28 L285.97 254.11 L286.66 252.76 L287.27 251.24" fill="none" stroke="#121212" stroke-width="2.2" stroke-linejoin="round" stroke-linecap="round"/>
<path d="M289.13 238.77 L288.53 232.17 L285.93 230.97 L283.33 233.77 L283.53 238.77 L286.33 239.57 Z" fill="#121212" stroke="#121212" stroke-width="0.98" stroke-linejoin="round" stroke-linecap="round"/>
<ellipse cx="286.13" cy="235.37" rx="0.8" ry="1.1" fill="#666" stroke="#666" stroke-width="0.37"/>
<path d="M289.13 246.11 L288.53 252.71 L285.93 253.91 L283.33 251.11 L283.53 246.11 L286.33 245.31 Z" fill="#121212" stroke="#121212" stroke-width="0.98" stroke-linejoin="round" stroke-linecap="round"/>
<ellipse cx="286.13" cy="249.51" rx="0.8" ry="1.1" fill="#666" stroke="#666" stroke-width="0.37"/>
<line x1="272.6" y1="242.81" x2="277.4" y2="242.83" stroke="#fff" stroke-width="3.42" stroke-linecap="butt"/>
<line x1="270" y1="242.8" x2="291" y2="242.88" stroke="#121212" stroke-width="1.04" stroke-linecap="butt" stroke-dasharray="8 1.6 1.8 1.6"/>
<path d="M331.47 267.05 L332.59 270.68 L336.63 267.15 L335.28 263.19 L335.41 262.92 L337.64 265.4 L339.14 261.87 L336.85 258.64 L336.92 258.36 L339.7 260.12 L340.6 256.59 L337.79 254.07 L337.83 253.8 L340.94 254.84 L341.48 251.31 L338.34 249.5 L338.37 249.23 L341.67 249.56 L341.92 246.03 L338.61 244.93 L338.62 244.66 L341.98 244.28 L341.98 240.75 L338.62 240.37 L338.61 240.09 L341.92 239 L341.67 235.47 L338.37 235.8 L338.34 235.52 L341.48 233.71 L340.94 230.18 L337.83 231.23 L337.79 230.95 L340.6 228.43 L339.7 224.9 L336.92 226.66 L336.85 226.39 L339.14 223.15 L337.64 219.62 L335.41 222.1 L335.28 221.84 L336.63 217.87 L332.59 214.34 L331.47 217.97 L329.15 220.49 L327.24 218.21 L326.95 218.85 L328.26 223.25 L327.86 224.98 L325.4 223.57 L325.25 224.21 L327.34 227.92 L327.12 229.52 L324.34 228.9 L324.25 229.54 L326.79 232.56 L326.66 234.07 L323.71 234.22 L323.66 234.86 L326.48 237.18 L326.42 238.65 L323.4 239.53 L323.39 240.18 L326.36 241.78 L326.36 243.24 L323.39 244.85 L323.4 245.49 L326.42 246.37 L326.48 247.84 L323.66 250.16 L323.71 250.81 L326.66 250.95 L326.79 252.47 L324.25 255.48 L324.34 256.13 L327.12 255.51 L327.34 257.11 L325.25 260.81 L325.4 261.45 L327.86 260.04 L328.26 261.78 L326.95 266.17 L327.24 266.82 L329.15 264.53 Z" fill="#fff" stroke="#121212" stroke-width="1.22" stroke-linejoin="round" stroke-linecap="round"/>
<path d="M317.76 228.9 L314.98 228.26 L324.34 228.9 L327.12 229.52 Z" fill="#fff" stroke="#121212" stroke-width="0.92" stroke-linejoin="round" stroke-linecap="round"/>
<path d="M314.98 256.77 L317.76 256.12 L327.12 255.51 L324.34 256.13 Z" fill="#fff" stroke="#121212" stroke-width="0.92" stroke-linejoin="round" stroke-linecap="round"/>
<path d="M318.5 224.16 L316.04 222.68 L325.4 223.57 L327.86 224.98 Z" fill="#fff" stroke="#121212" stroke-width="0.92" stroke-linejoin="round" stroke-linecap="round"/>
<path d="M316.04 262.34 L318.5 260.87 L327.86 260.04 L325.4 261.45 Z" fill="#fff" stroke="#121212" stroke-width="0.92" stroke-linejoin="round" stroke-linecap="round"/>
<path d="M317.88 267.96 L319.79 265.57 L329.15 264.53 L327.24 266.82 Z" fill="#fff" stroke="#121212" stroke-width="0.92" stroke-linejoin="round" stroke-linecap="round"/>
<path d="M319.79 219.46 L317.88 217.06 L327.24 218.21 L329.15 220.49 Z" fill="#fff" stroke="#121212" stroke-width="0.92" stroke-linejoin="round" stroke-linecap="round"/>
<path d="M322.93 272.01 L325.96 268.32 L336.63 267.15 L332.59 270.68 Z" fill="#fff" stroke="#121212" stroke-width="0.92" stroke-linejoin="round" stroke-linecap="round"/>
<path d="M325.96 216.71 L322.93 213.01 L332.59 214.34 L336.63 217.87 Z" fill="#fff" stroke="#121212" stroke-width="0.92" stroke-linejoin="round" stroke-linecap="round"/>
<path d="M324.69 264.16 L324.78 263.88 L335.41 262.92 L335.28 263.19 Z" fill="#fff" stroke="#121212" stroke-width="0.92" stroke-linejoin="round" stroke-linecap="round"/>
<path d="M324.78 221.14 L324.69 220.86 L335.28 221.84 L335.41 222.1 Z" fill="#fff" stroke="#121212" stroke-width="0.92" stroke-linejoin="round" stroke-linecap="round"/>
<path d="M325.96 268.32 L324.69 264.16 L335.28 263.19 L336.63 267.15 Z" fill="#fff" stroke="#121212" stroke-width="0.92" stroke-linejoin="round" stroke-linecap="round"/>
<path d="M324.69 220.86 L325.96 216.71 L336.63 217.87 L335.28 221.84 Z" fill="#fff" stroke="#121212" stroke-width="0.92" stroke-linejoin="round" stroke-linecap="round"/>
<path d="M325.77 259.4 L325.82 259.11 L336.92 258.36 L336.85 258.64 Z" fill="#fff" stroke="#121212" stroke-width="0.92" stroke-linejoin="round" stroke-linecap="round"/>
<path d="M325.82 225.92 L325.77 225.63 L336.85 226.39 L336.92 226.66 Z" fill="#fff" stroke="#121212" stroke-width="0.92" stroke-linejoin="round" stroke-linecap="round"/>
<path d="M326.72 266.48 L327.85 262.79 L339.14 261.87 L337.64 265.4 Z" fill="#fff" stroke="#121212" stroke-width="0.92" stroke-linejoin="round" stroke-linecap="round"/>
<path d="M327.85 222.24 L326.72 218.54 L337.64 219.62 L339.14 223.15 Z" fill="#fff" stroke="#121212" stroke-width="0.92" stroke-linejoin="round" stroke-linecap="round"/>
<path d="M327.85 262.79 L325.77 259.4 L336.85 258.64 L339.14 261.87 Z" fill="#fff" stroke="#121212" stroke-width="0.92" stroke-linejoin="round" stroke-linecap="round"/>
<path d="M325.77 225.63 L327.85 222.24 L339.14 223.15 L336.85 226.39 Z" fill="#fff" stroke="#121212" stroke-width="0.92" stroke-linejoin="round" stroke-linecap="round"/>
<path d="M326.41 254.62 L326.44 254.33 L337.83 253.8 L337.79 254.07 Z" fill="#fff" stroke="#121212" stroke-width="0.92" stroke-linejoin="round" stroke-linecap="round"/>
<path d="M326.44 230.7 L326.41 230.41 L337.79 230.95 L337.83 231.23 Z" fill="#fff" stroke="#121212" stroke-width="0.92" stroke-linejoin="round" stroke-linecap="round"/>
<path d="M328.94 257.26 L326.41 254.62 L337.79 254.07 L340.6 256.59 Z" fill="#fff" stroke="#121212" stroke-width="0.92" stroke-linejoin="round" stroke-linecap="round"/>
<path d="M326.41 230.41 L328.94 227.77 L340.6 228.43 L337.79 230.95 Z" fill="#fff" stroke="#121212" stroke-width="0.92" stroke-linejoin="round" stroke-linecap="round"/>
<path d="M328.27 260.95 L328.94 257.26 L340.6 256.59 L339.7 260.12 Z" fill="#fff" stroke="#121212" stroke-width="0.92" stroke-linejoin="round" stroke-linecap="round"/>
<path d="M328.94 227.77 L328.27 224.07 L339.7 224.9 L340.6 228.43 Z" fill="#fff" stroke="#121212" stroke-width="0.92" stroke-linejoin="round" stroke-linecap="round"/>
<path d="M326.79 249.83 L326.81 249.54 L338.37 249.23 L338.34 249.5 Z" fill="#fff" stroke="#121212" stroke-width="0.92" stroke-linejoin="round" stroke-linecap="round"/>
<path d="M326.81 235.48 L326.79 235.19 L338.34 235.52 L338.37 235.8 Z" fill="#fff" stroke="#121212" stroke-width="0.92" stroke-linejoin="round" stroke-linecap="round"/>
<path d="M326.98 245.05 L326.98 244.76 L338.62 244.66 L338.61 244.93 Z" fill="#fff" stroke="#121212" stroke-width="0.92" stroke-linejoin="round" stroke-linecap="round"/>
<path d="M326.98 240.26 L326.98 239.98 L338.61 240.09 L338.62 240.37 Z" fill="#fff" stroke="#121212" stroke-width="0.92" stroke-linejoin="round" stroke-linecap="round"/>
<path d="M329.61 251.72 L326.79 249.83 L338.34 249.5 L341.48 251.31 Z" fill="#fff" stroke="#121212" stroke-width="0.92" stroke-linejoin="round" stroke-linecap="round"/>
<path d="M326.79 235.19 L329.61 233.3 L341.48 233.71 L338.34 235.52 Z" fill="#fff" stroke="#121212" stroke-width="0.92" stroke-linejoin="round" stroke-linecap="round"/>
<path d="M329.2 255.42 L329.61 251.72 L341.48 251.31 L340.94 254.84 Z" fill="#fff" stroke="#121212" stroke-width="0.92" stroke-linejoin="round" stroke-linecap="round"/>
<path d="M329.61 233.3 L329.2 229.6 L340.94 230.18 L341.48 233.71 Z" fill="#fff" stroke="#121212" stroke-width="0.92" stroke-linejoin="round" stroke-linecap="round"/>
<path d="M329.94 246.19 L326.98 245.05 L338.61 244.93 L341.92 246.03 Z" fill="#fff" stroke="#121212" stroke-width="0.92" stroke-linejoin="round" stroke-linecap="round"/>
<path d="M326.98 239.98 L329.94 238.83 L341.92 239 L338.61 240.09 Z" fill="#fff" stroke="#121212" stroke-width="0.92" stroke-linejoin="round" stroke-linecap="round"/>
<path d="M326.98 244.76 L329.98 244.36 L341.98 244.28 L338.62 244.66 Z" fill="#fff" stroke="#121212" stroke-width="0.92" stroke-linejoin="round" stroke-linecap="round"/>
<path d="M329.98 240.66 L326.98 240.26 L338.62 240.37 L341.98 240.75 Z" fill="#fff" stroke="#121212" stroke-width="0.92" stroke-linejoin="round" stroke-linecap="round"/>
<path d="M329.75 249.89 L329.94 246.19 L341.92 246.03 L341.67 249.56 Z" fill="#fff" stroke="#121212" stroke-width="0.92" stroke-linejoin="round" stroke-linecap="round"/>
<path d="M329.94 238.83 L329.75 235.13 L341.67 235.47 L341.92 239 Z" fill="#fff" stroke="#121212" stroke-width="0.92" stroke-linejoin="round" stroke-linecap="round"/>
<path d="M329.98 244.36 L329.98 240.66 L341.98 240.75 L341.98 244.28 Z" fill="#fff" stroke="#121212" stroke-width="0.92" stroke-linejoin="round" stroke-linecap="round"/>
<path d="M322.08 268.21 L322.93 272.01 L325.96 268.32 L324.69 264.16 L324.78 263.88 L326.72 266.48 L327.85 262.79 L325.77 259.4 L325.82 259.11 L328.27 260.95 L328.94 257.26 L326.41 254.62 L326.44 254.33 L329.2 255.42 L329.61 251.72 L326.79 249.83 L326.81 249.54 L329.75 249.89 L329.94 246.19 L326.98 245.05 L326.98 244.76 L329.98 244.36 L329.98 240.66 L326.98 240.26 L326.98 239.98 L329.94 238.83 L329.75 235.13 L326.81 235.48 L326.79 235.19 L329.61 233.3 L329.2 229.6 L326.44 230.7 L326.41 230.41 L328.94 227.77 L328.27 224.07 L325.82 225.92 L325.77 225.63 L327.85 222.24 L326.72 218.54 L324.78 221.14 L324.69 220.86 L325.96 216.71 L322.93 213.01 L322.08 216.81 L319.79 219.46 L317.88 217.06 L317.59 217.74 L318.9 222.34 L318.5 224.16 L316.04 222.68 L315.89 223.35 L317.98 227.23 L317.76 228.9 L314.98 228.26 L314.89 228.93 L317.43 232.09 L317.3 233.68 L314.35 233.83 L314.3 234.5 L317.12 236.93 L317.06 238.47 L314.04 239.39 L314.03 240.07 L317 241.75 L317 243.27 L314.03 244.96 L314.04 245.63 L317.06 246.56 L317.12 248.1 L314.3 250.53 L314.35 251.2 L317.3 251.35 L317.43 252.93 L314.89 256.09 L314.98 256.77 L317.76 256.12 L317.98 257.79 L315.89 261.67 L316.04 262.34 L318.5 260.87 L318.9 262.69 L317.59 267.29 L317.88 267.96 L319.79 265.57 Z" fill="#fff" stroke="#121212" stroke-width="1.22" stroke-linejoin="round" stroke-linecap="round"/>
<ellipse cx="319.7" cy="242.51" rx="6.4" ry="24.8" fill="#fff" stroke="#121212" stroke-width="1.59"/>
<ellipse cx="318" cy="242.51" rx="6.2" ry="24.4" fill="#fff" stroke="#121212" stroke-width="1.46"/>
<rect x="311" y="220.61" width="7.5" height="43.8" fill="#fff"/>
<line x1="311" y1="220.21" x2="318.5" y2="220.21" stroke="#121212" stroke-width="1.46" stroke-linecap="butt"/>
<line x1="311" y1="264.81" x2="318.5" y2="264.81" stroke="#121212" stroke-width="1.46" stroke-linecap="butt"/>
<ellipse cx="311" cy="242.51" rx="8.5" ry="22.3" fill="#fff" stroke="#121212" stroke-width="1.71"/>
<ellipse cx="311.4" cy="242.51" rx="5.41" ry="14.2" fill="#fff" stroke="#121212" stroke-width="1.59"/>
<path d="M311.4 256.71 L311.97 256.63 L312.53 256.4 L313.07 256.02 L313.6 255.48 L314.11 254.81 L314.58 254 L315.02 253.06 L315.42 252.01 L315.78 250.86 L316.09 249.61 L316.34 248.29 L316.55 246.9 L316.69 245.46 L316.78 244 L316.81 242.51 L316.78 241.03 L316.69 239.56 L316.55 238.12 L316.34 236.74 L316.09 235.41 L315.78 234.17 L315.42 233.01 L315.02 231.96 L314.58 231.02 L314.11 230.21 L313.6 229.54 L313.07 229.01 L312.53 228.62 L311.97 228.39 L311.4 228.31 L311.4 228.31 L311.74 228.39 L312.07 228.62 L312.39 229.01 L312.71 229.54 L313.01 230.21 L313.29 231.02 L313.55 231.96 L313.79 233.01 L314 234.17 L314.18 235.41 L314.33 236.74 L314.46 238.12 L314.54 239.56 L314.59 241.03 L314.61 242.51 L314.59 244 L314.54 245.46 L314.46 246.9 L314.33 248.29 L314.18 249.61 L314 250.86 L313.79 252.01 L313.55 253.06 L313.29 254 L313.01 254.81 L312.71 255.48 L312.39 256.02 L312.07 256.4 L311.74 256.63 L311.4 256.71 Z" fill="#121212" stroke="#121212" stroke-width="0.49" stroke-linejoin="round" stroke-linecap="round"/>
<path d="M305.77 224.94 L305.31 225.94 L304.89 227.02 L304.49 228.18 L304.12 229.4 L303.79 230.69 L303.49 232.04 L306.62 235.85 L306.81 234.99 L307.02 234.17 L307.25 233.38 L307.51 232.65 L307.78 231.96 L308.07 231.32 Z" fill="#fff" stroke="#fff" stroke-width="0.37" stroke-linejoin="round" stroke-linecap="round"/>
<path d="M305.77 224.94 L308.37 224.94 L310.67 231.32 L308.07 231.32 Z" fill="#fff" stroke="#121212" stroke-width="1.22" stroke-linejoin="round" stroke-linecap="round"/>
<path d="M308.37 224.94 L307.91 225.94 L307.49 227.02 L307.09 228.18 L306.72 229.4 L306.39 230.69 L306.09 232.04" fill="none" stroke="#121212" stroke-width="1.22" stroke-linejoin="round" stroke-linecap="round"/>
<path d="M303.49 232.04 L306.62 235.85" fill="none" stroke="#121212" stroke-width="1.34" stroke-linejoin="round" stroke-linecap="round"/>
<path d="M305.77 224.94 L308.07 231.32" fill="none" stroke="#121212" stroke-width="1.34" stroke-linejoin="round" stroke-linecap="round"/>
<path d="M306.25 261 L306.79 261.89 L307.36 262.67 L307.95 263.33 L308.56 263.88 L309.18 264.3 L309.82 264.59 L310.65 256.57 L310.24 256.38 L309.85 256.12 L309.46 255.77 L309.08 255.35 L308.72 254.85 L308.37 254.28 Z" fill="#fff" stroke="#fff" stroke-width="0.37" stroke-linejoin="round" stroke-linecap="round"/>
<path d="M306.25 261 L308.85 261 L310.97 254.28 L308.37 254.28 Z" fill="#fff" stroke="#121212" stroke-width="1.22" stroke-linejoin="round" stroke-linecap="round"/>
<path d="M308.85 261 L309.39 261.89 L309.96 262.67 L310.55 263.33 L311.16 263.88 L311.78 264.3 L312.42 264.59" fill="none" stroke="#121212" stroke-width="1.22" stroke-linejoin="round" stroke-linecap="round"/>
<path d="M309.82 264.59 L310.65 256.57" fill="none" stroke="#121212" stroke-width="1.34" stroke-linejoin="round" stroke-linecap="round"/>
<path d="M306.25 261 L308.37 254.28" fill="none" stroke="#121212" stroke-width="1.34" stroke-linejoin="round" stroke-linecap="round"/>
<path d="M319.37 238.64 L319.21 236.74 L318.99 234.88 L318.7 233.09 L318.36 231.36 L317.96 229.72 L317.51 228.18 L315.55 233.38 L315.83 234.37 L316.09 235.41 L316.31 236.51 L316.49 237.66 L316.63 238.84 L316.73 240.05 Z" fill="#fff" stroke="#fff" stroke-width="0.37" stroke-linejoin="round" stroke-linecap="round"/>
<path d="M319.37 238.64 L321.97 238.64 L319.33 240.05 L316.73 240.05 Z" fill="#fff" stroke="#121212" stroke-width="1.22" stroke-linejoin="round" stroke-linecap="round"/>
<path d="M321.97 238.64 L321.81 236.74 L321.59 234.88 L321.3 233.09 L320.96 231.36 L320.56 229.72 L320.11 228.18" fill="none" stroke="#121212" stroke-width="1.22" stroke-linejoin="round" stroke-linecap="round"/>
<path d="M317.51 228.18 L315.55 233.38" fill="none" stroke="#121212" stroke-width="1.34" stroke-linejoin="round" stroke-linecap="round"/>
<path d="M319.37 238.64 L316.73 240.05" fill="none" stroke="#121212" stroke-width="1.34" stroke-linejoin="round" stroke-linecap="round"/>
<ellipse cx="313.6" cy="242.51" rx="3.66" ry="9.6" fill="#fff" stroke="#121212" stroke-width="1.46"/>
<ellipse cx="313.8" cy="242.51" rx="2.44" ry="6.8" fill="#fff" stroke="#121212" stroke-width="1.22"/>
<path d="M313.8 249.31 L314.05 249.27 L314.31 249.16 L314.55 248.98 L314.79 248.72 L315.02 248.4 L315.23 248.01 L315.43 247.57 L315.61 247.06 L315.77 246.51 L315.91 245.91 L316.03 245.28 L316.12 244.61 L316.19 243.93 L316.23 243.22 L316.24 242.51 L316.23 241.8 L316.19 241.1 L316.12 240.41 L316.03 239.75 L315.91 239.11 L315.77 238.52 L315.61 237.96 L315.43 237.46 L315.23 237.01 L315.02 236.62 L314.79 236.3 L314.55 236.04 L314.31 235.86 L314.05 235.75 L313.8 235.71 L313.8 235.71 L313.92 235.75 L314.04 235.86 L314.15 236.04 L314.26 236.3 L314.37 236.62 L314.47 237.01 L314.56 237.46 L314.65 237.96 L314.72 238.52 L314.79 239.11 L314.84 239.75 L314.88 240.41 L314.91 241.1 L314.93 241.8 L314.94 242.51 L314.93 243.22 L314.91 243.93 L314.88 244.61 L314.84 245.28 L314.79 245.91 L314.72 246.51 L314.65 247.06 L314.56 247.57 L314.47 248.01 L314.37 248.4 L314.26 248.72 L314.15 248.98 L314.04 249.16 L313.92 249.27 L313.8 249.31 Z" fill="#121212" stroke="#121212" stroke-width="0.49" stroke-linejoin="round" stroke-linecap="round"/>
<path d="M312.6 249.71 L316 249.71 L316 253.71 L312.6 253.71 Z" fill="#fff" stroke="#121212" stroke-width="1.22" stroke-linejoin="round" stroke-linecap="round"/>
<path d="M303.6 239.11 L298.6 239.11 L298.6 245.91 L303.6 245.91" fill="#fff" stroke="#121212" stroke-width="1.34" stroke-linejoin="round" stroke-linecap="round"/>
<line x1="298.6" y1="239.11" x2="302" y2="237.51" stroke="#121212" stroke-width="1.1" stroke-linecap="butt"/>
<line x1="302" y1="237.51" x2="304.4" y2="237.51" stroke="#121212" stroke-width="1.1" stroke-linecap="butt"/>
<line x1="291" y1="242.88" x2="313.5" y2="242.97" stroke="#121212" stroke-width="1.04" stroke-linecap="butt" stroke-dasharray="8 1.6 1.8 1.6"/>
<ellipse cx="359" cy="242.74" rx="6.2" ry="14.2" fill="#121212" stroke="#121212" stroke-width="1.22"/>
<ellipse cx="357.8" cy="242.74" rx="6.2" ry="14.2" fill="#fff" stroke="#121212" stroke-width="1.59"/>
<ellipse cx="357.1" cy="242.74" rx="3.4" ry="10.6" fill="#fff" stroke="#121212" stroke-width="1.34"/>
<path d="M357.1 253.34 L357.46 253.29 L357.81 253.11 L358.15 252.83 L358.48 252.43 L358.8 251.92 L359.1 251.32 L359.38 250.62 L359.63 249.84 L359.85 248.97 L360.04 248.04 L360.21 247.06 L360.33 246.02 L360.43 244.95 L360.48 243.85 L360.5 242.74 L360.48 241.64 L360.43 240.54 L360.33 239.47 L360.21 238.43 L360.04 237.44 L359.85 236.51 L359.63 235.65 L359.38 234.87 L359.1 234.17 L358.8 233.56 L358.48 233.06 L358.15 232.66 L357.81 232.38 L357.46 232.2 L357.1 232.14 L357.1 232.14 L357.25 232.2 L357.39 232.38 L357.53 232.66 L357.67 233.06 L357.8 233.56 L357.92 234.17 L358.04 234.87 L358.14 235.65 L358.23 236.51 L358.31 237.44 L358.38 238.43 L358.43 239.47 L358.47 240.54 L358.49 241.64 L358.5 242.74 L358.49 243.85 L358.47 244.95 L358.43 246.02 L358.38 247.06 L358.31 248.04 L358.23 248.97 L358.14 249.84 L358.04 250.62 L357.92 251.32 L357.8 251.92 L357.67 252.43 L357.53 252.83 L357.39 253.11 L357.25 253.29 L357.1 253.34 Z" fill="#121212" stroke="#121212" stroke-width="0.49" stroke-linejoin="round" stroke-linecap="round"/>
<path d="M360 252.1 L360.31 251.51 L360.6 250.82 L360.87 250.03 L361.11 249.15 L361.31 248.2 L361.49 247.19 L361.62 246.12 L361.72 245.02 L361.78 243.89 L361.8 242.74 L361.78 241.6 L361.72 240.47 L361.62 239.36 L361.49 238.3 L361.31 237.28 L361.11 236.34 L360.87 235.46 L360.6 234.67 L360.31 233.98 L360 233.38" fill="none" stroke="#121212" stroke-width="1.22" stroke-linejoin="round" stroke-linecap="round"/>
<line x1="351.6" y1="243.12" x2="354.6" y2="243.13" stroke="#fff" stroke-width="3.42" stroke-linecap="butt"/>
<line x1="343" y1="243.09" x2="360" y2="243.16" stroke="#121212" stroke-width="1.04" stroke-linecap="butt" stroke-dasharray="8 1.6 1.8 1.6"/>
<path d="M397.79 275.13 L399.07 279.34 L403.62 276.44 L402.5 271.75 L402.52 271.72 L404.86 274.96 L406.7 272.06 L404.56 267.92 L404.57 267.88 L407.46 270.58 L408.69 267.68 L405.94 264.07 L405.95 264.03 L409.23 266.2 L410.12 263.3 L406.93 260.22 L406.94 260.18 L410.51 261.83 L411.17 258.93 L407.66 256.37 L407.67 256.33 L411.45 257.45 L411.91 254.55 L408.17 252.51 L408.18 252.47 L412.1 253.07 L412.4 250.17 L408.5 248.66 L408.5 248.62 L412.51 248.69 L412.65 245.79 L408.66 244.81 L408.66 244.77 L412.69 244.31 L412.69 241.41 L408.66 240.95 L408.66 240.91 L412.65 239.93 L412.51 237.03 L408.5 237.1 L408.5 237.06 L412.4 235.55 L412.1 232.65 L408.18 233.25 L408.17 233.21 L411.91 231.17 L411.45 228.27 L407.67 229.39 L407.66 229.35 L411.17 226.79 L410.51 223.89 L406.94 225.54 L406.93 225.5 L410.12 222.42 L409.23 219.52 L405.95 221.69 L405.94 221.65 L408.69 218.04 L407.46 215.14 L404.57 217.84 L404.56 217.8 L406.7 213.66 L404.86 210.76 L402.52 214 L402.5 213.97 L403.62 209.28 L399.07 206.38 L397.79 210.59 L394.43 213.04 L392.3 210.04 L391.93 210.65 L393.17 215.65 L392.57 217.33 L389.89 215.08 L389.67 215.69 L391.78 220.12 L391.41 221.66 L388.35 220.08 L388.2 220.69 L390.85 224.56 L390.61 226.01 L387.29 225.08 L387.19 225.69 L390.21 228.98 L390.05 230.38 L386.56 230.07 L386.49 230.68 L389.78 233.4 L389.68 234.75 L386.09 235.07 L386.05 235.68 L389.52 237.8 L389.48 239.13 L385.86 240.06 L385.84 240.67 L389.43 242.2 L389.43 243.52 L385.84 245.05 L385.86 245.66 L389.48 246.59 L389.52 247.92 L386.05 250.04 L386.09 250.65 L389.68 250.97 L389.78 252.32 L386.49 255.04 L386.56 255.65 L390.05 255.34 L390.21 256.74 L387.19 260.03 L387.29 260.64 L390.61 259.71 L390.85 261.16 L388.2 265.03 L388.35 265.64 L391.41 264.06 L391.78 265.6 L389.67 270.03 L389.89 270.64 L392.57 268.39 L393.17 270.07 L391.93 275.07 L392.3 275.68 L394.43 272.68 Z" fill="#fff" stroke="#121212" stroke-width="1.04" stroke-linejoin="round" stroke-linecap="round"/>
<path d="M374.23 256.25 L377.73 255.93 L390.05 255.34 L386.56 255.65 Z" fill="#fff" stroke="#121212" stroke-width="0.73" stroke-linejoin="round" stroke-linecap="round"/>
<path d="M377.73 229.79 L374.23 229.47 L386.56 230.07 L390.05 230.38 Z" fill="#fff" stroke="#121212" stroke-width="0.73" stroke-linejoin="round" stroke-linecap="round"/>
<path d="M374.97 261.48 L378.29 260.5 L390.61 259.71 L387.29 260.64 Z" fill="#fff" stroke="#121212" stroke-width="0.73" stroke-linejoin="round" stroke-linecap="round"/>
<path d="M378.29 225.22 L374.97 224.24 L387.29 225.08 L390.61 226.01 Z" fill="#fff" stroke="#121212" stroke-width="0.73" stroke-linejoin="round" stroke-linecap="round"/>
<path d="M376.03 266.71 L379.09 265.05 L391.41 264.06 L388.35 265.64 Z" fill="#fff" stroke="#121212" stroke-width="0.73" stroke-linejoin="round" stroke-linecap="round"/>
<path d="M379.09 220.67 L376.03 219.01 L388.35 220.08 L391.41 221.66 Z" fill="#fff" stroke="#121212" stroke-width="0.73" stroke-linejoin="round" stroke-linecap="round"/>
<path d="M377.56 271.95 L380.24 269.59 L392.57 268.39 L389.89 270.64 Z" fill="#fff" stroke="#121212" stroke-width="0.73" stroke-linejoin="round" stroke-linecap="round"/>
<path d="M380.24 216.13 L377.56 213.77 L389.89 215.08 L392.57 217.33 Z" fill="#fff" stroke="#121212" stroke-width="0.73" stroke-linejoin="round" stroke-linecap="round"/>
<path d="M379.98 277.23 L382.1 274.09 L394.43 272.68 L392.3 275.68 Z" fill="#fff" stroke="#121212" stroke-width="0.73" stroke-linejoin="round" stroke-linecap="round"/>
<path d="M382.1 211.63 L379.98 208.49 L392.3 210.04 L394.43 213.04 Z" fill="#fff" stroke="#121212" stroke-width="0.73" stroke-linejoin="round" stroke-linecap="round"/>
<path d="M386.39 281.06 L389.9 278.02 L403.62 276.44 L399.07 279.34 Z" fill="#fff" stroke="#121212" stroke-width="0.73" stroke-linejoin="round" stroke-linecap="round"/>
<path d="M389.9 207.7 L386.39 204.66 L399.07 206.38 L403.62 209.28 Z" fill="#fff" stroke="#121212" stroke-width="0.73" stroke-linejoin="round" stroke-linecap="round"/>
<path d="M388.81 273.12 L388.83 273.08 L402.52 271.72 L402.5 271.75 Z" fill="#fff" stroke="#121212" stroke-width="0.73" stroke-linejoin="round" stroke-linecap="round"/>
<path d="M388.83 212.64 L388.81 212.6 L402.5 213.97 L402.52 214 Z" fill="#fff" stroke="#121212" stroke-width="0.73" stroke-linejoin="round" stroke-linecap="round"/>
<path d="M389.9 278.02 L388.81 273.12 L402.5 271.75 L403.62 276.44 Z" fill="#fff" stroke="#121212" stroke-width="0.73" stroke-linejoin="round" stroke-linecap="round"/>
<path d="M388.81 212.6 L389.9 207.7 L403.62 209.28 L402.5 213.97 Z" fill="#fff" stroke="#121212" stroke-width="0.73" stroke-linejoin="round" stroke-linecap="round"/>
<path d="M390.86 276.47 L392.28 273.44 L406.7 272.06 L404.86 274.96 Z" fill="#fff" stroke="#121212" stroke-width="0.73" stroke-linejoin="round" stroke-linecap="round"/>
<path d="M392.28 212.28 L390.86 209.25 L404.86 210.76 L406.7 213.66 Z" fill="#fff" stroke="#121212" stroke-width="0.73" stroke-linejoin="round" stroke-linecap="round"/>
<path d="M390.31 269.1 L390.32 269.06 L404.57 267.88 L404.56 267.92 Z" fill="#fff" stroke="#121212" stroke-width="0.73" stroke-linejoin="round" stroke-linecap="round"/>
<path d="M390.32 216.66 L390.31 216.62 L404.56 217.8 L404.57 217.84 Z" fill="#fff" stroke="#121212" stroke-width="0.73" stroke-linejoin="round" stroke-linecap="round"/>
<path d="M392.28 273.44 L390.31 269.1 L404.56 267.92 L406.7 272.06 Z" fill="#fff" stroke="#121212" stroke-width="0.73" stroke-linejoin="round" stroke-linecap="round"/>
<path d="M390.31 216.62 L392.28 212.28 L406.7 213.66 L404.56 217.8 Z" fill="#fff" stroke="#121212" stroke-width="0.73" stroke-linejoin="round" stroke-linecap="round"/>
<path d="M391.31 265.07 L391.31 265.03 L405.95 264.03 L405.94 264.07 Z" fill="#fff" stroke="#121212" stroke-width="0.73" stroke-linejoin="round" stroke-linecap="round"/>
<path d="M391.31 220.69 L391.31 220.65 L405.94 221.65 L405.95 221.69 Z" fill="#fff" stroke="#121212" stroke-width="0.73" stroke-linejoin="round" stroke-linecap="round"/>
<path d="M392.86 271.89 L393.81 268.85 L408.69 267.68 L407.46 270.58 Z" fill="#fff" stroke="#121212" stroke-width="0.73" stroke-linejoin="round" stroke-linecap="round"/>
<path d="M393.81 216.87 L392.86 213.83 L407.46 215.14 L408.69 218.04 Z" fill="#fff" stroke="#121212" stroke-width="0.73" stroke-linejoin="round" stroke-linecap="round"/>
<path d="M393.81 268.85 L391.31 265.07 L405.94 264.07 L408.69 267.68 Z" fill="#fff" stroke="#121212" stroke-width="0.73" stroke-linejoin="round" stroke-linecap="round"/>
<path d="M391.31 220.65 L393.81 216.87 L408.69 218.04 L405.94 221.65 Z" fill="#fff" stroke="#121212" stroke-width="0.73" stroke-linejoin="round" stroke-linecap="round"/>
<path d="M392.04 224.72 L392.03 224.68 L406.93 225.5 L406.94 225.54 Z" fill="#fff" stroke="#121212" stroke-width="0.73" stroke-linejoin="round" stroke-linecap="round"/>
<path d="M392.03 261.04 L392.04 261 L406.94 260.18 L406.93 260.22 Z" fill="#fff" stroke="#121212" stroke-width="0.73" stroke-linejoin="round" stroke-linecap="round"/>
<path d="M394.91 264.27 L392.03 261.04 L406.93 260.22 L410.12 263.3 Z" fill="#fff" stroke="#121212" stroke-width="0.73" stroke-linejoin="round" stroke-linecap="round"/>
<path d="M392.03 224.68 L394.91 221.45 L410.12 222.42 L406.93 225.5 Z" fill="#fff" stroke="#121212" stroke-width="0.73" stroke-linejoin="round" stroke-linecap="round"/>
<path d="M392.56 257 L392.56 256.96 L407.67 256.33 L407.66 256.37 Z" fill="#fff" stroke="#121212" stroke-width="0.73" stroke-linejoin="round" stroke-linecap="round"/>
<path d="M392.56 228.76 L392.56 228.72 L407.66 229.35 L407.67 229.39 Z" fill="#fff" stroke="#121212" stroke-width="0.73" stroke-linejoin="round" stroke-linecap="round"/>
<path d="M394.22 267.3 L394.91 264.27 L410.12 263.3 L409.23 266.2 Z" fill="#fff" stroke="#121212" stroke-width="0.73" stroke-linejoin="round" stroke-linecap="round"/>
<path d="M394.91 221.45 L394.22 218.42 L409.23 219.52 L410.12 222.42 Z" fill="#fff" stroke="#121212" stroke-width="0.73" stroke-linejoin="round" stroke-linecap="round"/>
<path d="M392.93 252.97 L392.93 252.93 L408.18 252.47 L408.17 252.51 Z" fill="#fff" stroke="#121212" stroke-width="0.73" stroke-linejoin="round" stroke-linecap="round"/>
<path d="M392.93 232.79 L392.93 232.75 L408.17 233.21 L408.18 233.25 Z" fill="#fff" stroke="#121212" stroke-width="0.73" stroke-linejoin="round" stroke-linecap="round"/>
<path d="M395.72 259.68 L392.56 257 L407.66 256.37 L411.17 258.93 Z" fill="#fff" stroke="#121212" stroke-width="0.73" stroke-linejoin="round" stroke-linecap="round"/>
<path d="M392.56 228.72 L395.72 226.04 L411.17 226.79 L407.66 229.35 Z" fill="#fff" stroke="#121212" stroke-width="0.73" stroke-linejoin="round" stroke-linecap="round"/>
<path d="M393.17 248.93 L393.17 248.89 L408.5 248.62 L408.5 248.66 Z" fill="#fff" stroke="#121212" stroke-width="0.73" stroke-linejoin="round" stroke-linecap="round"/>
<path d="M393.17 236.83 L393.17 236.79 L408.5 237.06 L408.5 237.1 Z" fill="#fff" stroke="#121212" stroke-width="0.73" stroke-linejoin="round" stroke-linecap="round"/>
<path d="M395.21 262.72 L395.72 259.68 L411.17 258.93 L410.51 261.83 Z" fill="#fff" stroke="#121212" stroke-width="0.73" stroke-linejoin="round" stroke-linecap="round"/>
<path d="M395.72 226.04 L395.21 223 L410.51 223.89 L411.17 226.79 Z" fill="#fff" stroke="#121212" stroke-width="0.73" stroke-linejoin="round" stroke-linecap="round"/>
<path d="M393.29 244.9 L393.29 244.86 L408.66 244.77 L408.66 244.81 Z" fill="#fff" stroke="#121212" stroke-width="0.73" stroke-linejoin="round" stroke-linecap="round"/>
<path d="M393.29 240.86 L393.29 240.82 L408.66 240.91 L408.66 240.95 Z" fill="#fff" stroke="#121212" stroke-width="0.73" stroke-linejoin="round" stroke-linecap="round"/>
<path d="M396.29 255.1 L392.93 252.97 L408.17 252.51 L411.91 254.55 Z" fill="#fff" stroke="#121212" stroke-width="0.73" stroke-linejoin="round" stroke-linecap="round"/>
<path d="M392.93 232.75 L396.29 230.62 L411.91 231.17 L408.17 233.21 Z" fill="#fff" stroke="#121212" stroke-width="0.73" stroke-linejoin="round" stroke-linecap="round"/>
<path d="M396.67 250.51 L393.17 248.93 L408.5 248.66 L412.4 250.17 Z" fill="#fff" stroke="#121212" stroke-width="0.73" stroke-linejoin="round" stroke-linecap="round"/>
<path d="M393.17 236.79 L396.67 235.21 L412.4 235.55 L408.5 237.06 Z" fill="#fff" stroke="#121212" stroke-width="0.73" stroke-linejoin="round" stroke-linecap="round"/>
<path d="M395.93 258.13 L396.29 255.1 L411.91 254.55 L411.45 257.45 Z" fill="#fff" stroke="#121212" stroke-width="0.73" stroke-linejoin="round" stroke-linecap="round"/>
<path d="M396.29 230.62 L395.93 227.59 L411.45 228.27 L411.91 231.17 Z" fill="#fff" stroke="#121212" stroke-width="0.73" stroke-linejoin="round" stroke-linecap="round"/>
<path d="M396.86 245.93 L393.29 244.9 L408.66 244.81 L412.65 245.79 Z" fill="#fff" stroke="#121212" stroke-width="0.73" stroke-linejoin="round" stroke-linecap="round"/>
<path d="M393.29 240.82 L396.86 239.79 L412.65 239.93 L408.66 240.91 Z" fill="#fff" stroke="#121212" stroke-width="0.73" stroke-linejoin="round" stroke-linecap="round"/>
<path d="M393.29 244.86 L396.89 244.38 L412.69 244.31 L408.66 244.77 Z" fill="#fff" stroke="#121212" stroke-width="0.73" stroke-linejoin="round" stroke-linecap="round"/>
<path d="M396.89 241.34 L393.29 240.86 L408.66 240.95 L412.69 241.41 Z" fill="#fff" stroke="#121212" stroke-width="0.73" stroke-linejoin="round" stroke-linecap="round"/>
<path d="M396.44 253.55 L396.67 250.51 L412.4 250.17 L412.1 253.07 Z" fill="#fff" stroke="#121212" stroke-width="0.73" stroke-linejoin="round" stroke-linecap="round"/>
<path d="M396.67 235.21 L396.44 232.17 L412.1 232.65 L412.4 235.55 Z" fill="#fff" stroke="#121212" stroke-width="0.73" stroke-linejoin="round" stroke-linecap="round"/>
<path d="M396.75 248.96 L396.86 245.93 L412.65 245.79 L412.51 248.69 Z" fill="#fff" stroke="#121212" stroke-width="0.73" stroke-linejoin="round" stroke-linecap="round"/>
<path d="M396.86 239.79 L396.75 236.76 L412.51 237.03 L412.65 239.93 Z" fill="#fff" stroke="#121212" stroke-width="0.73" stroke-linejoin="round" stroke-linecap="round"/>
<path d="M396.89 244.38 L396.89 241.34 L412.69 241.41 L412.69 244.31 Z" fill="#fff" stroke="#121212" stroke-width="0.73" stroke-linejoin="round" stroke-linecap="round"/>
<path d="M385.39 276.65 L386.39 281.06 L389.9 278.02 L388.81 273.12 L388.83 273.08 L390.86 276.47 L392.28 273.44 L390.31 269.1 L390.32 269.06 L392.86 271.89 L393.81 268.85 L391.31 265.07 L391.31 265.03 L394.22 267.3 L394.91 264.27 L392.03 261.04 L392.04 261 L395.21 262.72 L395.72 259.68 L392.56 257 L392.56 256.96 L395.93 258.13 L396.29 255.1 L392.93 252.97 L392.93 252.93 L396.44 253.55 L396.67 250.51 L393.17 248.93 L393.17 248.89 L396.75 248.96 L396.86 245.93 L393.29 244.9 L393.29 244.86 L396.89 244.38 L396.89 241.34 L393.29 240.86 L393.29 240.82 L396.86 239.79 L396.75 236.76 L393.17 236.83 L393.17 236.79 L396.67 235.21 L396.44 232.17 L392.93 232.79 L392.93 232.75 L396.29 230.62 L395.93 227.59 L392.56 228.76 L392.56 228.72 L395.72 226.04 L395.21 223 L392.04 224.72 L392.03 224.68 L394.91 221.45 L394.22 218.42 L391.31 220.69 L391.31 220.65 L393.81 216.87 L392.86 213.83 L390.32 216.66 L390.31 216.62 L392.28 212.28 L390.86 209.25 L388.83 212.64 L388.81 212.6 L389.9 207.7 L386.39 204.66 L385.39 209.07 L382.1 211.63 L379.98 208.49 L379.61 209.13 L380.84 214.37 L380.24 216.13 L377.56 213.77 L377.34 214.41 L379.45 219.04 L379.09 220.67 L376.03 219.01 L375.88 219.65 L378.53 223.69 L378.29 225.22 L374.97 224.24 L374.86 224.88 L377.89 228.33 L377.73 229.79 L374.23 229.47 L374.16 230.11 L377.46 232.95 L377.36 234.37 L373.77 234.7 L373.73 235.34 L377.2 237.56 L377.15 238.96 L373.53 239.93 L373.52 240.56 L377.1 242.17 L377.1 243.55 L373.52 245.16 L373.53 245.79 L377.15 246.76 L377.2 248.16 L373.73 250.38 L373.77 251.02 L377.36 251.35 L377.46 252.77 L374.16 255.61 L374.23 256.25 L377.73 255.93 L377.89 257.39 L374.86 260.84 L374.97 261.48 L378.29 260.5 L378.53 262.03 L375.88 266.07 L376.03 266.71 L379.09 265.05 L379.45 266.68 L377.34 271.31 L377.56 271.95 L380.24 269.59 L380.84 271.35 L379.61 276.59 L379.98 277.23 L382.1 274.09 Z" fill="#fff" stroke="#121212" stroke-width="1.04" stroke-linejoin="round" stroke-linecap="round"/>
<ellipse cx="386.54" cy="243.41" rx="9.33" ry="30.14" fill="none" stroke="#121212" stroke-width="2.05"/>
<ellipse cx="387.5" cy="243.41" rx="8.06" ry="27.06" fill="none" stroke="#121212" stroke-width="0.78"/>
<path d="M381.14 222.62 C382.39 220.95 385.78 219.91 387.07 220.75 C388.36 221.59 388.91 224.98 388.87 227.68 C388.84 230.37 388.11 235.03 386.86 236.92 C385.61 238.81 382.57 240.04 381.35 239.01 C380.13 237.98 379.58 233.49 379.55 230.76 C379.51 228.03 379.88 224.29 381.14 222.62 Z" fill="#fff" stroke="#121212" stroke-width="1.27" stroke-linejoin="round" stroke-linecap="round"/>
<path d="M380.18 247.37 C381.38 246.45 384.67 246.31 386.01 247.81 C387.35 249.31 388.36 253.95 388.24 256.39 C388.11 258.83 386.58 261.76 385.27 262.44 C383.96 263.12 381.47 261.98 380.39 260.46 C379.32 258.94 378.84 255.49 378.8 253.31 C378.77 251.13 378.98 248.29 380.18 247.37 Z" fill="#fff" stroke="#121212" stroke-width="1.27" stroke-linejoin="round" stroke-linecap="round"/>
<path d="M385.06 264.09 C386.05 262.6 389.51 260.44 390.78 260.68 C392.05 260.92 392.99 263.8 392.69 265.52 C392.39 267.24 390.29 270.34 388.98 271.02 C387.67 271.7 385.5 270.75 384.85 269.59 C384.19 268.43 384.07 265.57 385.06 264.09 Z" fill="#fff" stroke="#121212" stroke-width="1.27" stroke-linejoin="round" stroke-linecap="round"/>
<path d="M383.26 215.91 C383.84 215.4 390.73 215.52 392.48 216.68 C394.23 217.83 394.33 222.33 393.75 222.84 C393.17 223.35 390.73 220.91 388.98 219.76 C387.23 218.6 382.67 216.42 383.26 215.91 Z" fill="#fff" stroke="#121212" stroke-width="1.27" stroke-linejoin="round" stroke-linecap="round"/>
<path d="M387.98 256.52 L388.79 256.09 L389.57 255.49 L390.31 254.72 L391 253.8 L391.64 252.73 L392.2 251.53 L392.69 250.21 L393.11 248.8 L393.43 247.3 L393.67 245.75 L393.81 244.15 L393.86 242.53 L393.81 240.91 L393.67 239.31 L393.43 237.76 L393.11 236.26 L392.69 234.85 L392.2 233.53 L391.64 232.33 L391 231.26 L390.31 230.34 L389.57 229.57 L388.79 228.97 L387.98 228.54 L387.36 229.19 L387.85 229.59 L388.32 230.17 L388.76 230.9 L389.18 231.78 L389.56 232.8 L389.9 233.95 L390.19 235.2 L390.44 236.55 L390.63 237.98 L390.77 239.46 L390.86 240.99 L390.89 242.53 L390.86 244.07 L390.77 245.6 L390.63 247.08 L390.44 248.51 L390.19 249.86 L389.9 251.11 L389.56 252.26 L389.18 253.28 L388.76 254.16 L388.32 254.89 L387.85 255.47 L387.36 255.87 Z" fill="#121212" stroke="#121212" stroke-width="0.61" stroke-linejoin="round" stroke-linecap="round"/>
<path d="M386.27 252.52 L387.01 251.97 L387.7 251.26 L388.32 250.39 L388.86 249.39 L389.3 248.27 L389.65 247.06 L389.89 245.78 L390.02 244.45 L390.03 243.11 L389.93 241.78 L389.72 240.49 L389.39 239.26 L388.97 238.12 L388.45 237.09 L387.85 236.19 L387.18 235.44 L386.44 236.01 L386.93 236.71 L387.38 237.54 L387.76 238.5 L388.08 239.57 L388.32 240.71 L388.47 241.91 L388.55 243.15 L388.54 244.4 L388.45 245.63 L388.27 246.82 L388.01 247.95 L387.68 248.99 L387.28 249.92 L386.82 250.73 L386.31 251.39 L385.77 251.9 Z" fill="#121212" stroke="#121212" stroke-width="0.61" stroke-linejoin="round" stroke-linecap="round"/>
<path d="M385.1 232.23 L384.44 232.66 L383.82 233.54 L383.27 234.83 L382.82 236.48 L382.48 238.41 L382.27 240.53 L382.2 242.75 L382.27 244.97 L382.48 247.09 L382.82 249.02 L383.27 250.67 L383.82 251.96 L384.44 252.84 L385.1 253.27" fill="none" stroke="#121212" stroke-width="0.88" stroke-linejoin="round" stroke-linecap="round"/>
<line x1="373.6" y1="243.21" x2="377.4" y2="243.23" stroke="#fff" stroke-width="3.42" stroke-linecap="butt"/>
<line x1="366" y1="243.18" x2="390.6" y2="243.28" stroke="#121212" stroke-width="1.04" stroke-linecap="butt" stroke-dasharray="8 1.6 1.8 1.6"/>
<path d="M424.4 230.12 L436.4 230.12 A4.7 13 0 0 1 436.4 256.12 L424.4 256.12 Z" fill="#fff" stroke="#121212" stroke-width="1.83" stroke-linejoin="round" stroke-linecap="round"/>
<line x1="428.31" y1="232.86" x2="437.11" y2="232.86" stroke="#121212" stroke-width="1.83" stroke-linecap="butt"/>
<line x1="429.32" y1="235.42" x2="438.12" y2="235.42" stroke="#121212" stroke-width="1.83" stroke-linecap="butt"/>
<line x1="429.89" y1="237.99" x2="438.69" y2="237.99" stroke="#121212" stroke-width="1.83" stroke-linecap="butt"/>
<line x1="430.2" y1="240.55" x2="439" y2="240.55" stroke="#121212" stroke-width="1.83" stroke-linecap="butt"/>
<line x1="430.3" y1="243.12" x2="439.1" y2="243.12" stroke="#121212" stroke-width="1.83" stroke-linecap="butt"/>
<line x1="430.2" y1="245.69" x2="439" y2="245.69" stroke="#121212" stroke-width="1.83" stroke-linecap="butt"/>
<line x1="429.89" y1="248.25" x2="438.69" y2="248.25" stroke="#121212" stroke-width="1.83" stroke-linecap="butt"/>
<line x1="429.32" y1="250.82" x2="438.12" y2="250.82" stroke="#121212" stroke-width="1.83" stroke-linecap="butt"/>
<line x1="428.31" y1="253.38" x2="437.11" y2="253.38" stroke="#121212" stroke-width="1.83" stroke-linecap="butt"/>
<path d="M434.49 255.45 L435.17 255.13 L435.82 254.55 L436.43 253.73 L437 252.67 L437.49 251.42 L437.91 249.98 L438.25 248.4 L438.5 246.7 L438.65 244.93 L438.7 243.12 L438.65 241.31 L438.5 239.54 L438.25 237.84 L437.91 236.26 L437.49 234.82 L437 233.57 L436.43 232.51 L435.82 231.69 L435.17 231.11 L434.49 230.79" fill="none" stroke="#121212" stroke-width="1.59" stroke-linejoin="round" stroke-linecap="round"/>
<path d="M428.09 255.45 L428.77 255.13 L429.42 254.55 L430.03 253.73 L430.6 252.67 L431.09 251.42 L431.51 249.98 L431.85 248.4 L432.1 246.7 L432.25 244.93 L432.3 243.12 L432.25 241.31 L432.1 239.54 L431.85 237.84 L431.51 236.26 L431.09 234.82 L430.6 233.57 L430.03 232.51 L429.42 231.69 L428.77 231.11 L428.09 230.79" fill="none" stroke="#121212" stroke-width="1.59" stroke-linejoin="round" stroke-linecap="round"/>
<ellipse cx="424.4" cy="243.12" rx="4.7" ry="13" fill="#fff" stroke="#121212" stroke-width="2.32"/>
<ellipse cx="424.7" cy="243.12" rx="3.1" ry="10" fill="#fff" stroke="#121212" stroke-width="1.71"/>
<line x1="419.4" y1="243.39" x2="422.4" y2="243.41" stroke="#fff" stroke-width="3.42" stroke-linecap="butt"/>
<line x1="414.5" y1="243.37" x2="427.5" y2="243.43" stroke="#121212" stroke-width="1.04" stroke-linecap="butt" stroke-dasharray="8 1.6 1.8 1.6"/>
<ellipse cx="378.6" cy="370.52" rx="6.3" ry="14.4" fill="#fff" stroke="#121212" stroke-width="1.46"/>
<ellipse cx="378.6" cy="370.52" rx="4.83" ry="12.3" fill="#fff" stroke="#121212" stroke-width="1.46"/>
<line x1="371.4" y1="370.44" x2="375" y2="370.48" stroke="#fff" stroke-width="3.42" stroke-linecap="butt"/>
<line x1="368.5" y1="370.4" x2="381" y2="370.56" stroke="#121212" stroke-width="1.04" stroke-linecap="butt" stroke-dasharray="8 1.6 1.8 1.6"/>
<path d="M396.9 340.27 L413.9 340.27 A10.4 31.3 0 0 1 413.9 402.87 L396.9 402.87 Z" fill="#fff" stroke="#121212" stroke-width="1.46" stroke-linejoin="round" stroke-linecap="round"/>
<ellipse cx="396.9" cy="371.57" rx="10.4" ry="31.3" fill="#fff" stroke="#121212" stroke-width="1.59"/>
<ellipse cx="397.2" cy="371.57" rx="8.81" ry="26.5" fill="none" stroke="#121212" stroke-width="1.22"/>
<ellipse cx="404.4" cy="366.3" rx="1.26" ry="2.5" fill="#fff" stroke="#121212" stroke-width="1.22"/>
<path d="M403.01 362.55 L404.54 360.14" fill="none" stroke="#121212" stroke-width="1.1" stroke-linejoin="round" stroke-linecap="round"/>
<ellipse cx="402.77" cy="356.98" rx="1.95" ry="2.5" fill="#fff" stroke="#121212" stroke-width="1.22"/>
<path d="M400.96 355.6 L401.94 351.32" fill="none" stroke="#121212" stroke-width="1.1" stroke-linejoin="round" stroke-linecap="round"/>
<ellipse cx="399.89" cy="351" rx="2.39" ry="2.5" fill="#fff" stroke="#121212" stroke-width="1.22"/>
<path d="M398.08 352.31 L398.29 347.15" fill="none" stroke="#121212" stroke-width="1.1" stroke-linejoin="round" stroke-linecap="round"/>
<ellipse cx="396.42" cy="349.73" rx="2.49" ry="2.5" fill="#fff" stroke="#121212" stroke-width="1.22"/>
<path d="M395.01 353.43 L394.4 348.57" fill="none" stroke="#121212" stroke-width="1.1" stroke-linejoin="round" stroke-linecap="round"/>
<ellipse cx="393.15" cy="353.46" rx="2.21" ry="2.5" fill="#fff" stroke="#121212" stroke-width="1.22"/>
<path d="M392.48 358.7 L391.18 355.26" fill="none" stroke="#121212" stroke-width="1.1" stroke-linejoin="round" stroke-linecap="round"/>
<ellipse cx="390.83" cy="361.34" rx="1.63" ry="2.5" fill="#fff" stroke="#121212" stroke-width="1.22"/>
<path d="M391.04 366.93 L389.36 365.68" fill="none" stroke="#121212" stroke-width="1.1" stroke-linejoin="round" stroke-linecap="round"/>
<ellipse cx="389.99" cy="371.57" rx="0.9" ry="2.5" fill="#fff" stroke="#121212" stroke-width="1.22"/>
<path d="M391.04 376.21 L389.36 377.46" fill="none" stroke="#121212" stroke-width="1.1" stroke-linejoin="round" stroke-linecap="round"/>
<ellipse cx="390.83" cy="381.79" rx="1.63" ry="2.5" fill="#fff" stroke="#121212" stroke-width="1.22"/>
<path d="M392.48 384.43 L391.18 387.88" fill="none" stroke="#121212" stroke-width="1.1" stroke-linejoin="round" stroke-linecap="round"/>
<ellipse cx="393.15" cy="389.67" rx="2.21" ry="2.5" fill="#fff" stroke="#121212" stroke-width="1.22"/>
<path d="M395.01 389.71 L394.4 394.57" fill="none" stroke="#121212" stroke-width="1.1" stroke-linejoin="round" stroke-linecap="round"/>
<ellipse cx="396.42" cy="393.41" rx="2.49" ry="2.5" fill="#fff" stroke="#121212" stroke-width="1.22"/>
<path d="M398.08 390.83 L398.29 395.99" fill="none" stroke="#121212" stroke-width="1.1" stroke-linejoin="round" stroke-linecap="round"/>
<ellipse cx="399.89" cy="392.14" rx="2.39" ry="2.5" fill="#fff" stroke="#121212" stroke-width="1.22"/>
<path d="M400.96 387.53 L401.94 391.81" fill="none" stroke="#121212" stroke-width="1.1" stroke-linejoin="round" stroke-linecap="round"/>
<ellipse cx="402.77" cy="386.16" rx="1.95" ry="2.5" fill="#fff" stroke="#121212" stroke-width="1.22"/>
<path d="M403.01 380.58 L404.54 383" fill="none" stroke="#121212" stroke-width="1.1" stroke-linejoin="round" stroke-linecap="round"/>
<ellipse cx="404.4" cy="376.83" rx="1.26" ry="2.5" fill="#fff" stroke="#121212" stroke-width="1.22"/>
<path d="M403.75 371.57 L405.47 371.57" fill="none" stroke="#121212" stroke-width="1.1" stroke-linejoin="round" stroke-linecap="round"/>
<ellipse cx="397.3" cy="371.57" rx="8.27" ry="24.9" fill="none" stroke="#121212" stroke-width="0.98"/>
<ellipse cx="397.3" cy="371.57" rx="6.41" ry="17.5" fill="#fff" stroke="#121212" stroke-width="1.22"/>
<ellipse cx="397.1" cy="371.57" rx="4.55" ry="12.5" fill="#fff" stroke="#121212" stroke-width="1.83"/>
<path d="M397.1 384.07 L397.58 384 L398.05 383.79 L398.51 383.46 L398.95 382.99 L399.38 382.39 L399.78 381.68 L400.15 380.86 L400.48 379.93 L400.78 378.92 L401.04 377.82 L401.26 376.65 L401.43 375.43 L401.55 374.17 L401.63 372.87 L401.65 371.57 L401.63 370.26 L401.55 368.97 L401.43 367.71 L401.26 366.48 L401.04 365.32 L400.78 364.22 L400.48 363.2 L400.15 362.28 L399.78 361.46 L399.38 360.74 L398.95 360.15 L398.51 359.68 L398.05 359.34 L397.58 359.14 L397.1 359.07 L397.1 359.07 L397.33 359.14 L397.55 359.34 L397.77 359.68 L397.98 360.15 L398.18 360.74 L398.37 361.46 L398.54 362.28 L398.7 363.2 L398.84 364.22 L398.96 365.32 L399.07 366.48 L399.15 367.71 L399.21 368.97 L399.24 370.26 L399.25 371.57 L399.24 372.87 L399.21 374.17 L399.15 375.43 L399.07 376.65 L398.96 377.82 L398.84 378.92 L398.7 379.93 L398.54 380.86 L398.37 381.68 L398.18 382.39 L397.98 382.99 L397.77 383.46 L397.55 383.79 L397.33 384 L397.1 384.07 Z" fill="#121212" stroke="#121212" stroke-width="0.49" stroke-linejoin="round" stroke-linecap="round"/>
<path d="M397.1 359.07 L396.62 359.14 L396.15 359.34 L395.69 359.68 L395.25 360.15 L394.82 360.74 L394.42 361.46 L394.05 362.28 L393.72 363.2 L393.42 364.22 L393.16 365.32 L392.94 366.48 L392.77 367.71 L392.65 368.97 L392.57 370.26 L392.55 371.57 L392.57 372.87 L392.65 374.17 L392.77 375.43 L392.94 376.65 L393.16 377.82 L393.42 378.92 L393.72 379.93 L394.05 380.86 L394.42 381.68 L394.82 382.39 L395.25 382.99 L395.69 383.46 L396.15 383.79 L396.62 384 L397.1 384.07 L397.1 384.07 L396.73 384 L396.36 383.79 L396 383.46 L395.65 382.99 L395.32 382.39 L395.01 381.68 L394.72 380.86 L394.46 379.93 L394.23 378.92 L394.02 377.82 L393.85 376.65 L393.72 375.43 L393.62 374.17 L393.57 372.87 L393.55 371.57 L393.57 370.26 L393.62 368.97 L393.72 367.71 L393.85 366.48 L394.02 365.32 L394.23 364.22 L394.46 363.2 L394.72 362.28 L395.01 361.46 L395.32 360.74 L395.65 360.15 L396 359.68 L396.36 359.34 L396.73 359.14 L397.1 359.07 Z" fill="#121212" stroke="#121212" stroke-width="0.49" stroke-linejoin="round" stroke-linecap="round"/>
<line x1="402.18" y1="401.27" x2="415.98" y2="401.27" stroke="#333" stroke-width="0.85" stroke-linecap="butt"/>
<line x1="405.34" y1="399.87" x2="417.14" y2="399.87" stroke="#333" stroke-width="0.85" stroke-linecap="butt"/>
<line x1="408.22" y1="398.47" x2="418.02" y2="398.47" stroke="#333" stroke-width="0.85" stroke-linecap="butt"/>
<line x1="410.93" y1="397.07" x2="418.73" y2="397.07" stroke="#333" stroke-width="0.85" stroke-linecap="butt"/>
<line x1="385.4" y1="370.62" x2="390.4" y2="370.68" stroke="#fff" stroke-width="3.42" stroke-linecap="butt"/>
<line x1="384" y1="370.6" x2="399" y2="370.79" stroke="#121212" stroke-width="1.04" stroke-linecap="butt" stroke-dasharray="8 1.6 1.8 1.6"/>
<path d="M453.71 403.45 L454.89 407.66 L459.07 404.76 L457.93 400.07 L457.95 400.04 L460.21 403.28 L461.9 400.38 L459.78 396.24 L459.79 396.2 L462.59 398.9 L463.72 396 L461.01 392.39 L461.02 392.35 L464.21 394.52 L465.03 391.62 L461.9 388.54 L461.91 388.5 L465.39 390.14 L465.99 387.24 L462.56 384.69 L462.56 384.65 L466.25 385.77 L466.67 382.87 L463.02 380.83 L463.02 380.79 L466.85 381.39 L467.12 378.49 L463.31 376.98 L463.31 376.94 L467.22 377.01 L467.36 374.11 L463.45 373.13 L463.46 373.09 L467.39 372.63 L467.39 369.73 L463.46 369.27 L463.45 369.23 L467.36 368.25 L467.22 365.35 L463.31 365.42 L463.31 365.38 L467.12 363.87 L466.85 360.97 L463.02 361.57 L463.02 361.52 L466.67 359.49 L466.25 356.59 L462.56 357.71 L462.56 357.67 L465.99 355.11 L465.39 352.21 L461.91 353.86 L461.9 353.82 L465.03 350.73 L464.21 347.83 L461.02 350.01 L461.01 349.97 L463.72 346.36 L462.59 343.46 L459.79 346.16 L459.78 346.12 L461.9 341.98 L460.21 339.08 L457.95 342.32 L457.93 342.29 L459.07 337.6 L454.89 334.7 L453.71 338.91 L450.56 341.36 L448.48 338.36 L448.12 338.97 L449.38 343.97 L448.82 345.65 L446.16 343.4 L445.95 344.01 L448.08 348.43 L447.74 349.98 L444.69 348.4 L444.55 349.01 L447.21 352.87 L446.99 354.33 L443.68 353.4 L443.58 354.01 L446.61 357.3 L446.46 358.7 L442.97 358.39 L442.91 359 L446.21 361.71 L446.12 363.07 L442.53 363.39 L442.49 363.99 L445.97 366.12 L445.92 367.45 L442.3 368.38 L442.29 368.99 L445.87 370.52 L445.87 371.84 L442.29 373.37 L442.3 373.98 L445.92 374.91 L445.97 376.24 L442.49 378.36 L442.53 378.97 L446.12 379.29 L446.21 380.64 L442.91 383.36 L442.97 383.96 L446.46 383.66 L446.61 385.06 L443.58 388.35 L443.68 388.96 L446.99 388.02 L447.21 389.48 L444.55 393.35 L444.69 393.96 L447.74 392.37 L448.08 393.92 L445.95 398.35 L446.16 398.96 L448.82 396.71 L449.38 398.39 L448.12 403.39 L448.48 404 L450.56 401 Z" fill="#fff" stroke="#121212" stroke-width="1.04" stroke-linejoin="round" stroke-linecap="round"/>
<path d="M433.3 384.57 L436.79 384.25 L446.46 383.66 L442.97 383.96 Z" fill="#fff" stroke="#121212" stroke-width="0.73" stroke-linejoin="round" stroke-linecap="round"/>
<path d="M436.79 358.11 L433.3 357.79 L442.97 358.39 L446.46 358.7 Z" fill="#fff" stroke="#121212" stroke-width="0.73" stroke-linejoin="round" stroke-linecap="round"/>
<path d="M434 389.8 L437.32 388.82 L446.99 388.02 L443.68 388.96 Z" fill="#fff" stroke="#121212" stroke-width="0.73" stroke-linejoin="round" stroke-linecap="round"/>
<path d="M437.32 353.54 L434 352.56 L443.68 353.4 L446.99 354.33 Z" fill="#fff" stroke="#121212" stroke-width="0.73" stroke-linejoin="round" stroke-linecap="round"/>
<path d="M435.02 395.03 L438.07 393.37 L447.74 392.37 L444.69 393.96 Z" fill="#fff" stroke="#121212" stroke-width="0.73" stroke-linejoin="round" stroke-linecap="round"/>
<path d="M438.07 348.98 L435.02 347.33 L444.69 348.4 L447.74 349.98 Z" fill="#fff" stroke="#121212" stroke-width="0.73" stroke-linejoin="round" stroke-linecap="round"/>
<path d="M436.49 400.27 L439.15 397.91 L448.82 396.71 L446.16 398.96 Z" fill="#fff" stroke="#121212" stroke-width="0.73" stroke-linejoin="round" stroke-linecap="round"/>
<path d="M439.15 344.45 L436.49 342.09 L446.16 343.4 L448.82 345.65 Z" fill="#fff" stroke="#121212" stroke-width="0.73" stroke-linejoin="round" stroke-linecap="round"/>
<path d="M438.8 405.55 L440.89 402.41 L450.56 401 L448.48 404 Z" fill="#fff" stroke="#121212" stroke-width="0.73" stroke-linejoin="round" stroke-linecap="round"/>
<path d="M440.89 339.95 L438.8 336.81 L448.48 338.36 L450.56 341.36 Z" fill="#fff" stroke="#121212" stroke-width="0.73" stroke-linejoin="round" stroke-linecap="round"/>
<path d="M444.94 409.38 L448.3 406.34 L459.07 404.76 L454.89 407.66 Z" fill="#fff" stroke="#121212" stroke-width="0.73" stroke-linejoin="round" stroke-linecap="round"/>
<path d="M448.3 336.01 L444.94 332.98 L454.89 334.7 L459.07 337.6 Z" fill="#fff" stroke="#121212" stroke-width="0.73" stroke-linejoin="round" stroke-linecap="round"/>
<path d="M447.19 401.43 L447.2 401.4 L457.95 400.04 L457.93 400.07 Z" fill="#fff" stroke="#121212" stroke-width="0.73" stroke-linejoin="round" stroke-linecap="round"/>
<path d="M447.2 340.96 L447.19 340.92 L457.93 342.29 L457.95 342.32 Z" fill="#fff" stroke="#121212" stroke-width="0.73" stroke-linejoin="round" stroke-linecap="round"/>
<path d="M448.3 406.34 L447.19 401.43 L457.93 400.07 L459.07 404.76 Z" fill="#fff" stroke="#121212" stroke-width="0.73" stroke-linejoin="round" stroke-linecap="round"/>
<path d="M447.19 340.92 L448.3 336.01 L459.07 337.6 L457.93 342.29 Z" fill="#fff" stroke="#121212" stroke-width="0.73" stroke-linejoin="round" stroke-linecap="round"/>
<path d="M449.21 404.79 L450.57 401.76 L461.9 400.38 L460.21 403.28 Z" fill="#fff" stroke="#121212" stroke-width="0.73" stroke-linejoin="round" stroke-linecap="round"/>
<path d="M450.57 340.6 L449.21 337.56 L460.21 339.08 L461.9 341.98 Z" fill="#fff" stroke="#121212" stroke-width="0.73" stroke-linejoin="round" stroke-linecap="round"/>
<path d="M448.59 397.42 L448.6 397.38 L459.79 396.2 L459.78 396.24 Z" fill="#fff" stroke="#121212" stroke-width="0.73" stroke-linejoin="round" stroke-linecap="round"/>
<path d="M448.6 344.98 L448.59 344.94 L459.78 346.12 L459.79 346.16 Z" fill="#fff" stroke="#121212" stroke-width="0.73" stroke-linejoin="round" stroke-linecap="round"/>
<path d="M450.57 401.76 L448.59 397.42 L459.78 396.24 L461.9 400.38 Z" fill="#fff" stroke="#121212" stroke-width="0.73" stroke-linejoin="round" stroke-linecap="round"/>
<path d="M448.59 344.94 L450.57 340.6 L461.9 341.98 L459.78 346.12 Z" fill="#fff" stroke="#121212" stroke-width="0.73" stroke-linejoin="round" stroke-linecap="round"/>
<path d="M449.53 393.39 L449.54 393.35 L461.02 392.35 L461.01 392.39 Z" fill="#fff" stroke="#121212" stroke-width="0.73" stroke-linejoin="round" stroke-linecap="round"/>
<path d="M449.54 349.01 L449.53 348.97 L461.01 349.97 L461.02 350.01 Z" fill="#fff" stroke="#121212" stroke-width="0.73" stroke-linejoin="round" stroke-linecap="round"/>
<path d="M451.13 400.21 L452.04 397.17 L463.72 396 L462.59 398.9 Z" fill="#fff" stroke="#121212" stroke-width="0.73" stroke-linejoin="round" stroke-linecap="round"/>
<path d="M452.04 345.19 L451.13 342.15 L462.59 343.46 L463.72 346.36 Z" fill="#fff" stroke="#121212" stroke-width="0.73" stroke-linejoin="round" stroke-linecap="round"/>
<path d="M452.04 397.17 L449.53 393.39 L461.01 392.39 L463.72 396 Z" fill="#fff" stroke="#121212" stroke-width="0.73" stroke-linejoin="round" stroke-linecap="round"/>
<path d="M449.53 348.97 L452.04 345.19 L463.72 346.36 L461.01 349.97 Z" fill="#fff" stroke="#121212" stroke-width="0.73" stroke-linejoin="round" stroke-linecap="round"/>
<path d="M450.21 353.04 L450.21 353 L461.9 353.82 L461.91 353.86 Z" fill="#fff" stroke="#121212" stroke-width="0.73" stroke-linejoin="round" stroke-linecap="round"/>
<path d="M450.21 389.36 L450.21 389.31 L461.91 388.5 L461.9 388.54 Z" fill="#fff" stroke="#121212" stroke-width="0.73" stroke-linejoin="round" stroke-linecap="round"/>
<path d="M453.1 392.59 L450.21 389.36 L461.9 388.54 L465.03 391.62 Z" fill="#fff" stroke="#121212" stroke-width="0.73" stroke-linejoin="round" stroke-linecap="round"/>
<path d="M450.21 353 L453.1 349.77 L465.03 350.73 L461.9 353.82 Z" fill="#fff" stroke="#121212" stroke-width="0.73" stroke-linejoin="round" stroke-linecap="round"/>
<path d="M450.7 385.32 L450.71 385.28 L462.56 384.65 L462.56 384.69 Z" fill="#fff" stroke="#121212" stroke-width="0.73" stroke-linejoin="round" stroke-linecap="round"/>
<path d="M450.71 357.08 L450.7 357.03 L462.56 357.67 L462.56 357.71 Z" fill="#fff" stroke="#121212" stroke-width="0.73" stroke-linejoin="round" stroke-linecap="round"/>
<path d="M452.44 395.62 L453.1 392.59 L465.03 391.62 L464.21 394.52 Z" fill="#fff" stroke="#121212" stroke-width="0.73" stroke-linejoin="round" stroke-linecap="round"/>
<path d="M453.1 349.77 L452.44 346.73 L464.21 347.83 L465.03 350.73 Z" fill="#fff" stroke="#121212" stroke-width="0.73" stroke-linejoin="round" stroke-linecap="round"/>
<path d="M451.05 381.29 L451.06 381.25 L463.02 380.79 L463.02 380.83 Z" fill="#fff" stroke="#121212" stroke-width="0.73" stroke-linejoin="round" stroke-linecap="round"/>
<path d="M451.06 361.11 L451.05 361.07 L463.02 361.52 L463.02 361.57 Z" fill="#fff" stroke="#121212" stroke-width="0.73" stroke-linejoin="round" stroke-linecap="round"/>
<path d="M453.87 388 L450.7 385.32 L462.56 384.69 L465.99 387.24 Z" fill="#fff" stroke="#121212" stroke-width="0.73" stroke-linejoin="round" stroke-linecap="round"/>
<path d="M450.7 357.03 L453.87 354.36 L465.99 355.11 L462.56 357.67 Z" fill="#fff" stroke="#121212" stroke-width="0.73" stroke-linejoin="round" stroke-linecap="round"/>
<path d="M451.28 377.25 L451.28 377.21 L463.31 376.94 L463.31 376.98 Z" fill="#fff" stroke="#121212" stroke-width="0.73" stroke-linejoin="round" stroke-linecap="round"/>
<path d="M451.28 365.15 L451.28 365.1 L463.31 365.38 L463.31 365.42 Z" fill="#fff" stroke="#121212" stroke-width="0.73" stroke-linejoin="round" stroke-linecap="round"/>
<path d="M453.39 391.04 L453.87 388 L465.99 387.24 L465.39 390.14 Z" fill="#fff" stroke="#121212" stroke-width="0.73" stroke-linejoin="round" stroke-linecap="round"/>
<path d="M453.87 354.36 L453.39 351.32 L465.39 352.21 L465.99 355.11 Z" fill="#fff" stroke="#121212" stroke-width="0.73" stroke-linejoin="round" stroke-linecap="round"/>
<path d="M451.39 373.22 L451.39 373.17 L463.46 373.09 L463.45 373.13 Z" fill="#fff" stroke="#121212" stroke-width="0.73" stroke-linejoin="round" stroke-linecap="round"/>
<path d="M451.39 369.18 L451.39 369.14 L463.45 369.23 L463.46 369.27 Z" fill="#fff" stroke="#121212" stroke-width="0.73" stroke-linejoin="round" stroke-linecap="round"/>
<path d="M454.42 383.42 L451.05 381.29 L463.02 380.83 L466.67 382.87 Z" fill="#fff" stroke="#121212" stroke-width="0.73" stroke-linejoin="round" stroke-linecap="round"/>
<path d="M451.05 361.07 L454.42 358.94 L466.67 359.49 L463.02 361.52 Z" fill="#fff" stroke="#121212" stroke-width="0.73" stroke-linejoin="round" stroke-linecap="round"/>
<path d="M454.78 378.83 L451.28 377.25 L463.31 376.98 L467.12 378.49 Z" fill="#fff" stroke="#121212" stroke-width="0.73" stroke-linejoin="round" stroke-linecap="round"/>
<path d="M451.28 365.1 L454.78 363.53 L467.12 363.87 L463.31 365.38 Z" fill="#fff" stroke="#121212" stroke-width="0.73" stroke-linejoin="round" stroke-linecap="round"/>
<path d="M454.08 386.45 L454.42 383.42 L466.67 382.87 L466.25 385.77 Z" fill="#fff" stroke="#121212" stroke-width="0.73" stroke-linejoin="round" stroke-linecap="round"/>
<path d="M454.42 358.94 L454.08 355.91 L466.25 356.59 L466.67 359.49 Z" fill="#fff" stroke="#121212" stroke-width="0.73" stroke-linejoin="round" stroke-linecap="round"/>
<path d="M454.96 374.25 L451.39 373.22 L463.45 373.13 L467.36 374.11 Z" fill="#fff" stroke="#121212" stroke-width="0.73" stroke-linejoin="round" stroke-linecap="round"/>
<path d="M451.39 369.14 L454.96 368.11 L467.36 368.25 L463.45 369.23 Z" fill="#fff" stroke="#121212" stroke-width="0.73" stroke-linejoin="round" stroke-linecap="round"/>
<path d="M451.39 373.17 L454.99 372.7 L467.39 372.63 L463.46 373.09 Z" fill="#fff" stroke="#121212" stroke-width="0.73" stroke-linejoin="round" stroke-linecap="round"/>
<path d="M454.99 369.66 L451.39 369.18 L463.46 369.27 L467.39 369.73 Z" fill="#fff" stroke="#121212" stroke-width="0.73" stroke-linejoin="round" stroke-linecap="round"/>
<path d="M454.56 381.87 L454.78 378.83 L467.12 378.49 L466.85 381.39 Z" fill="#fff" stroke="#121212" stroke-width="0.73" stroke-linejoin="round" stroke-linecap="round"/>
<path d="M454.78 363.53 L454.56 360.49 L466.85 360.97 L467.12 363.87 Z" fill="#fff" stroke="#121212" stroke-width="0.73" stroke-linejoin="round" stroke-linecap="round"/>
<path d="M454.86 377.28 L454.96 374.25 L467.36 374.11 L467.22 377.01 Z" fill="#fff" stroke="#121212" stroke-width="0.73" stroke-linejoin="round" stroke-linecap="round"/>
<path d="M454.96 368.11 L454.86 365.08 L467.22 365.35 L467.36 368.25 Z" fill="#fff" stroke="#121212" stroke-width="0.73" stroke-linejoin="round" stroke-linecap="round"/>
<path d="M454.99 372.7 L454.99 369.66 L467.39 369.73 L467.39 372.63 Z" fill="#fff" stroke="#121212" stroke-width="0.73" stroke-linejoin="round" stroke-linecap="round"/>
<path d="M443.98 404.97 L444.94 409.38 L448.3 406.34 L447.19 401.43 L447.2 401.4 L449.21 404.79 L450.57 401.76 L448.59 397.42 L448.6 397.38 L451.13 400.21 L452.04 397.17 L449.53 393.39 L449.54 393.35 L452.44 395.62 L453.1 392.59 L450.21 389.36 L450.21 389.31 L453.39 391.04 L453.87 388 L450.7 385.32 L450.71 385.28 L454.08 386.45 L454.42 383.42 L451.05 381.29 L451.06 381.25 L454.56 381.87 L454.78 378.83 L451.28 377.25 L451.28 377.21 L454.86 377.28 L454.96 374.25 L451.39 373.22 L451.39 373.17 L454.99 372.7 L454.99 369.66 L451.39 369.18 L451.39 369.14 L454.96 368.11 L454.86 365.08 L451.28 365.15 L451.28 365.1 L454.78 363.53 L454.56 360.49 L451.06 361.11 L451.05 361.07 L454.42 358.94 L454.08 355.91 L450.71 357.08 L450.7 357.03 L453.87 354.36 L453.39 351.32 L450.21 353.04 L450.21 353 L453.1 349.77 L452.44 346.73 L449.54 349.01 L449.53 348.97 L452.04 345.19 L451.13 342.15 L448.6 344.98 L448.59 344.94 L450.57 340.6 L449.21 337.56 L447.2 340.96 L447.19 340.92 L448.3 336.01 L444.94 332.98 L443.98 337.39 L440.89 339.95 L438.8 336.81 L438.45 337.45 L439.71 342.69 L439.15 344.45 L436.49 342.09 L436.28 342.72 L438.41 347.36 L438.07 348.98 L435.02 347.33 L434.88 347.97 L437.54 352.01 L437.32 353.54 L434 352.56 L433.9 353.2 L436.94 356.65 L436.79 358.11 L433.3 357.79 L433.24 358.43 L436.53 361.27 L436.44 362.69 L432.86 363.02 L432.82 363.66 L436.29 365.88 L436.25 367.28 L432.63 368.25 L432.62 368.88 L436.2 370.49 L436.2 371.87 L432.62 373.47 L432.63 374.11 L436.25 375.08 L436.29 376.48 L432.82 378.7 L432.86 379.34 L436.44 379.67 L436.53 381.09 L433.24 383.93 L433.3 384.57 L436.79 384.25 L436.94 385.71 L433.9 389.16 L434 389.8 L437.32 388.82 L437.54 390.35 L434.88 394.39 L435.02 395.03 L438.07 393.37 L438.41 395 L436.28 399.63 L436.49 400.27 L439.15 397.91 L439.71 399.67 L438.45 404.91 L438.8 405.55 L440.89 402.41 Z" fill="#fff" stroke="#121212" stroke-width="1.04" stroke-linejoin="round" stroke-linecap="round"/>
<ellipse cx="445.02" cy="371.73" rx="9.06" ry="30.14" fill="none" stroke="#121212" stroke-width="2.05"/>
<ellipse cx="445.95" cy="371.73" rx="7.83" ry="27.06" fill="none" stroke="#121212" stroke-width="0.78"/>
<path d="M439.77 350.94 C440.99 349.27 444.28 348.23 445.54 349.07 C446.79 349.91 447.32 353.3 447.29 356 C447.25 358.69 446.55 363.35 445.33 365.24 C444.11 367.13 441.16 368.36 439.97 367.33 C438.79 366.3 438.26 361.81 438.22 359.08 C438.19 356.35 438.55 352.61 439.77 350.94 Z" fill="#fff" stroke="#121212" stroke-width="1.27" stroke-linejoin="round" stroke-linecap="round"/>
<path d="M438.84 375.69 C440.01 374.77 443.2 374.63 444.51 376.13 C445.81 377.63 446.79 382.27 446.67 384.71 C446.55 387.15 445.06 390.08 443.79 390.76 C442.51 391.44 440.09 390.3 439.05 388.78 C438 387.26 437.54 383.81 437.5 381.63 C437.47 379.45 437.67 376.61 438.84 375.69 Z" fill="#fff" stroke="#121212" stroke-width="1.27" stroke-linejoin="round" stroke-linecap="round"/>
<path d="M443.58 392.41 C444.54 390.92 447.91 388.76 449.14 389 C450.38 389.24 451.29 392.12 451 393.84 C450.7 395.56 448.66 398.66 447.39 399.34 C446.12 400.02 444.01 399.06 443.37 397.91 C442.74 396.75 442.62 393.89 443.58 392.41 Z" fill="#fff" stroke="#121212" stroke-width="1.27" stroke-linejoin="round" stroke-linecap="round"/>
<path d="M441.83 344.23 C442.39 343.72 449.09 343.84 450.79 345 C452.49 346.15 452.59 350.65 452.03 351.16 C451.46 351.67 449.09 349.23 447.39 348.08 C445.69 346.92 441.26 344.74 441.83 344.23 Z" fill="#fff" stroke="#121212" stroke-width="1.27" stroke-linejoin="round" stroke-linecap="round"/>
<path d="M446.42 384.84 L447.21 384.41 L447.97 383.81 L448.69 383.04 L449.36 382.12 L449.97 381.05 L450.52 379.85 L451 378.53 L451.4 377.12 L451.71 375.62 L451.94 374.07 L452.08 372.47 L452.13 370.85 L452.08 369.23 L451.94 367.63 L451.71 366.08 L451.4 364.58 L451 363.17 L450.52 361.85 L449.97 360.65 L449.36 359.58 L448.69 358.66 L447.97 357.89 L447.21 357.29 L446.42 356.86 L445.82 357.51 L446.29 357.91 L446.75 358.49 L447.18 359.22 L447.58 360.1 L447.95 361.12 L448.28 362.26 L448.57 363.52 L448.81 364.87 L449 366.3 L449.13 367.78 L449.22 369.3 L449.24 370.85 L449.22 372.39 L449.13 373.92 L449 375.4 L448.81 376.83 L448.57 378.18 L448.28 379.43 L447.95 380.58 L447.58 381.6 L447.18 382.48 L446.75 383.21 L446.29 383.78 L445.82 384.19 Z" fill="#121212" stroke="#121212" stroke-width="0.61" stroke-linejoin="round" stroke-linecap="round"/>
<path d="M444.76 380.84 L445.48 380.29 L446.15 379.58 L446.75 378.71 L447.27 377.71 L447.7 376.59 L448.04 375.38 L448.27 374.1 L448.4 372.77 L448.41 371.43 L448.31 370.1 L448.11 368.81 L447.79 367.58 L447.38 366.44 L446.88 365.41 L446.29 364.51 L445.64 363.76 L444.92 364.33 L445.4 365.03 L445.83 365.86 L446.21 366.82 L446.51 367.89 L446.74 369.03 L446.9 370.23 L446.97 371.47 L446.96 372.72 L446.87 373.95 L446.7 375.14 L446.45 376.27 L446.13 377.31 L445.74 378.24 L445.29 379.05 L444.8 379.71 L444.27 380.22 Z" fill="#121212" stroke="#121212" stroke-width="0.61" stroke-linejoin="round" stroke-linecap="round"/>
<path d="M443.62 360.55 L442.98 360.98 L442.38 361.86 L441.84 363.15 L441.4 364.8 L441.07 366.73 L440.87 368.85 L440.8 371.07 L440.87 373.29 L441.07 375.41 L441.4 377.34 L441.84 378.99 L442.38 380.28 L442.98 381.16 L443.62 381.59" fill="none" stroke="#121212" stroke-width="0.88" stroke-linejoin="round" stroke-linecap="round"/>
<line x1="432" y1="371.22" x2="436" y2="371.27" stroke="#fff" stroke-width="3.42" stroke-linecap="butt"/>
<line x1="424.5" y1="371.13" x2="449" y2="371.44" stroke="#121212" stroke-width="1.04" stroke-linecap="butt" stroke-dasharray="8 1.6 1.8 1.6"/>
<path d="M477 359.11 L489 359.11 A4.4 12.5 0 0 1 489 384.11 L477 384.11 Z" fill="#fff" stroke="#121212" stroke-width="1.83" stroke-linejoin="round" stroke-linecap="round"/>
<line x1="480.74" y1="361.78" x2="489.54" y2="361.78" stroke="#121212" stroke-width="1.83" stroke-linecap="butt"/>
<line x1="481.68" y1="364.24" x2="490.48" y2="364.24" stroke="#121212" stroke-width="1.83" stroke-linecap="butt"/>
<line x1="482.22" y1="366.69" x2="491.02" y2="366.69" stroke="#121212" stroke-width="1.83" stroke-linecap="butt"/>
<line x1="482.51" y1="369.15" x2="491.31" y2="369.15" stroke="#121212" stroke-width="1.83" stroke-linecap="butt"/>
<line x1="482.6" y1="371.61" x2="491.4" y2="371.61" stroke="#121212" stroke-width="1.83" stroke-linecap="butt"/>
<line x1="482.51" y1="374.06" x2="491.31" y2="374.06" stroke="#121212" stroke-width="1.83" stroke-linecap="butt"/>
<line x1="482.22" y1="376.52" x2="491.02" y2="376.52" stroke="#121212" stroke-width="1.83" stroke-linecap="butt"/>
<line x1="481.68" y1="378.98" x2="490.48" y2="378.98" stroke="#121212" stroke-width="1.83" stroke-linecap="butt"/>
<line x1="480.74" y1="381.43" x2="489.54" y2="381.43" stroke="#121212" stroke-width="1.83" stroke-linecap="butt"/>
<path d="M487.06 383.44 L487.69 383.13 L488.31 382.58 L488.88 381.79 L489.4 380.78 L489.87 379.57 L490.26 378.19 L490.58 376.67 L490.81 375.05 L490.95 373.35 L491 371.61 L490.95 369.87 L490.81 368.17 L490.58 366.54 L490.26 365.02 L489.87 363.65 L489.4 362.44 L488.88 361.43 L488.31 360.64 L487.69 360.08 L487.06 359.77" fill="none" stroke="#121212" stroke-width="1.59" stroke-linejoin="round" stroke-linecap="round"/>
<path d="M480.66 383.44 L481.29 383.13 L481.91 382.58 L482.48 381.79 L483 380.78 L483.47 379.57 L483.86 378.19 L484.18 376.67 L484.41 375.05 L484.55 373.35 L484.6 371.61 L484.55 369.87 L484.41 368.17 L484.18 366.54 L483.86 365.02 L483.47 363.65 L483 362.44 L482.48 361.43 L481.91 360.64 L481.29 360.08 L480.66 359.77" fill="none" stroke="#121212" stroke-width="1.59" stroke-linejoin="round" stroke-linecap="round"/>
<ellipse cx="477" cy="371.61" rx="4.4" ry="12.5" fill="#fff" stroke="#121212" stroke-width="2.32"/>
<ellipse cx="477.3" cy="371.61" rx="2.8" ry="9.5" fill="#fff" stroke="#121212" stroke-width="1.71"/>
<line x1="472" y1="371.74" x2="475" y2="371.78" stroke="#fff" stroke-width="3.42" stroke-linecap="butt"/>
<line x1="469" y1="371.7" x2="480" y2="371.85" stroke="#121212" stroke-width="1.04" stroke-linecap="butt" stroke-dasharray="8 1.6 1.8 1.6"/>
<ellipse cx="511.3" cy="372.04" rx="7.75" ry="16.5" fill="#777" stroke="#121212" stroke-width="1.1"/>
<ellipse cx="510.2" cy="372.04" rx="7.75" ry="16.5" fill="#fff" stroke="#121212" stroke-width="1.22"/>
<path d="M513.58 385.46 L514.29 384.33 L514.93 383 L515.5 381.47 L515.97 379.79 L516.35 377.97 L516.63 376.05 L516.79 374.06 L516.85 372.04 L516.79 370.01 L516.63 368.03 L516.35 366.11 L515.97 364.29 L515.5 362.6 L514.93 361.08 L514.29 359.74 L513.58 358.61" fill="none" stroke="#666" stroke-width="0.73" stroke-linejoin="round" stroke-linecap="round"/>
<ellipse cx="509.5" cy="372.44" rx="4" ry="9.5" fill="#fff" stroke="#121212" stroke-width="1.1"/>
<path d="M509.5 381.94 L509.92 381.88 L510.33 381.73 L510.74 381.47 L511.13 381.12 L511.5 380.66 L511.85 380.12 L512.18 379.5 L512.47 378.79 L512.74 378.02 L512.96 377.19 L513.15 376.3 L513.3 375.37 L513.41 374.41 L513.48 373.43 L513.5 372.44 L513.48 371.44 L513.41 370.46 L513.3 369.5 L513.15 368.57 L512.96 367.69 L512.74 366.85 L512.47 366.08 L512.18 365.38 L511.85 364.75 L511.5 364.21 L511.13 363.76 L510.74 363.4 L510.33 363.14 L509.92 362.99 L509.5 362.94 L509.5 362.94 L509.76 362.99 L510.02 363.14 L510.27 363.4 L510.52 363.76 L510.75 364.21 L510.97 364.75 L511.17 365.38 L511.36 366.08 L511.52 366.85 L511.67 367.69 L511.78 368.57 L511.88 369.5 L511.95 370.46 L511.99 371.44 L512 372.44 L511.99 373.43 L511.95 374.41 L511.88 375.37 L511.78 376.3 L511.67 377.19 L511.52 378.02 L511.36 378.79 L511.17 379.5 L510.97 380.12 L510.75 380.66 L510.52 381.12 L510.27 381.47 L510.02 381.73 L509.76 381.88 L509.5 381.94 Z" fill="#121212" stroke="#121212" stroke-width="0.49" stroke-linejoin="round" stroke-linecap="round"/>
<path d="M508.25 366.92 L507.72 367.4 L507.26 368.28 L506.9 369.47 L506.68 370.89 L506.6 372.44 L506.68 373.98 L506.9 375.4 L507.26 376.6 L507.72 377.47 L508.25 377.95" fill="none" stroke="#121212" stroke-width="0.98" stroke-linejoin="round" stroke-linecap="round"/>
<line x1="501.8" y1="372.13" x2="505.4" y2="372.18" stroke="#fff" stroke-width="3.42" stroke-linecap="butt"/>
<line x1="494" y1="372.03" x2="512" y2="372.26" stroke="#121212" stroke-width="1.04" stroke-linecap="butt" stroke-dasharray="7 2 2 2"/>
<path d="M538.22 368.41 L537.97 366.94 L537.65 365.53 L537.26 364.18 L536.8 362.91 L536.28 361.72 L535.7 360.64 L535.07 359.66 L534.4 358.8 L533.68 358.07 L532.93 357.47 L532.15 357.02 L531.35 356.7 L530.54 356.53 L529.72 356.51 L528.9 356.63 L528.1 356.9 L527.31 357.32 L526.55 357.87 L525.82 358.56 L525.13 359.38 L524.49 360.32 L523.89 361.37 L523.35 362.53 L522.87 363.77 L522.46 365.1 L522.12 366.5 L521.85 367.95 L521.66 369.44 L521.54 370.96 L521.5 372.5 L521.54 374.03 L521.66 375.55 L521.85 377.05 L522.12 378.5 L522.46 379.89 L522.87 381.22 L523.35 382.47 L523.89 383.62 L524.49 384.67 L525.13 385.61 L525.82 386.43 L526.55 387.12 L527.31 387.68 L528.1 388.09 L528.9 388.36 L529.72 388.49 L530.54 388.47 L531.35 388.29 L532.15 387.98 L532.93 387.52 L533.68 386.92 L534.4 386.19 L535.07 385.33 L535.7 384.36 L536.28 383.27 L536.8 382.09 L537.26 380.82 L537.65 379.47 L537.97 378.05 L538.22 376.59 L532.8 377.53 L532.66 378.49 L532.5 379.41 L532.32 380.26 L532.11 381.06 L531.89 381.78 L531.65 382.43 L531.4 382.99 L531.13 383.48 L530.85 383.87 L530.57 384.17 L530.28 384.37 L529.98 384.48 L529.68 384.49 L529.38 384.4 L529.09 384.22 L528.8 383.94 L528.52 383.56 L528.25 383.1 L528 382.55 L527.76 381.92 L527.53 381.21 L527.32 380.43 L527.14 379.59 L526.97 378.68 L526.83 377.73 L526.71 376.74 L526.62 375.71 L526.55 374.65 L526.51 373.58 L526.5 372.5 L526.51 371.41 L526.55 370.34 L526.62 369.29 L526.71 368.26 L526.83 367.26 L526.97 366.31 L527.14 365.41 L527.32 364.56 L527.53 363.78 L527.76 363.08 L528 362.44 L528.25 361.89 L528.52 361.43 L528.8 361.06 L529.09 360.78 L529.38 360.59 L529.68 360.5 L529.98 360.51 L530.28 360.62 L530.57 360.83 L530.85 361.13 L531.13 361.52 L531.4 362 L531.65 362.57 L531.89 363.21 L532.11 363.94 L532.32 364.73 L532.5 365.59 L532.66 366.5 L532.8 367.46 Z" fill="#fff" stroke="#121212" stroke-width="1.1" stroke-linejoin="round" stroke-linecap="round"/>
<path d="M536.68 363.52 L536.03 361.97 L535.29 360.6 L534.47 359.41 L533.57 358.43 L532.62 357.68 L531.62 357.16 L530.6 356.89 L529.57 356.87 L528.55 357.1 L527.55 357.57 L526.59 358.28 L525.68 359.22 L524.84 360.38 L524.09 361.72 L523.43 363.24 L522.87 364.91 L522.43 366.7 L522.11 368.58 L521.92 370.52 L521.85 372.5 L521.92 374.47 L522.11 376.42 L522.43 378.3 L522.87 380.08 L523.43 381.75 L524.09 383.27 L524.84 384.62 L525.68 385.77 L526.59 386.71 L527.55 387.42 L528.55 387.9 L529.57 388.13 L530.6 388.1 L531.62 387.83 L532.62 387.32 L533.57 386.56 L534.47 385.58 L535.29 384.4 L536.03 383.02 L536.68 381.47" fill="none" stroke="#121212" stroke-width="1.59" stroke-linejoin="round" stroke-linecap="round"/>
<path d="M538.62 368.81 L538.02 362.21 L535.42 361.01 L532.82 363.81 L533.02 368.81 L535.82 369.61 Z" fill="#121212" stroke="#121212" stroke-width="0.98" stroke-linejoin="round" stroke-linecap="round"/>
<ellipse cx="535.62" cy="365.41" rx="0.8" ry="1.1" fill="#666" stroke="#666" stroke-width="0.37"/>
<path d="M538.62 376.19 L538.02 382.79 L535.42 383.99 L532.82 381.19 L533.02 376.19 L535.82 375.39 Z" fill="#121212" stroke="#121212" stroke-width="0.98" stroke-linejoin="round" stroke-linecap="round"/>
<ellipse cx="535.62" cy="379.59" rx="0.8" ry="1.1" fill="#666" stroke="#666" stroke-width="0.37"/>
<line x1="521.6" y1="372.39" x2="526.2" y2="372.45" stroke="#fff" stroke-width="3.42" stroke-linecap="butt"/>
<line x1="519" y1="372.35" x2="545.5" y2="372.7" stroke="#121212" stroke-width="1.04" stroke-linecap="butt" stroke-dasharray="14 2 2 2"/>
<path d="M100.3 23.3 L143 23.3 L143 42.9" fill="none" stroke="#262626" stroke-width="0.95" stroke-linejoin="miter" stroke-linecap="round"/>
<path d="M101 123.5 L119.8 123.5 L119.8 93.5" fill="none" stroke="#262626" stroke-width="0.95" stroke-linejoin="miter" stroke-linecap="round"/>
<path d="M169.4 131.9 L177 131.9 L177 102.6" fill="none" stroke="#262626" stroke-width="0.95" stroke-linejoin="miter" stroke-linecap="round"/>
<path d="M187 23.6 L203.4 23.6 L203.4 63" fill="none" stroke="#262626" stroke-width="0.95" stroke-linejoin="miter" stroke-linecap="round"/>
<path d="M213 131.9 L220.7 131.9 L220.7 95.6" fill="none" stroke="#262626" stroke-width="0.95" stroke-linejoin="miter" stroke-linecap="round"/>
<path d="M242.6 23.6 L253 23.6 L253 48.8" fill="none" stroke="#262626" stroke-width="0.95" stroke-linejoin="miter" stroke-linecap="round"/>
<path d="M343 24.8 L378.2 24.8 L378.2 68.4" fill="none" stroke="#262626" stroke-width="0.95" stroke-linejoin="miter" stroke-linecap="round"/>
<path d="M440 24.8 L468.1 24.8 L468.1 48.6" fill="none" stroke="#262626" stroke-width="0.95" stroke-linejoin="miter" stroke-linecap="round"/>
<path d="M103 191.4 L117.4 191.4 L117.4 226.8" fill="none" stroke="#262626" stroke-width="0.95" stroke-linejoin="miter" stroke-linecap="round"/>
<path d="M171.4 191.4 L185 191.4 L185 226.2" fill="none" stroke="#262626" stroke-width="0.95" stroke-linejoin="miter" stroke-linecap="round"/>
<path d="M223.6 191.4 L236.7 191.4 L236.7 211.5" fill="none" stroke="#262626" stroke-width="0.95" stroke-linejoin="miter" stroke-linecap="round"/>
<path d="M273 191.4 L283 191.4 L283 226.4" fill="none" stroke="#262626" stroke-width="0.95" stroke-linejoin="miter" stroke-linecap="round"/>
<path d="M344.5 191.8 L359 191.8 L359 228.6" fill="none" stroke="#262626" stroke-width="0.95" stroke-linejoin="miter" stroke-linecap="round"/>
<path d="M421.3 191.4 L432.5 191.4 L432.5 230.2" fill="none" stroke="#262626" stroke-width="0.95" stroke-linejoin="miter" stroke-linecap="round"/>
<path d="M81 281 L96.7 281 L96.7 258.2" fill="none" stroke="#262626" stroke-width="0.95" stroke-linejoin="miter" stroke-linecap="round"/>
<path d="M134.5 303 L147.4 303 L147.4 274" fill="none" stroke="#262626" stroke-width="0.95" stroke-linejoin="miter" stroke-linecap="round"/>
<path d="M192 303.8 L204.8 303.8 L204.8 258.8" fill="none" stroke="#262626" stroke-width="0.95" stroke-linejoin="miter" stroke-linecap="round"/>
<path d="M248 303.8 L263.2 303.8 L263.2 258.6" fill="none" stroke="#262626" stroke-width="0.95" stroke-linejoin="miter" stroke-linecap="round"/>
<path d="M313 303.5 L329.6 303.5 L329.6 272" fill="none" stroke="#262626" stroke-width="0.95" stroke-linejoin="miter" stroke-linecap="round"/>
<path d="M373.8 304 L396.6 304 L396.6 281.8" fill="none" stroke="#262626" stroke-width="0.95" stroke-linejoin="miter" stroke-linecap="round"/>
<path d="M413 337.7 L413 341" fill="none" stroke="#262626" stroke-width="0.95" stroke-linejoin="miter" stroke-linecap="round"/>
<path d="M376.7 386 L376.7 402.3" fill="none" stroke="#262626" stroke-width="0.95" stroke-linejoin="miter" stroke-linecap="round"/>
<path d="M425 431 L449.5 431 L449.5 410.5" fill="none" stroke="#262626" stroke-width="0.95" stroke-linejoin="miter" stroke-linecap="round"/>
<path d="M486 342.7 L486 359.3" fill="none" stroke="#262626" stroke-width="0.95" stroke-linejoin="miter" stroke-linecap="round"/>
<path d="M500.3 432 L511 432 L511 388.4" fill="none" stroke="#262626" stroke-width="0.95" stroke-linejoin="miter" stroke-linecap="round"/>
<path d="M528 339.9 L528 356" fill="none" stroke="#262626" stroke-width="0.95" stroke-linejoin="miter" stroke-linecap="round"/>
<text x="95.3" y="28" font-size="13.6" font-weight="normal" text-anchor="middle" fill="#121212" stroke="#121212" stroke-width="0.55">2</text>
<text x="95" y="128.2" font-size="13.6" font-weight="normal" text-anchor="middle" fill="#121212" stroke="#121212" stroke-width="0.55">1</text>
<text x="164.4" y="136.3" font-size="13.6" font-weight="normal" text-anchor="middle" fill="#121212" stroke="#121212" stroke-width="0.55">3</text>
<text x="180" y="28.3" font-size="13.6" font-weight="normal" text-anchor="middle" fill="#121212" stroke="#121212" stroke-width="0.55">4</text>
<text x="208.5" y="136.3" font-size="13.6" font-weight="normal" text-anchor="middle" fill="#121212" stroke="#121212" stroke-width="0.55">5</text>
<text x="236.9" y="28.1" font-size="13.6" font-weight="normal" text-anchor="middle" fill="#121212" stroke="#121212" stroke-width="0.55">6</text>
<text x="337.4" y="29.4" font-size="13.6" font-weight="normal" text-anchor="middle" fill="#121212" stroke="#121212" stroke-width="0.55">7</text>
<text x="434.6" y="29.4" font-size="13.6" font-weight="normal" text-anchor="middle" fill="#121212" stroke="#121212" stroke-width="0.55">8</text>
<text x="97.6" y="196.1" font-size="13.6" font-weight="normal" text-anchor="middle" fill="#121212" stroke="#121212" stroke-width="0.55">9</text>
<text x="165.1" y="196.1" font-size="13.6" font-weight="normal" text-anchor="middle" fill="#121212" stroke="#121212" stroke-width="0.55">9</text>
<text x="213.3" y="196.1" font-size="13.6" font-weight="normal" text-anchor="middle" fill="#121212" stroke="#121212" stroke-width="0.55">12</text>
<text x="267.3" y="196.1" font-size="13.6" font-weight="normal" text-anchor="middle" fill="#121212" stroke="#121212" stroke-width="0.55">9</text>
<text x="334.7" y="196.5" font-size="14.6" font-weight="bold" text-anchor="middle" fill="#121212" stroke="#121212" stroke-width="0.2">30</text>
<text x="413.2" y="196.2" font-size="13.4" font-weight="normal" text-anchor="middle" fill="#121212" stroke="#121212" stroke-width="0.55">16</text>
<text x="70.7" y="286" font-size="15" font-weight="bold" text-anchor="middle" fill="#121212" stroke="#121212" stroke-width="0.2">23</text>
<text x="125.3" y="307.2" font-size="13.6" font-weight="normal" text-anchor="middle" fill="#121212" stroke="#121212" stroke-width="0.55">11</text>
<text x="181.8" y="308.4" font-size="13.6" font-weight="normal" text-anchor="middle" fill="#121212" stroke="#121212" stroke-width="0.55">10</text>
<text x="238.2" y="308.4" font-size="13.6" font-weight="normal" text-anchor="middle" fill="#121212" stroke="#121212" stroke-width="0.55">10</text>
<text x="305" y="308.3" font-size="13.6" font-weight="normal" text-anchor="middle" fill="#121212" stroke="#121212" stroke-width="0.55">13</text>
<text x="365.7" y="308.6" font-size="13.6" font-weight="normal" text-anchor="middle" fill="#121212" stroke="#121212" stroke-width="0.55">15</text>
<text x="413.3" y="336.7" font-size="15.2" font-weight="normal" text-anchor="middle" fill="#121212">28</text>
<text x="376.7" y="416.3" font-size="15.2" font-weight="normal" text-anchor="middle" fill="#121212">14</text>
<text x="415.7" y="435.7" font-size="15.2" font-weight="normal" text-anchor="middle" fill="#121212">17</text>
<text x="484.7" y="340" font-size="15.2" font-weight="normal" text-anchor="middle" fill="#121212">16</text>
<text x="492.2" y="436" font-size="14" font-weight="normal" text-anchor="middle" fill="#121212" stroke="#121212" stroke-width="0.25">18</text>
<text x="527.6" y="338.7" font-size="15.2" font-weight="normal" text-anchor="middle" fill="#121212">29</text>
</svg>
</body>
</html>
